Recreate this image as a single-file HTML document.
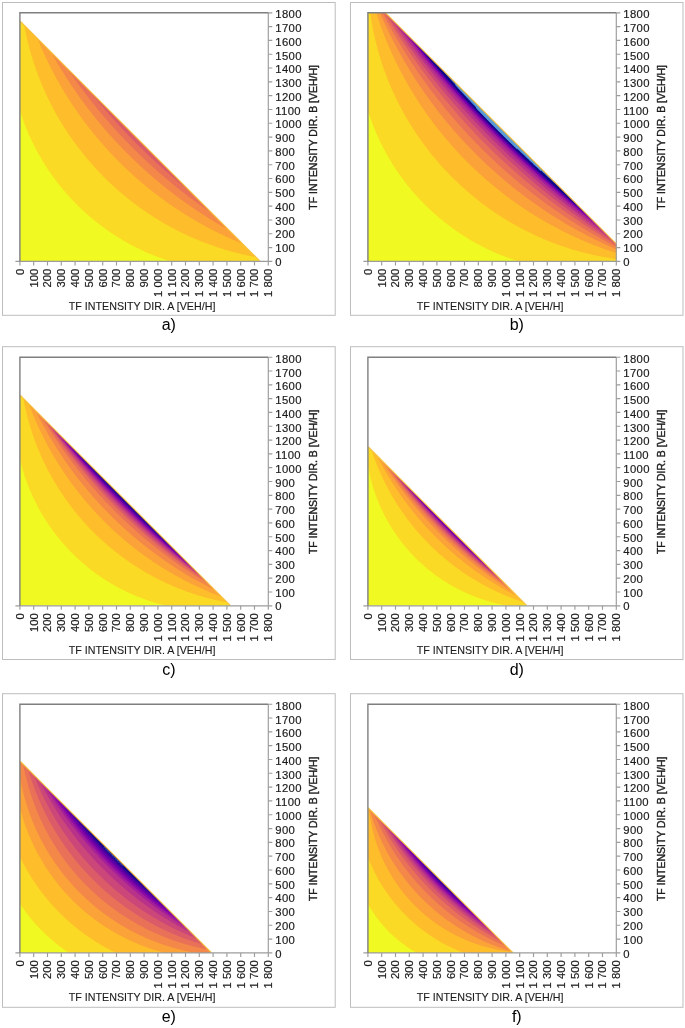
<!DOCTYPE html>
<html><head><meta charset="utf-8"><title>TF intensity contour plots</title>
<style>
html,body{margin:0;padding:0;background:#fff}
svg{display:block}
text{font-family:"Liberation Sans",sans-serif;fill:#222}
.t{font-size:11.3px;fill:#1c1c1c;stroke:#1c1c1c;stroke-width:0.18px}
.r{letter-spacing:0.35px}
.a{font-size:11.2px;fill:#1c1c1c;stroke:#1c1c1c;stroke-width:0.12px}
.yb{stroke:#1c1c1c;stroke-width:0.38px}
.c{font-size:16px;fill:#000}
</style></head><body>
<svg width="685" height="1028" viewBox="0 0 685 1028">
<rect width="685" height="1028" fill="#fff"/>
<rect x="2.5" y="2.5" width="332.7" height="312.8" fill="#fff" stroke="#bdbdbd" stroke-width="1"/>
<clipPath id="cp0"><rect x="19.9" y="12.8" width="248.4" height="248.59999999999997"/></clipPath>
<g clip-path="url(#cp0)">
<polygon points="19.90,261.40 259.74,261.40 19.90,21.36" fill="#f0f921"/>
<polygon points="19.90,110.40 20.18,111.31 20.47,112.21 20.75,113.11 21.05,114.01 21.34,114.91 21.64,115.80 21.95,116.70 22.25,117.59 22.56,118.48 22.88,119.37 23.20,120.26 23.52,121.15 23.84,122.03 24.17,122.91 24.50,123.80 24.84,124.67 25.18,125.55 25.52,126.43 25.87,127.30 26.22,128.18 26.57,129.05 26.93,129.92 27.29,130.78 27.65,131.65 28.02,132.51 28.39,133.38 28.76,134.24 29.14,135.10 29.52,135.95 29.91,136.81 30.30,137.66 30.69,138.51 31.08,139.36 31.48,140.21 31.88,141.06 32.29,141.90 32.70,142.74 33.11,143.58 33.52,144.42 33.94,145.26 34.36,146.09 34.79,146.92 35.22,147.75 35.65,148.58 36.08,149.41 36.52,150.23 36.96,151.06 37.41,151.88 37.85,152.70 38.31,153.51 38.76,154.33 39.22,155.14 39.68,155.95 40.14,156.76 40.61,157.57 41.08,158.37 41.55,159.17 42.03,159.97 42.51,160.77 42.99,161.57 43.48,162.36 43.97,163.15 44.46,163.94 44.96,164.73 45.46,165.51 45.96,166.30 46.46,167.08 46.97,167.86 47.48,168.63 48.00,169.41 48.51,170.18 49.03,170.95 49.56,171.72 50.08,172.49 50.61,173.25 51.15,174.01 51.68,174.77 52.22,175.53 52.76,176.28 53.30,177.03 53.85,177.78 54.40,178.53 54.95,179.28 55.51,180.02 56.07,180.76 56.63,181.50 57.20,182.23 57.76,182.97 58.34,183.70 58.91,184.43 59.48,185.15 60.06,185.88 60.65,186.60 61.23,187.32 61.82,188.04 62.41,188.75 63.00,189.46 63.60,190.17 64.20,190.88 64.80,191.58 65.40,192.29 66.01,192.99 66.62,193.68 67.24,194.38 67.85,195.07 68.47,195.76 69.09,196.45 69.72,197.13 70.34,197.82 70.97,198.50 71.60,199.17 72.24,199.85 72.88,200.52 73.52,201.19 74.16,201.86 74.80,202.52 75.45,203.18 76.10,203.84 76.76,204.50 77.41,205.15 78.07,205.80 78.73,206.45 79.40,207.10 80.06,207.74 80.73,208.38 81.40,209.02 82.08,209.66 82.75,210.29 83.43,210.92 84.11,211.54 84.80,212.17 85.49,212.79 86.18,213.41 86.87,214.03 87.56,214.64 88.26,215.25 88.96,215.86 89.66,216.46 90.36,217.07 91.07,217.67 91.78,218.26 92.49,218.86 93.20,219.45 93.92,220.04 94.64,220.62 95.36,221.20 96.08,221.78 96.81,222.36 97.54,222.93 98.27,223.51 99.00,224.07 99.74,224.64 100.48,225.20 101.22,225.76 101.96,226.32 102.70,226.87 103.45,227.42 104.20,227.97 104.95,228.51 105.70,229.06 106.46,229.59 107.22,230.13 107.98,230.66 108.74,231.19 109.51,231.72 110.28,232.24 111.04,232.76 111.82,233.28 112.59,233.80 113.37,234.31 114.14,234.82 114.93,235.32 115.71,235.82 116.49,236.32 117.28,236.82 118.07,237.31 118.86,237.80 119.65,238.29 120.45,238.77 121.25,239.25 122.05,239.73 122.85,240.20 123.65,240.67 124.46,241.14 125.27,241.61 126.07,242.07 126.89,242.52 127.70,242.98 128.52,243.43 129.33,243.88 130.15,244.32 130.98,244.77 131.80,245.20 132.63,245.64 133.45,246.07 134.28,246.50 135.12,246.93 135.95,247.35 136.79,247.77 137.62,248.18 138.46,248.59 139.30,249.00 140.15,249.41 140.99,249.81 141.84,250.21 142.69,250.60 143.54,251.00 144.39,251.38 145.25,251.77 146.10,252.15 146.96,252.53 147.82,252.90 148.68,253.27 149.54,253.64 150.41,254.01 151.28,254.37 152.15,254.72 153.02,255.08 153.89,255.43 154.76,255.77 155.64,256.12 156.52,256.46 157.39,256.79 158.27,257.13 159.16,257.45 160.04,257.78 160.93,258.10 161.81,258.42 162.70,258.73 163.59,259.04 164.49,259.35 165.38,259.66 166.28,259.96 167.17,260.25 168.07,260.54 168.97,260.83 169.87,261.12 170.78,261.40 259.74,261.40 19.90,21.36" fill="#fada24"/>
<polygon points="24.33,25.79 24.60,27.26 24.88,28.73 25.17,30.19 25.46,31.66 25.76,33.12 26.07,34.57 26.39,36.03 26.71,37.48 27.05,38.93 27.39,40.37 27.73,41.82 28.09,43.26 28.45,44.70 28.82,46.13 29.20,47.57 29.58,49.00 29.97,50.42 30.37,51.85 30.78,53.27 31.19,54.69 31.61,56.11 32.04,57.52 32.47,58.93 32.92,60.34 33.37,61.74 33.82,63.14 34.28,64.54 34.75,65.94 35.23,67.33 35.72,68.72 36.21,70.10 36.71,71.48 37.21,72.86 37.72,74.24 38.24,75.61 38.77,76.98 39.30,78.35 39.84,79.71 40.38,81.07 40.94,82.43 41.50,83.78 42.06,85.13 42.64,86.48 43.22,87.82 43.80,89.16 44.40,90.50 44.99,91.83 45.60,93.16 46.21,94.48 46.83,95.81 47.46,97.12 48.09,98.44 48.73,99.75 49.37,101.06 50.02,102.36 50.68,103.66 51.35,104.96 52.02,106.25 52.69,107.54 53.38,108.82 54.07,110.10 54.76,111.38 55.46,112.65 56.17,113.92 56.89,115.19 57.61,116.45 58.33,117.71 59.07,118.96 59.81,120.21 60.55,121.46 61.30,122.70 62.06,123.94 62.82,125.17 63.59,126.40 64.37,127.63 65.15,128.85 65.94,130.07 66.73,131.28 67.53,132.49 68.33,133.69 69.14,134.89 69.96,136.09 70.78,137.28 71.61,138.47 72.44,139.65 73.28,140.83 74.13,142.00 74.98,143.17 75.84,144.34 76.70,145.50 77.57,146.66 78.44,147.81 79.32,148.96 80.20,150.10 81.09,151.24 81.99,152.37 82.89,153.50 83.80,154.63 84.71,155.75 85.63,156.86 86.55,157.97 87.48,159.08 88.42,160.18 89.36,161.28 90.30,162.37 91.25,163.46 92.21,164.54 93.17,165.62 94.13,166.69 95.10,167.76 96.08,168.82 97.06,169.88 98.05,170.94 99.04,171.98 100.04,173.03 101.04,174.07 102.05,175.10 103.06,176.13 104.08,177.15 105.10,178.17 106.13,179.18 107.16,180.19 108.20,181.20 109.24,182.19 110.29,183.19 111.34,184.17 112.40,185.16 113.46,186.14 114.53,187.11 115.60,188.07 116.68,189.04 117.76,189.99 118.85,190.94 119.94,191.89 121.04,192.83 122.14,193.76 123.24,194.69 124.35,195.62 125.47,196.54 126.59,197.45 127.71,198.36 128.84,199.26 129.97,200.16 131.11,201.05 132.25,201.93 133.40,202.81 134.55,203.69 135.71,204.56 136.87,205.42 138.03,206.28 139.20,207.13 140.37,207.97 141.55,208.81 142.73,209.65 143.92,210.48 145.11,211.30 146.31,212.12 147.51,212.93 148.71,213.73 149.92,214.53 151.13,215.33 152.35,216.12 153.57,216.90 154.79,217.67 156.02,218.44 157.25,219.21 158.49,219.96 159.73,220.72 160.97,221.46 162.22,222.20 163.48,222.93 164.73,223.66 165.99,224.38 167.26,225.10 168.53,225.81 169.80,226.51 171.07,227.21 172.35,227.90 173.64,228.58 174.93,229.26 176.22,229.93 177.51,230.59 178.81,231.25 180.11,231.90 181.42,232.55 182.73,233.19 184.04,233.82 185.36,234.45 186.68,235.07 188.01,235.68 189.33,236.29 190.67,236.89 192.00,237.48 193.34,238.07 194.68,238.65 196.03,239.22 197.37,239.79 198.73,240.35 200.08,240.90 201.44,241.45 202.80,241.98 204.17,242.52 205.54,243.04 206.91,243.56 208.28,244.08 209.66,244.58 211.04,245.08 212.43,245.57 213.82,246.06 215.21,246.53 216.60,247.00 218.00,247.47 219.40,247.92 220.80,248.37 222.21,248.82 223.62,249.25 225.03,249.68 226.44,250.10 227.86,250.51 229.28,250.92 230.71,251.32 232.13,251.71 233.56,252.10 234.99,252.47 236.43,252.84 237.87,253.20 239.31,253.56 240.75,253.91 242.19,254.25 243.64,254.58 245.09,254.91 246.55,255.22 248.00,255.53 249.46,255.84 250.92,256.13 252.38,256.42 253.85,256.70 255.32,256.97 259.74,261.40 19.90,21.36" fill="#febd2a"/>
<polygon points="37.91,39.39 38.38,40.55 38.86,41.71 39.34,42.87 39.83,44.03 40.32,45.18 40.81,46.34 41.31,47.49 41.81,48.64 42.32,49.79 42.83,50.93 43.34,52.08 43.86,53.22 44.38,54.36 44.90,55.50 45.43,56.63 45.96,57.77 46.50,58.90 47.04,60.03 47.58,61.16 48.12,62.28 48.68,63.41 49.23,64.53 49.79,65.65 50.35,66.76 50.91,67.88 51.48,68.99 52.05,70.10 52.63,71.21 53.21,72.32 53.79,73.42 54.38,74.52 54.97,75.62 55.57,76.72 56.16,77.81 56.76,78.91 57.37,80.00 57.98,81.09 58.59,82.17 59.21,83.26 59.83,84.34 60.45,85.42 61.07,86.50 61.70,87.57 62.34,88.64 62.97,89.71 63.61,90.78 64.26,91.85 64.91,92.91 65.56,93.97 66.21,95.03 66.87,96.09 67.53,97.14 68.19,98.19 68.86,99.24 69.53,100.29 70.21,101.33 70.89,102.38 71.57,103.42 72.25,104.45 72.94,105.49 73.63,106.52 74.33,107.55 75.03,108.58 75.73,109.60 76.43,110.62 77.14,111.65 77.85,112.66 78.57,113.68 79.29,114.69 80.01,115.70 80.74,116.71 81.46,117.71 82.20,118.72 82.93,119.72 83.67,120.71 84.41,121.71 85.16,122.70 85.90,123.69 86.65,124.68 87.41,125.66 88.17,126.64 88.93,127.62 89.69,128.60 90.46,129.58 91.23,130.55 92.00,131.52 92.78,132.48 93.56,133.45 94.34,134.41 95.13,135.36 95.92,136.32 96.71,137.27 97.51,138.22 98.30,139.17 99.11,140.12 99.91,141.06 100.72,142.00 101.53,142.93 102.34,143.87 103.16,144.80 103.98,145.73 104.81,146.65 105.63,147.58 106.46,148.50 107.29,149.41 108.13,150.33 108.97,151.24 109.81,152.15 110.65,153.06 111.50,153.96 112.35,154.86 113.20,155.76 114.06,156.65 114.92,157.54 115.78,158.43 116.65,159.32 117.52,160.20 118.39,161.08 119.26,161.96 120.14,162.83 121.02,163.71 121.90,164.58 122.78,165.44 123.67,166.30 124.56,167.16 125.46,168.02 126.35,168.87 127.25,169.73 128.16,170.57 129.06,171.42 129.97,172.26 130.88,173.10 131.80,173.94 132.71,174.77 133.63,175.60 134.55,176.43 135.48,177.25 136.41,178.07 137.34,178.89 138.27,179.70 139.21,180.52 140.14,181.32 141.09,182.13 142.03,182.93 142.98,183.73 143.93,184.53 144.88,185.32 145.83,186.11 146.79,186.90 147.75,187.68 148.71,188.46 149.68,189.24 150.65,190.01 151.62,190.78 152.59,191.55 153.57,192.32 154.55,193.08 155.53,193.84 156.51,194.59 157.50,195.34 158.49,196.09 159.48,196.84 160.47,197.58 161.47,198.32 162.47,199.05 163.47,199.79 164.48,200.52 165.48,201.24 166.49,201.96 167.50,202.68 168.52,203.40 169.53,204.11 170.55,204.82 171.58,205.53 172.60,206.23 173.63,206.93 174.66,207.62 175.69,208.32 176.72,209.00 177.76,209.69 178.80,210.37 179.84,211.05 180.88,211.73 181.93,212.40 182.98,213.07 184.03,213.73 185.08,214.39 186.14,215.05 187.19,215.71 188.25,216.36 189.32,217.01 190.38,217.65 191.45,218.29 192.52,218.93 193.59,219.56 194.66,220.19 195.74,220.82 196.82,221.44 197.90,222.06 198.98,222.68 200.07,223.29 201.16,223.90 202.25,224.51 203.34,225.11 204.43,225.71 205.53,226.30 206.63,226.89 207.73,227.48 208.83,228.06 209.94,228.64 211.05,229.22 212.15,229.79 213.27,230.36 214.38,230.93 215.50,231.49 216.61,232.05 217.74,232.60 218.86,233.15 219.98,233.70 221.11,234.24 222.24,234.78 223.37,235.32 224.50,235.85 225.64,236.38 226.77,236.90 227.91,237.42 229.05,237.94 230.20,238.45 231.34,238.96 232.49,239.47 233.64,239.97 234.79,240.47 235.94,240.96 237.10,241.45 238.25,241.94 239.41,242.42 240.57,242.90 241.74,243.38 259.74,261.40 19.90,21.36" fill="#fba238"/>
<polygon points="51.89,53.38 52.40,54.31 52.92,55.23 53.45,56.16 53.97,57.09 54.50,58.01 55.03,58.93 55.56,59.85 56.09,60.78 56.62,61.69 57.16,62.61 57.70,63.53 58.24,64.44 58.78,65.36 59.33,66.27 59.88,67.18 60.43,68.09 60.98,69.00 61.53,69.90 62.09,70.81 62.64,71.71 63.20,72.61 63.77,73.51 64.33,74.41 64.90,75.31 65.46,76.21 66.03,77.10 66.61,78.00 67.18,78.89 67.76,79.78 68.33,80.67 68.91,81.56 69.50,82.44 70.08,83.33 70.67,84.21 71.26,85.09 71.85,85.97 72.44,86.85 73.03,87.73 73.63,88.61 74.23,89.48 74.83,90.36 75.43,91.23 76.03,92.10 76.64,92.97 77.25,93.84 77.86,94.70 78.47,95.57 79.09,96.43 79.70,97.29 80.32,98.15 80.94,99.01 81.56,99.87 82.19,100.72 82.81,101.58 83.44,102.43 84.07,103.28 84.70,104.13 85.34,104.98 85.97,105.82 86.61,106.67 87.25,107.51 87.89,108.35 88.54,109.19 89.18,110.03 89.83,110.87 90.48,111.70 91.13,112.54 91.78,113.37 92.44,114.20 93.09,115.03 93.75,115.86 94.41,116.68 95.08,117.51 95.74,118.33 96.41,119.15 97.07,119.97 97.74,120.79 98.42,121.61 99.09,122.42 99.77,123.24 100.44,124.05 101.12,124.86 101.80,125.67 102.49,126.47 103.17,127.28 103.86,128.08 104.55,128.89 105.24,129.69 105.93,130.48 106.63,131.28 107.32,132.08 108.02,132.87 108.72,133.66 109.42,134.45 110.12,135.24 110.83,136.03 111.54,136.82 112.24,137.60 112.95,138.38 113.67,139.16 114.38,139.94 115.10,140.72 115.82,141.49 116.53,142.27 117.26,143.04 117.98,143.81 118.70,144.58 119.43,145.35 120.16,146.11 120.89,146.88 121.62,147.64 122.35,148.40 123.09,149.16 123.83,149.91 124.57,150.67 125.31,151.42 126.05,152.18 126.79,152.93 127.54,153.67 128.29,154.42 129.04,155.16 129.79,155.91 130.54,156.65 131.30,157.39 132.05,158.13 132.81,158.86 133.57,159.60 134.33,160.33 135.09,161.06 135.86,161.79 136.63,162.52 137.39,163.24 138.16,163.97 138.94,164.69 139.71,165.41 140.48,166.13 141.26,166.84 142.04,167.56 142.82,168.27 143.60,168.98 144.38,169.69 145.17,170.40 145.96,171.10 146.74,171.81 147.53,172.51 148.33,173.21 149.12,173.91 149.91,174.60 150.71,175.30 151.51,175.99 152.31,176.68 153.11,177.37 153.91,178.06 154.72,178.75 155.52,179.43 156.33,180.11 157.14,180.79 157.95,181.47 158.77,182.15 159.58,182.82 160.40,183.49 161.21,184.16 162.03,184.83 162.85,185.50 163.68,186.16 164.50,186.83 165.32,187.49 166.15,188.15 166.98,188.81 167.81,189.46 168.64,190.11 169.48,190.77 170.31,191.42 171.15,192.06 171.98,192.71 172.82,193.35 173.67,194.00 174.51,194.64 175.35,195.27 176.20,195.91 177.04,196.54 177.89,197.18 178.74,197.81 179.60,198.44 180.45,199.06 181.30,199.69 182.16,200.31 183.02,200.93 183.88,201.55 184.74,202.17 185.60,202.78 186.46,203.39 187.33,204.00 188.20,204.61 189.06,205.22 189.93,205.83 190.81,206.43 191.68,207.03 192.55,207.63 193.43,208.22 194.31,208.82 195.18,209.41 196.06,210.00 196.95,210.59 197.83,211.18 198.71,211.76 199.60,212.35 200.49,212.93 201.37,213.51 202.26,214.08 203.16,214.66 204.05,215.23 204.94,215.80 205.84,216.37 206.74,216.93 207.64,217.50 208.54,218.06 209.44,218.62 210.34,219.18 211.24,219.74 212.15,220.29 213.06,220.84 213.97,221.39 214.88,221.94 215.79,222.49 216.70,223.03 217.61,223.57 218.53,224.11 219.45,224.65 220.36,225.18 221.28,225.72 222.20,226.25 223.13,226.77 224.05,227.30 224.97,227.83 225.90,228.35 226.83,228.87 227.76,229.39 259.74,261.40 19.90,21.36" fill="#f48849"/>
<polygon points="68.34,69.85 68.83,70.56 69.31,71.26 69.79,71.97 70.28,72.68 70.76,73.38 71.25,74.09 71.74,74.79 72.23,75.49 72.72,76.19 73.21,76.90 73.70,77.60 74.20,78.30 74.69,78.99 75.19,79.69 75.68,80.39 76.18,81.09 76.68,81.78 77.18,82.48 77.68,83.17 78.19,83.86 78.69,84.56 79.19,85.25 79.70,85.94 80.21,86.63 80.71,87.32 81.22,88.00 81.73,88.69 82.24,89.38 82.76,90.06 83.27,90.75 83.78,91.43 84.30,92.11 84.81,92.80 85.33,93.48 85.85,94.16 86.37,94.84 86.89,95.52 87.41,96.19 87.93,96.87 88.46,97.55 88.98,98.22 89.51,98.90 90.04,99.57 90.56,100.24 91.09,100.91 91.62,101.59 92.15,102.26 92.69,102.92 93.22,103.59 93.75,104.26 94.29,104.93 94.83,105.59 95.36,106.26 95.90,106.92 96.44,107.58 96.98,108.25 97.52,108.91 98.06,109.57 98.61,110.23 99.15,110.89 99.70,111.55 100.25,112.20 100.79,112.86 101.34,113.51 101.89,114.17 102.44,114.82 102.99,115.47 103.55,116.13 104.10,116.78 104.65,117.43 105.21,118.07 105.77,118.72 106.33,119.37 106.88,120.02 107.44,120.66 108.00,121.31 108.57,121.95 109.13,122.59 109.69,123.23 110.26,123.88 110.82,124.52 111.39,125.15 111.96,125.79 112.53,126.43 113.10,127.07 113.67,127.70 114.24,128.34 114.81,128.97 115.39,129.60 115.96,130.23 116.54,130.86 117.12,131.49 117.69,132.12 118.27,132.75 118.85,133.38 119.43,134.00 120.01,134.63 120.60,135.25 121.18,135.88 121.77,136.50 122.35,137.12 122.94,137.74 123.53,138.36 124.11,138.98 124.70,139.60 125.29,140.22 125.89,140.83 126.48,141.45 127.07,142.06 127.67,142.67 128.26,143.29 128.86,143.90 129.46,144.51 130.05,145.12 130.65,145.72 131.25,146.33 131.85,146.94 132.46,147.54 133.06,148.15 133.66,148.75 134.27,149.36 134.88,149.96 135.48,150.56 136.09,151.16 136.70,151.76 137.31,152.35 137.92,152.95 138.53,153.55 139.14,154.14 139.76,154.74 140.37,155.33 140.99,155.92 141.60,156.51 142.22,157.10 142.84,157.69 143.46,158.28 144.08,158.87 144.70,159.45 145.32,160.04 145.94,160.62 146.57,161.21 147.19,161.79 147.82,162.37 148.45,162.95 149.07,163.53 149.70,164.11 150.33,164.68 150.96,165.26 151.59,165.84 152.22,166.41 152.86,166.98 153.49,167.56 154.13,168.13 154.76,168.70 155.40,169.27 156.04,169.84 156.67,170.40 157.31,170.97 157.95,171.53 158.60,172.10 159.24,172.66 159.88,173.22 160.52,173.79 161.17,174.35 161.82,174.91 162.46,175.46 163.11,176.02 163.76,176.58 164.41,177.13 165.06,177.69 165.71,178.24 166.36,178.79 167.01,179.34 167.67,179.89 168.32,180.44 168.98,180.99 169.63,181.54 170.29,182.08 170.95,182.63 171.61,183.17 172.27,183.72 172.93,184.26 173.59,184.80 174.25,185.34 174.92,185.88 175.58,186.41 176.25,186.95 176.91,187.49 177.58,188.02 178.25,188.56 178.92,189.09 179.59,189.62 180.26,190.15 180.93,190.68 181.60,191.21 182.27,191.73 182.95,192.26 183.62,192.79 184.30,193.31 184.97,193.83 185.65,194.36 186.33,194.88 187.01,195.40 187.69,195.92 188.37,196.43 189.05,196.95 189.73,197.47 190.42,197.98 191.10,198.49 191.78,199.01 192.47,199.52 193.16,200.03 193.84,200.54 194.53,201.05 195.22,201.55 195.91,202.06 196.60,202.56 197.29,203.07 197.99,203.57 198.68,204.07 199.37,204.57 200.07,205.07 200.76,205.57 201.46,206.07 202.16,206.56 202.86,207.06 203.56,207.55 204.26,208.05 204.96,208.54 205.66,209.03 206.36,209.52 207.06,210.01 207.77,210.50 208.47,210.98 209.18,211.47 209.88,211.95 210.59,212.43 211.30,212.92 259.74,261.40 19.90,21.36" fill="#e97158"/>
<polygon points="90.39,91.91 90.76,92.37 91.13,92.83 91.50,93.29 91.86,93.75 92.23,94.21 92.60,94.67 92.97,95.13 93.35,95.59 93.72,96.04 94.09,96.50 94.46,96.96 94.83,97.41 95.21,97.87 95.58,98.33 95.95,98.78 96.33,99.24 96.70,99.69 97.08,100.15 97.45,100.60 97.83,101.05 98.20,101.51 98.58,101.96 98.96,102.41 99.33,102.87 99.71,103.32 100.09,103.77 100.47,104.22 100.85,104.67 101.23,105.12 101.61,105.57 101.99,106.02 102.37,106.47 102.75,106.92 103.13,107.37 103.51,107.82 103.90,108.26 104.28,108.71 104.66,109.16 105.05,109.61 105.43,110.05 105.82,110.50 106.20,110.94 106.59,111.39 106.97,111.84 107.36,112.28 107.75,112.72 108.13,113.17 108.52,113.61 108.91,114.05 109.30,114.50 109.68,114.94 110.07,115.38 110.46,115.82 110.85,116.27 111.24,116.71 111.63,117.15 112.03,117.59 112.42,118.03 112.81,118.47 113.20,118.91 113.59,119.34 113.99,119.78 114.38,120.22 114.77,120.66 115.17,121.10 115.56,121.53 115.96,121.97 116.35,122.41 116.75,122.84 117.15,123.28 117.54,123.71 117.94,124.15 118.34,124.58 118.74,125.01 119.14,125.45 119.53,125.88 119.93,126.31 120.33,126.75 120.73,127.18 121.13,127.61 121.53,128.04 121.94,128.47 122.34,128.90 122.74,129.33 123.14,129.76 123.54,130.19 123.95,130.62 124.35,131.05 124.76,131.48 125.16,131.90 125.57,132.33 125.97,132.76 126.38,133.19 126.78,133.61 127.19,134.04 127.60,134.46 128.00,134.89 128.41,135.31 128.82,135.74 129.23,136.16 129.64,136.59 130.04,137.01 130.45,137.43 130.86,137.85 131.28,138.28 131.69,138.70 132.10,139.12 132.51,139.54 132.92,139.96 133.33,140.38 133.75,140.80 134.16,141.22 134.57,141.64 134.99,142.06 135.40,142.47 135.82,142.89 136.23,143.31 136.65,143.73 137.06,144.14 137.48,144.56 137.89,144.98 138.31,145.39 138.73,145.81 139.15,146.22 139.57,146.64 139.98,147.05 140.40,147.46 140.82,147.88 141.24,148.29 141.66,148.70 142.08,149.11 142.50,149.52 142.93,149.94 143.35,150.35 143.77,150.76 144.19,151.17 144.61,151.58 145.04,151.99 145.46,152.39 145.89,152.80 146.31,153.21 146.73,153.62 147.16,154.02 147.59,154.43 148.01,154.84 148.44,155.24 148.86,155.65 149.29,156.05 149.72,156.46 150.15,156.86 150.57,157.27 151.00,157.67 151.43,158.07 151.86,158.48 152.29,158.88 152.72,159.28 153.15,159.68 153.58,160.08 154.01,160.49 154.45,160.89 154.88,161.29 155.31,161.69 155.74,162.08 156.18,162.48 156.61,162.88 157.04,163.28 157.48,163.68 157.91,164.07 158.35,164.47 158.78,164.87 159.22,165.26 159.66,165.66 160.09,166.05 160.53,166.45 160.97,166.84 161.40,167.24 161.84,167.63 162.28,168.02 162.72,168.42 163.16,168.81 163.60,169.20 164.04,169.59 164.48,169.98 164.92,170.37 165.36,170.76 165.80,171.15 166.24,171.54 166.68,171.93 167.13,172.32 167.57,172.71 168.01,173.10 168.46,173.48 168.90,173.87 169.34,174.26 169.79,174.64 170.23,175.03 170.68,175.41 171.13,175.80 171.57,176.18 172.02,176.57 172.46,176.95 172.91,177.33 173.36,177.72 173.81,178.10 174.26,178.48 174.70,178.86 175.15,179.24 175.60,179.63 176.05,180.01 176.50,180.39 176.95,180.77 177.40,181.14 177.86,181.52 178.31,181.90 178.76,182.28 179.21,182.66 179.66,183.03 180.12,183.41 180.57,183.79 181.02,184.16 181.48,184.54 181.93,184.91 182.39,185.29 182.84,185.66 183.30,186.03 183.75,186.41 184.21,186.78 184.67,187.15 185.12,187.52 185.58,187.90 186.04,188.27 186.50,188.64 186.96,189.01 187.41,189.38 187.87,189.75 188.33,190.12 188.79,190.48 189.25,190.85 259.74,261.40 19.90,21.36" fill="#db5c68"/>
<line x1="19.90" y1="21.36" x2="259.74" y2="261.40" stroke="#f6bf3b" stroke-width="1.15" stroke-opacity="0.95" transform="translate(0.25 -0.25)"/>
</g>
<path d="M268.3 12.8V261.4" stroke="#9c9c9c" stroke-width="1.15" fill="none"/>
<path d="M15.399999999999999 261.4H268.3" stroke="#9c9c9c" stroke-width="1.15" fill="none"/>
<path d="M268.3 261.40h4M19.90 261.4v4M268.3 247.59h4M33.70 261.4v4M268.3 233.78h4M47.50 261.4v4M268.3 219.97h4M61.30 261.4v4M268.3 206.16h4M75.10 261.4v4M268.3 192.34h4M88.90 261.4v4M268.3 178.53h4M102.70 261.4v4M268.3 164.72h4M116.50 261.4v4M268.3 150.91h4M130.30 261.4v4M268.3 137.10h4M144.10 261.4v4M268.3 123.29h4M157.90 261.4v4M268.3 109.48h4M171.70 261.4v4M268.3 95.67h4M185.50 261.4v4M268.3 81.86h4M199.30 261.4v4M268.3 68.04h4M213.10 261.4v4M268.3 54.23h4M226.90 261.4v4M268.3 40.42h4M240.70 261.4v4M268.3 26.61h4M254.50 261.4v4M268.3 12.80h4M268.30 261.4v4" stroke="#9c9c9c" stroke-width="1.15" fill="none"/>
<path d="M19.9 261.4V12.8H268.3" stroke="#7f7f7f" stroke-width="1.4" fill="none"/>
<text x="275.3" y="266.00" class="t r">0</text>
<text x="275.3" y="252.24" class="t r">100</text>
<text x="275.3" y="238.49" class="t r">200</text>
<text x="275.3" y="224.73" class="t r">300</text>
<text x="275.3" y="210.98" class="t r">400</text>
<text x="275.3" y="197.22" class="t r">500</text>
<text x="275.3" y="183.47" class="t r">600</text>
<text x="275.3" y="169.71" class="t r">700</text>
<text x="275.3" y="155.96" class="t r">800</text>
<text x="275.3" y="142.20" class="t r">900</text>
<text x="275.3" y="128.44" class="t r">1000</text>
<text x="275.3" y="114.69" class="t r">1100</text>
<text x="275.3" y="100.93" class="t r">1200</text>
<text x="275.3" y="87.18" class="t r">1300</text>
<text x="275.3" y="73.42" class="t r">1400</text>
<text x="275.3" y="59.67" class="t r">1500</text>
<text x="275.3" y="45.91" class="t r">1600</text>
<text x="275.3" y="32.16" class="t r">1700</text>
<text x="275.3" y="18.40" class="t r">1800</text>
<text transform="translate(23.80 268.7) rotate(-90)" text-anchor="end" class="t">0</text>
<text transform="translate(37.60 268.7) rotate(-90)" text-anchor="end" class="t">100</text>
<text transform="translate(51.40 268.7) rotate(-90)" text-anchor="end" class="t">200</text>
<text transform="translate(65.20 268.7) rotate(-90)" text-anchor="end" class="t">300</text>
<text transform="translate(79.00 268.7) rotate(-90)" text-anchor="end" class="t">400</text>
<text transform="translate(92.80 268.7) rotate(-90)" text-anchor="end" class="t">500</text>
<text transform="translate(106.60 268.7) rotate(-90)" text-anchor="end" class="t">600</text>
<text transform="translate(120.40 268.7) rotate(-90)" text-anchor="end" class="t">700</text>
<text transform="translate(134.20 268.7) rotate(-90)" text-anchor="end" class="t">800</text>
<text transform="translate(148.00 268.7) rotate(-90)" text-anchor="end" class="t">900</text>
<text transform="translate(161.80 268.7) rotate(-90)" text-anchor="end" class="t">1 000</text>
<text transform="translate(175.60 268.7) rotate(-90)" text-anchor="end" class="t">1 100</text>
<text transform="translate(189.40 268.7) rotate(-90)" text-anchor="end" class="t">1 200</text>
<text transform="translate(203.20 268.7) rotate(-90)" text-anchor="end" class="t">1 300</text>
<text transform="translate(217.00 268.7) rotate(-90)" text-anchor="end" class="t">1 400</text>
<text transform="translate(230.80 268.7) rotate(-90)" text-anchor="end" class="t">1 500</text>
<text transform="translate(244.60 268.7) rotate(-90)" text-anchor="end" class="t">1 600</text>
<text transform="translate(258.40 268.7) rotate(-90)" text-anchor="end" class="t">1 700</text>
<text transform="translate(272.20 268.7) rotate(-90)" text-anchor="end" class="t">1 800</text>
<text x="142.1" y="309.9" text-anchor="middle" class="a" textLength="146.6" lengthAdjust="spacingAndGlyphs">TF INTENSITY DIR. A [VEH/H]</text>
<text transform="translate(316.9 137.4) rotate(-90)" text-anchor="middle" class="a yb" textLength="144.5" lengthAdjust="spacingAndGlyphs">TF INTENSITY DIR. B [VEH/H]</text>
<text x="168.8" y="330.3" text-anchor="middle" class="c">a)</text>
<rect x="350.5" y="2.5" width="332.5" height="312.8" fill="#fff" stroke="#bdbdbd" stroke-width="1"/>
<clipPath id="cp1"><rect x="367.9" y="12.8" width="248.39999999999998" height="248.59999999999997"/></clipPath>
<g clip-path="url(#cp1)">
<polygon points="367.90,261.40 633.41,261.40 367.90,-4.33" fill="#f0f921"/>
<polygon points="367.90,110.40 368.18,111.31 368.47,112.21 368.75,113.11 369.05,114.01 369.34,114.91 369.64,115.80 369.95,116.70 370.25,117.59 370.56,118.48 370.88,119.37 371.20,120.26 371.52,121.15 371.84,122.03 372.17,122.91 372.50,123.80 372.84,124.67 373.18,125.55 373.52,126.43 373.87,127.30 374.22,128.18 374.57,129.05 374.93,129.92 375.29,130.78 375.65,131.65 376.02,132.51 376.39,133.38 376.76,134.24 377.14,135.10 377.52,135.95 377.91,136.81 378.30,137.66 378.69,138.51 379.08,139.36 379.48,140.21 379.88,141.06 380.29,141.90 380.70,142.74 381.11,143.58 381.52,144.42 381.94,145.26 382.36,146.09 382.79,146.92 383.22,147.75 383.65,148.58 384.08,149.41 384.52,150.23 384.96,151.06 385.41,151.88 385.85,152.70 386.31,153.51 386.76,154.33 387.22,155.14 387.68,155.95 388.14,156.76 388.61,157.57 389.08,158.37 389.55,159.17 390.03,159.97 390.51,160.77 390.99,161.57 391.48,162.36 391.97,163.15 392.46,163.94 392.96,164.73 393.46,165.51 393.96,166.30 394.46,167.08 394.97,167.86 395.48,168.63 396.00,169.41 396.51,170.18 397.03,170.95 397.56,171.72 398.08,172.49 398.61,173.25 399.15,174.01 399.68,174.77 400.22,175.53 400.76,176.28 401.30,177.03 401.85,177.78 402.40,178.53 402.95,179.28 403.51,180.02 404.07,180.76 404.63,181.50 405.20,182.23 405.76,182.97 406.34,183.70 406.91,184.43 407.48,185.15 408.06,185.88 408.65,186.60 409.23,187.32 409.82,188.04 410.41,188.75 411.00,189.46 411.60,190.17 412.20,190.88 412.80,191.58 413.40,192.29 414.01,192.99 414.62,193.68 415.24,194.38 415.85,195.07 416.47,195.76 417.09,196.45 417.72,197.13 418.34,197.82 418.97,198.50 419.60,199.17 420.24,199.85 420.88,200.52 421.52,201.19 422.16,201.86 422.80,202.52 423.45,203.18 424.10,203.84 424.76,204.50 425.41,205.15 426.07,205.80 426.73,206.45 427.40,207.10 428.06,207.74 428.73,208.38 429.40,209.02 430.08,209.66 430.75,210.29 431.43,210.92 432.11,211.54 432.80,212.17 433.49,212.79 434.18,213.41 434.87,214.03 435.56,214.64 436.26,215.25 436.96,215.86 437.66,216.46 438.36,217.07 439.07,217.67 439.78,218.26 440.49,218.86 441.20,219.45 441.92,220.04 442.64,220.62 443.36,221.20 444.08,221.78 444.81,222.36 445.54,222.93 446.27,223.51 447.00,224.07 447.74,224.64 448.48,225.20 449.22,225.76 449.96,226.32 450.70,226.87 451.45,227.42 452.20,227.97 452.95,228.51 453.70,229.06 454.46,229.59 455.22,230.13 455.98,230.66 456.74,231.19 457.51,231.72 458.28,232.24 459.04,232.76 459.82,233.28 460.59,233.80 461.37,234.31 462.14,234.82 462.93,235.32 463.71,235.82 464.49,236.32 465.28,236.82 466.07,237.31 466.86,237.80 467.65,238.29 468.45,238.77 469.25,239.25 470.05,239.73 470.85,240.20 471.65,240.67 472.46,241.14 473.27,241.61 474.07,242.07 474.89,242.52 475.70,242.98 476.52,243.43 477.33,243.88 478.15,244.32 478.98,244.77 479.80,245.20 480.63,245.64 481.45,246.07 482.28,246.50 483.12,246.93 483.95,247.35 484.79,247.77 485.62,248.18 486.46,248.59 487.30,249.00 488.15,249.41 488.99,249.81 489.84,250.21 490.69,250.60 491.54,251.00 492.39,251.38 493.25,251.77 494.10,252.15 494.96,252.53 495.82,252.90 496.68,253.27 497.54,253.64 498.41,254.01 499.28,254.37 500.15,254.72 501.02,255.08 501.89,255.43 502.76,255.77 503.64,256.12 504.52,256.46 505.39,256.79 506.27,257.13 507.16,257.45 508.04,257.78 508.93,258.10 509.81,258.42 510.70,258.73 511.59,259.04 512.49,259.35 513.38,259.66 514.28,259.96 515.17,260.25 516.07,260.54 516.97,260.83 517.87,261.12 518.78,261.40 633.41,261.40 367.90,-4.33" fill="#fada24"/>
<polygon points="368.58,-3.65 368.71,-1.89 368.86,-0.13 369.01,1.63 369.18,3.38 369.36,5.14 369.55,6.88 369.75,8.63 369.96,10.37 370.19,12.11 370.42,13.85 370.66,15.58 370.92,17.32 371.18,19.04 371.46,20.77 371.75,22.49 372.04,24.21 372.35,25.92 372.67,27.64 373.00,29.35 373.34,31.05 373.69,32.75 374.05,34.45 374.42,36.15 374.80,37.84 375.19,39.53 375.59,41.21 376.00,42.90 376.42,44.57 376.85,46.25 377.29,47.92 377.74,49.58 378.20,51.25 378.67,52.90 379.15,54.56 379.64,56.21 380.14,57.86 380.65,59.50 381.17,61.14 381.70,62.77 382.24,64.40 382.79,66.03 383.34,67.65 383.91,69.27 384.49,70.88 385.07,72.49 385.67,74.10 386.27,75.70 386.89,77.30 387.51,78.89 388.14,80.48 388.79,82.06 389.44,83.64 390.10,85.21 390.77,86.78 391.44,88.34 392.13,89.90 392.83,91.46 393.53,93.01 394.25,94.55 394.97,96.09 395.70,97.63 396.44,99.16 397.19,100.69 397.95,102.21 398.71,103.72 399.49,105.23 400.27,106.74 401.07,108.24 401.87,109.73 402.68,111.22 403.49,112.71 404.32,114.19 405.16,115.66 406.00,117.13 406.85,118.59 407.71,120.05 408.58,121.50 409.46,122.95 410.34,124.39 411.23,125.83 412.13,127.26 413.04,128.68 413.96,130.10 414.89,131.52 415.82,132.92 416.76,134.33 417.71,135.72 418.67,137.11 419.63,138.50 420.60,139.88 421.58,141.25 422.57,142.62 423.57,143.98 424.57,145.33 425.58,146.68 426.60,148.02 427.63,149.36 428.66,150.69 429.71,152.01 430.76,153.33 431.81,154.64 432.88,155.95 433.95,157.25 435.03,158.54 436.12,159.83 437.21,161.11 438.31,162.38 439.42,163.65 440.53,164.91 441.66,166.16 442.79,167.41 443.92,168.65 445.07,169.89 446.22,171.12 447.38,172.34 448.54,173.55 449.71,174.76 450.89,175.96 452.08,177.15 453.27,178.34 454.47,179.52 455.68,180.69 456.89,181.86 458.11,183.02 459.34,184.17 460.57,185.31 461.81,186.45 463.06,187.58 464.31,188.71 465.57,189.82 466.84,190.93 468.11,192.04 469.39,193.13 470.67,194.22 471.97,195.30 473.27,196.37 474.57,197.44 475.88,198.49 477.20,199.54 478.52,200.59 479.85,201.62 481.19,202.65 482.53,203.67 483.87,204.68 485.23,205.69 486.59,206.68 487.95,207.67 489.33,208.65 490.70,209.63 492.09,210.59 493.48,211.55 494.87,212.50 496.27,213.44 497.68,214.38 499.09,215.30 500.51,216.22 501.93,217.13 503.36,218.03 504.80,218.93 506.24,219.81 507.68,220.69 509.13,221.56 510.59,222.42 512.05,223.27 513.52,224.11 514.99,224.95 516.47,225.78 517.96,226.60 519.44,227.41 520.94,228.21 522.44,229.00 523.94,229.79 525.45,230.56 526.97,231.33 528.49,232.09 530.01,232.84 531.54,233.58 533.07,234.31 534.61,235.03 536.16,235.75 537.71,236.45 539.26,237.15 540.82,237.84 542.38,238.52 543.95,239.19 545.52,239.85 547.10,240.50 548.68,241.14 550.27,241.77 551.86,242.40 553.45,243.01 555.05,243.62 556.65,244.21 558.26,244.80 559.87,245.38 561.49,245.94 563.11,246.50 564.74,247.05 566.37,247.59 568.00,248.12 569.64,248.64 571.28,249.15 572.93,249.65 574.57,250.14 576.23,250.62 577.89,251.09 579.55,251.55 581.21,252.00 582.88,252.44 584.55,252.87 586.23,253.30 587.91,253.71 589.59,254.11 591.28,254.50 592.97,254.88 594.66,255.25 596.36,255.61 598.06,255.96 599.77,256.30 601.47,256.63 603.19,256.95 604.90,257.25 606.62,257.55 608.34,257.84 610.06,258.11 611.79,258.38 613.52,258.63 615.25,258.88 616.99,259.11 618.73,259.33 620.47,259.55 622.21,259.75 623.96,259.94 625.71,260.12 627.46,260.28 629.22,260.44 630.97,260.59 632.73,260.72 633.41,261.40 367.90,-4.33" fill="#febd2a"/>
<polygon points="372.60,0.38 373.04,1.93 373.48,3.49 373.93,5.04 374.39,6.59 374.86,8.13 375.33,9.68 375.81,11.22 376.29,12.76 376.78,14.29 377.28,15.82 377.78,17.35 378.30,18.88 378.81,20.40 379.34,21.92 379.87,23.44 380.41,24.96 380.95,26.47 381.50,27.98 382.06,29.49 382.62,30.99 383.19,32.49 383.77,33.99 384.35,35.48 384.94,36.97 385.53,38.46 386.13,39.94 386.74,41.42 387.36,42.90 387.98,44.38 388.60,45.85 389.24,47.32 389.88,48.78 390.52,50.25 391.17,51.71 391.83,53.16 392.49,54.61 393.16,56.06 393.84,57.51 394.52,58.95 395.21,60.39 395.90,61.83 396.60,63.26 397.31,64.69 398.02,66.11 398.74,67.54 399.46,68.95 400.19,70.37 400.93,71.78 401.67,73.19 402.42,74.59 403.17,75.99 403.93,77.39 404.70,78.78 405.47,80.17 406.24,81.56 407.03,82.94 407.82,84.32 408.61,85.70 409.41,87.07 410.22,88.44 411.03,89.80 411.84,91.16 412.67,92.52 413.50,93.87 414.33,95.22 415.17,96.57 416.01,97.91 416.86,99.25 417.72,100.58 418.58,101.91 419.45,103.24 420.32,104.56 421.20,105.88 422.09,107.19 422.97,108.50 423.87,109.81 424.77,111.11 425.68,112.41 426.59,113.70 427.50,114.99 428.42,116.28 429.35,117.56 430.28,118.84 431.22,120.11 432.17,121.38 433.11,122.65 434.07,123.91 435.03,125.16 435.99,126.42 436.96,127.66 437.93,128.91 438.91,130.15 439.90,131.38 440.89,132.62 441.88,133.84 442.88,135.07 443.89,136.28 444.90,137.50 445.91,138.71 446.93,139.91 447.96,141.12 448.99,142.31 450.03,143.50 451.07,144.69 452.11,145.87 453.16,147.05 454.22,148.23 455.28,149.40 456.34,150.56 457.41,151.72 458.49,152.88 459.57,154.03 460.65,155.18 461.74,156.32 462.84,157.46 463.93,158.59 465.04,159.72 466.15,160.84 467.26,161.96 468.38,163.07 469.50,164.18 470.63,165.29 471.76,166.39 472.90,167.48 474.04,168.57 475.18,169.66 476.33,170.74 477.49,171.81 478.65,172.89 479.81,173.95 480.98,175.01 482.15,176.07 483.33,177.12 484.51,178.17 485.70,179.21 486.89,180.24 488.09,181.28 489.29,182.30 490.49,183.32 491.70,184.34 492.91,185.35 494.13,186.36 495.35,187.36 496.58,188.35 497.81,189.34 499.05,190.33 500.28,191.31 501.53,192.29 502.78,193.26 504.03,194.22 505.28,195.18 506.54,196.13 507.81,197.08 509.08,198.03 510.35,198.97 511.63,199.90 512.91,200.83 514.19,201.75 515.48,202.67 516.77,203.58 518.07,204.48 519.37,205.39 520.68,206.28 521.99,207.17 523.30,208.06 524.62,208.93 525.94,209.81 527.26,210.68 528.59,211.54 529.92,212.40 531.26,213.25 532.60,214.09 533.94,214.93 535.29,215.77 536.64,216.60 538.00,217.42 539.36,218.24 540.72,219.05 542.09,219.86 543.46,220.66 544.83,221.45 546.21,222.24 547.59,223.02 548.98,223.80 550.37,224.57 551.76,225.34 553.16,226.10 554.56,226.85 555.96,227.60 557.37,228.34 558.78,229.08 560.19,229.81 561.61,230.54 563.03,231.25 564.45,231.97 565.88,232.67 567.31,233.37 568.75,234.07 570.19,234.76 571.63,235.44 573.07,236.12 574.52,236.79 575.97,237.45 577.43,238.11 578.88,238.76 580.34,239.41 581.81,240.05 583.28,240.68 584.75,241.31 586.22,241.93 587.70,242.54 589.18,243.15 590.66,243.75 592.15,244.35 593.64,244.94 595.13,245.52 596.63,246.10 598.13,246.67 599.63,247.23 601.13,247.79 602.64,248.34 604.15,248.88 605.67,249.42 607.18,249.95 608.70,250.48 610.22,251.00 611.75,251.51 613.28,252.01 614.81,252.51 616.34,253.00 617.88,253.49 619.42,253.97 620.96,254.44 622.51,254.90 624.05,255.36 625.60,255.81 627.16,256.26 628.71,256.70 633.41,261.40 367.90,-4.33" fill="#fba238"/>
<polygon points="376.32,4.10 376.90,5.52 377.48,6.94 378.07,8.36 378.66,9.77 379.26,11.18 379.86,12.59 380.47,13.99 381.08,15.40 381.70,16.80 382.32,18.20 382.94,19.59 383.57,20.99 384.21,22.38 384.85,23.77 385.49,25.15 386.14,26.54 386.79,27.92 387.45,29.30 388.11,30.67 388.78,32.04 389.45,33.42 390.12,34.78 390.80,36.15 391.49,37.51 392.17,38.87 392.87,40.23 393.57,41.59 394.27,42.94 394.98,44.29 395.69,45.64 396.40,46.98 397.12,48.32 397.85,49.66 398.58,51.00 399.31,52.33 400.05,53.66 400.79,54.99 401.54,56.32 402.29,57.64 403.04,58.96 403.80,60.28 404.56,61.59 405.33,62.90 406.10,64.21 406.88,65.52 407.66,66.82 408.45,68.12 409.24,69.42 410.03,70.72 410.83,72.01 411.63,73.30 412.44,74.58 413.25,75.87 414.06,77.15 414.88,78.42 415.70,79.70 416.53,80.97 417.36,82.24 418.20,83.50 419.04,84.77 419.88,86.03 420.73,87.28 421.58,88.54 422.44,89.79 423.30,91.04 424.16,92.28 425.03,93.52 425.90,94.76 426.78,96.00 427.66,97.23 428.54,98.46 429.43,99.69 430.32,100.91 431.22,102.13 432.12,103.35 433.03,104.56 433.93,105.77 434.85,106.98 435.76,108.18 436.68,109.39 437.61,110.58 438.54,111.78 439.47,112.97 440.40,114.16 441.34,115.35 442.29,116.53 443.23,117.71 444.19,118.88 445.14,120.05 446.10,121.22 447.06,122.39 448.03,123.55 449.00,124.71 449.97,125.87 450.95,127.02 451.93,128.17 452.92,129.32 453.91,130.46 454.90,131.60 455.90,132.74 456.90,133.87 457.91,135.00 458.91,136.12 459.93,137.25 460.94,138.37 461.96,139.48 462.98,140.59 464.01,141.70 465.04,142.81 466.07,143.91 467.11,145.01 468.15,146.11 469.20,147.20 470.24,148.29 471.30,149.37 472.35,150.45 473.41,151.53 474.47,152.60 475.54,153.67 476.61,154.74 477.68,155.80 478.76,156.86 479.84,157.92 480.92,158.97 482.01,160.02 483.10,161.07 484.20,162.11 485.29,163.15 486.40,164.18 487.50,165.21 488.61,166.24 489.72,167.26 490.83,168.28 491.95,169.30 493.07,170.31 494.20,171.32 495.33,172.33 496.46,173.33 497.60,174.33 498.73,175.32 499.88,176.31 501.02,177.30 502.17,178.28 503.32,179.26 504.48,180.23 505.64,181.21 506.80,182.17 507.96,183.14 509.13,184.10 510.30,185.05 511.48,186.00 512.66,186.95 513.84,187.90 515.02,188.84 516.21,189.77 517.40,190.71 518.59,191.64 519.79,192.56 520.99,193.48 522.20,194.40 523.40,195.31 524.61,196.22 525.83,197.13 527.04,198.03 528.26,198.93 529.48,199.82 530.71,200.71 531.94,201.59 533.17,202.47 534.40,203.35 535.64,204.22 536.88,205.09 538.13,205.96 539.37,206.82 540.62,207.68 541.88,208.53 543.13,209.38 544.39,210.22 545.65,211.06 546.92,211.90 548.18,212.73 549.46,213.56 550.73,214.38 552.01,215.20 553.28,216.02 554.57,216.83 555.85,217.63 557.14,218.44 558.43,219.24 559.73,220.03 561.02,220.82 562.32,221.61 563.62,222.39 564.93,223.16 566.24,223.94 567.55,224.71 568.86,225.47 570.18,226.23 571.50,226.99 572.82,227.74 574.14,228.48 575.47,229.23 576.80,229.97 578.13,230.70 579.47,231.43 580.81,232.15 582.15,232.87 583.49,233.59 584.84,234.30 586.19,235.01 587.54,235.71 588.89,236.41 590.25,237.11 591.61,237.80 592.97,238.48 594.33,239.16 595.70,239.84 597.07,240.51 598.44,241.17 599.82,241.84 601.20,242.50 602.58,243.15 603.96,243.80 605.34,244.44 606.73,245.08 608.12,245.72 609.51,246.35 610.91,246.97 612.30,247.59 613.70,248.21 615.11,248.82 616.51,249.43 617.92,250.03 619.33,250.63 620.74,251.22 622.15,251.81 623.57,252.39 624.99,252.97 633.41,261.40 367.90,-4.33" fill="#f48849"/>
<polygon points="380.12,7.90 380.77,9.21 381.43,10.52 382.10,11.83 382.76,13.14 383.43,14.45 384.11,15.75 384.78,17.05 385.46,18.35 386.15,19.64 386.83,20.94 387.52,22.23 388.22,23.52 388.92,24.81 389.62,26.10 390.32,27.38 391.03,28.66 391.74,29.94 392.46,31.22 393.17,32.49 393.90,33.77 394.62,35.04 395.35,36.31 396.08,37.57 396.82,38.84 397.55,40.10 398.30,41.36 399.04,42.62 399.79,43.88 400.54,45.13 401.30,46.38 402.05,47.63 402.82,48.88 403.58,50.12 404.35,51.36 405.12,52.60 405.90,53.84 406.67,55.08 407.46,56.31 408.24,57.54 409.03,58.77 409.82,60.00 410.61,61.22 411.41,62.45 412.21,63.67 413.02,64.88 413.82,66.10 414.63,67.31 415.45,68.52 416.27,69.73 417.09,70.94 417.91,72.14 418.74,73.34 419.57,74.54 420.40,75.74 421.24,76.93 422.07,78.12 422.92,79.31 423.76,80.50 424.61,81.68 425.46,82.87 426.32,84.05 427.18,85.22 428.04,86.40 428.90,87.57 429.77,88.74 430.64,89.91 431.51,91.07 432.39,92.24 433.27,93.40 434.15,94.56 435.04,95.71 435.93,96.86 436.82,98.01 437.72,99.16 438.62,100.31 439.52,101.45 440.42,102.59 441.33,103.73 442.24,104.86 443.15,106.00 444.07,107.13 444.99,108.26 445.91,109.38 446.84,110.50 447.76,111.62 448.70,112.74 449.63,113.86 450.57,114.97 451.51,116.08 452.45,117.19 453.40,118.29 454.35,119.39 455.30,120.49 456.25,121.59 457.21,122.68 458.17,123.78 459.14,124.87 460.10,125.95 461.07,127.04 462.04,128.12 463.02,129.20 464.00,130.27 464.98,131.34 465.96,132.42 466.95,133.48 467.94,134.55 468.93,135.61 469.93,136.67 470.92,137.73 471.93,138.78 472.93,139.83 473.94,140.88 474.94,141.93 475.96,142.97 476.97,144.01 477.99,145.05 479.01,146.09 480.03,147.12 481.06,148.15 482.09,149.18 483.12,150.20 484.15,151.22 485.19,152.24 486.23,153.26 487.27,154.27 488.32,155.28 489.37,156.29 490.42,157.29 491.47,158.29 492.53,159.29 493.59,160.29 494.65,161.28 495.71,162.27 496.78,163.26 497.85,164.24 498.92,165.23 500.00,166.20 501.08,167.18 502.16,168.15 503.24,169.12 504.32,170.09 505.41,171.06 506.50,172.02 507.60,172.98 508.69,173.93 509.79,174.88 510.89,175.83 512.00,176.78 513.10,177.73 514.21,178.67 515.32,179.60 516.44,180.54 517.56,181.47 518.67,182.40 519.80,183.33 520.92,184.25 522.05,185.17 523.18,186.09 524.31,187.00 525.44,187.91 526.58,188.82 527.72,189.73 528.86,190.63 530.01,191.53 531.15,192.42 532.30,193.32 533.46,194.21 534.61,195.09 535.77,195.98 536.93,196.86 538.09,197.73 539.25,198.61 540.42,199.48 541.59,200.35 542.76,201.21 543.93,202.08 545.11,202.93 546.29,203.79 547.47,204.64 548.66,205.49 549.84,206.34 551.03,207.18 552.22,208.02 553.41,208.86 554.61,209.69 555.81,210.52 557.01,211.35 558.21,212.17 559.42,213.00 560.62,213.81 561.83,214.63 563.04,215.44 564.26,216.25 565.48,217.05 566.69,217.85 567.92,218.65 569.14,219.45 570.36,220.24 571.59,221.03 572.82,221.81 574.06,222.59 575.29,223.37 576.53,224.15 577.77,224.92 579.01,225.69 580.25,226.46 581.50,227.22 582.75,227.98 584.00,228.73 585.25,229.49 586.50,230.23 587.76,230.98 589.02,231.72 590.28,232.46 591.55,233.20 592.81,233.93 594.08,234.66 595.35,235.38 596.62,236.11 597.90,236.82 599.17,237.54 600.45,238.25 601.73,238.96 603.02,239.67 604.30,240.37 605.59,241.07 606.88,241.76 608.17,242.45 609.46,243.14 610.76,243.82 612.05,244.50 613.35,245.18 614.66,245.86 615.96,246.53 617.27,247.19 618.57,247.86 619.88,248.52 621.20,249.17 633.41,261.40 367.90,-4.33" fill="#e97158"/>
<polygon points="384.43,12.22 385.13,13.43 385.84,14.65 386.54,15.86 387.25,17.07 387.97,18.28 388.68,19.49 389.40,20.69 390.12,21.90 390.84,23.10 391.57,24.30 392.30,25.50 393.03,26.69 393.76,27.89 394.50,29.08 395.23,30.27 395.97,31.46 396.72,32.65 397.46,33.84 398.21,35.02 398.96,36.20 399.72,37.38 400.47,38.56 401.23,39.74 401.99,40.92 402.76,42.09 403.53,43.26 404.29,44.43 405.07,45.60 405.84,46.77 406.62,47.93 407.40,49.10 408.18,50.26 408.96,51.42 409.75,52.57 410.54,53.73 411.33,54.88 412.12,56.04 412.92,57.19 413.72,58.33 414.52,59.48 415.32,60.62 416.13,61.77 416.94,62.91 417.75,64.05 418.57,65.18 419.38,66.32 420.20,67.45 421.02,68.58 421.85,69.71 422.67,70.84 423.50,71.97 424.33,73.09 425.16,74.21 426.00,75.33 426.84,76.45 427.68,77.57 428.52,78.68 429.37,79.80 430.22,80.91 431.07,82.01 431.92,83.12 432.77,84.23 433.63,85.33 434.49,86.43 435.35,87.53 436.22,88.63 437.08,89.72 437.95,90.81 438.83,91.91 439.70,92.99 440.58,94.08 441.46,95.17 442.34,96.25 443.22,97.33 444.11,98.41 444.99,99.49 445.88,100.56 446.78,101.64 447.67,102.71 448.57,103.78 449.47,104.84 450.37,105.91 451.28,106.97 452.18,108.03 453.09,109.09 454.00,110.15 454.92,111.20 455.83,112.26 456.75,113.31 457.67,114.36 458.59,115.40 459.52,116.45 460.45,117.49 461.38,118.53 462.31,119.57 463.24,120.61 464.18,121.64 465.12,122.67 466.06,123.70 467.00,124.73 467.95,125.76 468.89,126.78 469.84,127.81 470.79,128.82 471.75,129.84 472.70,130.86 473.66,131.87 474.62,132.88 475.59,133.89 476.55,134.90 477.52,135.90 478.49,136.91 479.46,137.91 480.44,138.91 481.41,139.90 482.39,140.90 483.37,141.89 484.35,142.88 485.34,143.87 486.33,144.85 487.31,145.84 488.31,146.82 489.30,147.80 490.29,148.77 491.29,149.75 492.29,150.72 493.29,151.69 494.30,152.66 495.31,153.63 496.31,154.59 497.32,155.55 498.34,156.51 499.35,157.47 500.37,158.42 501.39,159.38 502.41,160.33 503.43,161.27 504.46,162.22 505.48,163.16 506.51,164.11 507.55,165.04 508.58,165.98 509.61,166.92 510.65,167.85 511.69,168.78 512.73,169.71 513.78,170.63 514.82,171.56 515.87,172.48 516.92,173.40 517.97,174.31 519.03,175.23 520.09,176.14 521.14,177.05 522.20,177.96 523.27,178.86 524.33,179.76 525.40,180.67 526.47,181.56 527.54,182.46 528.61,183.35 529.68,184.24 530.76,185.13 531.84,186.02 532.92,186.90 534.00,187.79 535.08,188.66 536.17,189.54 537.26,190.42 538.35,191.29 539.44,192.16 540.54,193.03 541.63,193.89 542.73,194.76 543.83,195.62 544.93,196.47 546.03,197.33 547.14,198.18 548.25,199.03 549.36,199.88 550.47,200.73 551.58,201.57 552.70,202.41 553.82,203.25 554.94,204.09 556.06,204.92 557.18,205.76 558.30,206.58 559.43,207.41 560.56,208.24 561.69,209.06 562.82,209.88 563.96,210.69 565.09,211.51 566.23,212.32 567.37,213.13 568.51,213.94 569.66,214.74 570.80,215.54 571.95,216.34 573.10,217.14 574.25,217.94 575.40,218.73 576.56,219.52 577.72,220.31 578.87,221.09 580.03,221.87 581.20,222.65 582.36,223.43 583.53,224.20 584.69,224.98 585.86,225.75 587.03,226.51 588.21,227.28 589.38,228.04 590.56,228.80 591.74,229.56 592.92,230.31 594.10,231.06 595.28,231.81 596.47,232.56 597.65,233.30 598.84,234.04 600.03,234.78 601.22,235.52 602.42,236.25 603.61,236.98 604.81,237.71 606.01,238.44 607.21,239.16 608.41,239.88 609.62,240.60 610.83,241.32 612.03,242.03 613.24,242.74 614.45,243.45 615.67,244.15 616.88,244.86 633.41,261.40 367.90,-4.33" fill="#db5c68"/>
<polygon points="389.00,16.80 389.73,17.93 390.45,19.06 391.18,20.18 391.91,21.31 392.64,22.43 393.37,23.56 394.11,24.68 394.85,25.80 395.58,26.92 396.33,28.04 397.07,29.15 397.81,30.27 398.56,31.38 399.31,32.49 400.06,33.60 400.81,34.71 401.57,35.82 402.33,36.92 403.08,38.03 403.85,39.13 404.61,40.23 405.37,41.33 406.14,42.43 406.91,43.53 407.68,44.63 408.45,45.72 409.23,46.81 410.00,47.90 410.78,48.99 411.56,50.08 412.34,51.17 413.13,52.26 413.92,53.34 414.70,54.42 415.49,55.50 416.29,56.58 417.08,57.66 417.88,58.74 418.67,59.81 419.47,60.88 420.28,61.96 421.08,63.03 421.89,64.10 422.69,65.16 423.50,66.23 424.31,67.29 425.13,68.36 425.94,69.42 426.76,70.48 427.58,71.54 428.40,72.59 429.22,73.65 430.05,74.70 430.87,75.75 431.70,76.80 432.53,77.85 433.36,78.90 434.20,79.94 435.03,80.99 435.87,82.03 436.71,83.07 437.55,84.11 438.39,85.15 439.24,86.19 440.09,87.22 440.94,88.25 441.79,89.29 442.64,90.32 443.49,91.34 444.35,92.37 445.21,93.40 446.07,94.42 446.93,95.44 447.79,96.46 448.66,97.48 449.53,98.50 450.40,99.52 451.27,100.53 452.14,101.54 453.01,102.55 453.89,103.56 454.77,104.57 455.65,105.58 456.53,106.58 457.41,107.58 458.30,108.58 459.19,109.58 460.08,110.58 460.97,111.58 461.86,112.57 462.75,113.57 463.65,114.56 464.55,115.55 465.45,116.53 466.35,117.52 467.25,118.51 468.16,119.49 469.06,120.47 469.97,121.45 470.88,122.43 471.79,123.40 472.71,124.38 473.62,125.35 474.54,126.32 475.46,127.29 476.38,128.26 477.30,129.23 478.23,130.19 479.16,131.15 480.08,132.12 481.01,133.08 481.94,134.03 482.88,134.99 483.81,135.94 484.75,136.90 485.69,137.85 486.63,138.80 487.57,139.74 488.51,140.69 489.46,141.64 490.40,142.58 491.35,143.52 492.30,144.46 493.25,145.39 494.21,146.33 495.16,147.26 496.12,148.20 497.08,149.13 498.04,150.06 499.00,150.98 499.97,151.91 500.93,152.83 501.90,153.75 502.87,154.67 503.84,155.59 504.81,156.51 505.79,157.42 506.76,158.33 507.74,159.25 508.72,160.16 509.70,161.06 510.68,161.97 511.66,162.87 512.65,163.77 513.64,164.68 514.63,165.57 515.62,166.47 516.61,167.37 517.60,168.26 518.60,169.15 519.59,170.04 520.59,170.93 521.59,171.81 522.60,172.70 523.60,173.58 524.60,174.46 525.61,175.34 526.62,176.22 527.63,177.09 528.64,177.97 529.65,178.84 530.67,179.71 531.69,180.58 532.70,181.44 533.72,182.31 534.74,183.17 535.77,184.03 536.79,184.89 537.82,185.75 538.85,186.60 539.88,187.45 540.91,188.31 541.94,189.15 542.97,190.00 544.01,190.85 545.05,191.69 546.08,192.53 547.12,193.37 548.17,194.21 549.21,195.05 550.25,195.88 551.30,196.72 552.35,197.55 553.40,198.38 554.45,199.20 555.50,200.03 556.56,200.85 557.61,201.67 558.67,202.49 559.73,203.31 560.79,204.13 561.85,204.94 562.91,205.75 563.98,206.56 565.05,207.37 566.11,208.18 567.18,208.98 568.25,209.78 569.33,210.58 570.40,211.38 571.48,212.18 572.55,212.97 573.63,213.77 574.71,214.56 575.79,215.35 576.88,216.13 577.96,216.92 579.05,217.70 580.13,218.48 581.22,219.26 582.31,220.04 583.41,220.82 584.50,221.59 585.59,222.36 586.69,223.13 587.79,223.90 588.89,224.66 589.99,225.43 591.09,226.19 592.19,226.95 593.30,227.70 594.41,228.46 595.51,229.21 596.62,229.97 597.73,230.71 598.85,231.46 599.96,232.21 601.08,232.95 602.19,233.69 603.31,234.43 604.43,235.17 605.55,235.91 606.67,236.64 607.80,237.37 608.92,238.10 610.05,238.83 611.18,239.55 612.31,240.28 633.41,261.40 367.90,-4.33" fill="#cb4679"/>
<polygon points="394.31,22.10 395.03,23.15 395.76,24.19 396.49,25.24 397.22,26.28 397.95,27.32 398.69,28.36 399.42,29.40 400.16,30.44 400.90,31.47 401.64,32.51 402.38,33.55 403.13,34.58 403.87,35.61 404.62,36.64 405.37,37.67 406.11,38.70 406.87,39.73 407.62,40.75 408.37,41.78 409.13,42.80 409.89,43.83 410.64,44.85 411.40,45.87 412.17,46.89 412.93,47.91 413.69,48.92 414.46,49.94 415.23,50.95 416.00,51.97 416.77,52.98 417.54,53.99 418.31,55.00 419.09,56.01 419.86,57.02 420.64,58.02 421.42,59.03 422.20,60.03 422.99,61.03 423.77,62.03 424.55,63.03 425.34,64.03 426.13,65.03 426.92,66.03 427.71,67.02 428.50,68.02 429.30,69.01 430.09,70.00 430.89,70.99 431.69,71.98 432.49,72.97 433.29,73.95 434.09,74.94 434.90,75.92 435.71,76.91 436.51,77.89 437.32,78.87 438.13,79.85 438.94,80.83 439.76,81.80 440.57,82.78 441.39,83.75 442.21,84.73 443.02,85.70 443.84,86.67 444.67,87.64 445.49,88.61 446.31,89.57 447.14,90.54 447.97,91.50 448.80,92.46 449.63,93.43 450.46,94.39 451.29,95.35 452.13,96.30 452.96,97.26 453.80,98.22 454.64,99.17 455.48,100.12 456.32,101.07 457.17,102.02 458.01,102.97 458.86,103.92 459.70,104.87 460.55,105.81 461.40,106.76 462.25,107.70 463.11,108.64 463.96,109.58 464.82,110.52 465.68,111.46 466.53,112.39 467.39,113.33 468.26,114.26 469.12,115.19 469.98,116.12 470.85,117.05 471.71,117.98 472.58,118.91 473.45,119.83 474.32,120.76 475.20,121.68 476.07,122.60 476.95,123.52 477.82,124.44 478.70,125.36 479.58,126.28 480.46,127.19 481.34,128.10 482.23,129.02 483.11,129.93 484.00,130.84 484.88,131.75 485.77,132.65 486.66,133.56 487.55,134.46 488.45,135.37 489.34,136.27 490.24,137.17 491.13,138.07 492.03,138.96 492.93,139.86 493.83,140.76 494.74,141.65 495.64,142.54 496.54,143.43 497.45,144.32 498.36,145.21 499.27,146.10 500.18,146.98 501.09,147.87 502.00,148.75 502.92,149.63 503.83,150.51 504.75,151.39 505.67,152.27 506.59,153.14 507.51,154.02 508.43,154.89 509.35,155.76 510.28,156.63 511.20,157.50 512.13,158.37 513.06,159.24 513.99,160.10 514.92,160.96 515.85,161.83 516.79,162.69 517.72,163.55 518.66,164.40 519.60,165.26 520.54,166.12 521.48,166.97 522.42,167.82 523.36,168.67 524.31,169.52 525.25,170.37 526.20,171.22 527.15,172.06 528.10,172.91 529.05,173.75 530.00,174.59 530.95,175.43 531.91,176.27 532.86,177.10 533.82,177.94 534.78,178.77 535.74,179.61 536.70,180.44 537.66,181.27 538.63,182.10 539.59,182.92 540.56,183.75 541.52,184.57 542.49,185.39 543.46,186.22 544.43,187.03 545.40,187.85 546.38,188.67 547.35,189.49 548.33,190.30 549.31,191.11 550.28,191.92 551.26,192.73 552.24,193.54 553.23,194.35 554.21,195.15 555.19,195.96 556.18,196.76 557.17,197.56 558.16,198.36 559.15,199.16 560.14,199.95 561.13,200.75 562.12,201.54 563.12,202.33 564.11,203.12 565.11,203.91 566.11,204.70 567.11,205.49 568.11,206.27 569.11,207.05 570.11,207.84 571.11,208.62 572.12,209.39 573.13,210.17 574.13,210.95 575.14,211.72 576.15,212.49 577.16,213.27 578.18,214.03 579.19,214.80 580.21,215.57 581.22,216.34 582.24,217.10 583.26,217.86 584.28,218.62 585.30,219.38 586.32,220.14 587.34,220.89 588.37,221.65 589.39,222.40 590.42,223.15 591.45,223.90 592.48,224.65 593.51,225.40 594.54,226.15 595.57,226.89 596.61,227.63 597.64,228.37 598.68,229.11 599.71,229.85 600.75,230.59 601.79,231.32 602.83,232.06 603.87,232.79 604.92,233.52 605.96,234.25 607.01,234.97 633.41,261.40 367.90,-4.33" fill="#b83289"/>
<polygon points="400.12,27.92 400.83,28.88 401.55,29.85 402.27,30.81 402.99,31.77 403.71,32.74 404.43,33.70 405.15,34.66 405.87,35.61 406.60,36.57 407.32,37.53 408.05,38.49 408.78,39.44 409.51,40.39 410.24,41.35 410.97,42.30 411.70,43.25 412.43,44.20 413.17,45.15 413.91,46.10 414.64,47.05 415.38,47.99 416.12,48.94 416.86,49.88 417.60,50.83 418.35,51.77 419.09,52.71 419.84,53.65 420.58,54.59 421.33,55.53 422.08,56.47 422.83,57.41 423.58,58.34 424.33,59.28 425.09,60.21 425.84,61.15 426.60,62.08 427.35,63.01 428.11,63.94 428.87,64.87 429.63,65.80 430.39,66.73 431.16,67.65 431.92,68.58 432.68,69.50 433.45,70.43 434.22,71.35 434.99,72.27 435.76,73.19 436.53,74.11 437.30,75.03 438.07,75.95 438.84,76.86 439.62,77.78 440.40,78.69 441.17,79.61 441.95,80.52 442.73,81.43 443.51,82.34 444.29,83.25 445.08,84.16 445.86,85.07 446.65,85.98 447.43,86.88 448.22,87.79 449.01,88.69 449.80,89.59 450.59,90.50 451.38,91.40 452.17,92.30 452.97,93.20 453.76,94.09 454.56,94.99 455.35,95.89 456.15,96.78 456.95,97.68 457.75,98.57 458.55,99.46 459.36,100.35 460.16,101.24 460.97,102.13 461.77,103.02 462.58,103.90 463.39,104.79 464.20,105.67 465.01,106.56 465.82,107.44 466.63,108.32 467.45,109.20 468.26,110.08 469.08,110.96 469.89,111.84 470.71,112.72 471.53,113.59 472.35,114.47 473.17,115.34 473.99,116.21 474.82,117.08 475.64,117.95 476.47,118.82 477.29,119.69 478.12,120.56 478.95,121.43 479.78,122.29 480.61,123.16 481.44,124.02 482.28,124.88 483.11,125.74 483.95,126.60 484.78,127.46 485.62,128.32 486.46,129.18 487.30,130.03 488.14,130.89 488.98,131.74 489.82,132.59 490.67,133.45 491.51,134.30 492.36,135.15 493.20,136.00 494.05,136.84 494.90,137.69 495.75,138.53 496.60,139.38 497.45,140.22 498.31,141.06 499.16,141.91 500.02,142.75 500.87,143.59 501.73,144.42 502.59,145.26 503.45,146.10 504.31,146.93 505.17,147.76 506.03,148.60 506.90,149.43 507.76,150.26 508.63,151.09 509.49,151.92 510.36,152.74 511.23,153.57 512.10,154.40 512.97,155.22 513.84,156.04 514.72,156.87 515.59,157.69 516.46,158.51 517.34,159.32 518.22,160.14 519.09,160.96 519.97,161.77 520.85,162.59 521.73,163.40 522.62,164.21 523.50,165.03 524.38,165.84 525.27,166.64 526.16,167.45 527.04,168.26 527.93,169.06 528.82,169.87 529.71,170.67 530.60,171.47 531.49,172.28 532.39,173.08 533.28,173.88 534.18,174.67 535.07,175.47 535.97,176.27 536.87,177.06 537.77,177.85 538.67,178.65 539.57,179.44 540.47,180.23 541.37,181.02 542.28,181.80 543.18,182.59 544.09,183.38 545.00,184.16 545.90,184.95 546.81,185.73 547.72,186.51 548.63,187.29 549.55,188.07 550.46,188.85 551.37,189.62 552.29,190.40 553.20,191.17 554.12,191.95 555.04,192.72 555.96,193.49 556.88,194.26 557.80,195.03 558.72,195.80 559.64,196.56 560.57,197.33 561.49,198.09 562.42,198.86 563.34,199.62 564.27,200.38 565.20,201.14 566.13,201.90 567.06,202.66 567.99,203.41 568.92,204.17 569.86,204.92 570.79,205.67 571.73,206.43 572.66,207.18 573.60,207.93 574.54,208.67 575.48,209.42 576.42,210.17 577.36,210.91 578.30,211.66 579.25,212.40 580.19,213.14 581.13,213.88 582.08,214.62 583.03,215.36 583.97,216.09 584.92,216.83 585.87,217.56 586.82,218.30 587.78,219.03 588.73,219.76 589.68,220.49 590.64,221.22 591.59,221.95 592.55,222.67 593.50,223.40 594.46,224.12 595.42,224.84 596.38,225.57 597.34,226.29 598.30,227.01 599.27,227.72 600.23,228.44 601.19,229.16 633.41,261.40 367.90,-4.33" fill="#a31e9a"/>
<polygon points="405.86,33.67 406.56,34.56 407.25,35.45 407.95,36.35 408.65,37.24 409.34,38.13 410.04,39.02 410.74,39.91 411.44,40.79 412.14,41.68 412.84,42.57 413.55,43.45 414.25,44.34 414.96,45.22 415.66,46.11 416.37,46.99 417.08,47.87 417.79,48.75 418.49,49.63 419.21,50.51 419.92,51.39 420.63,52.27 421.34,53.14 422.06,54.02 422.77,54.90 423.49,55.77 424.20,56.65 424.92,57.52 425.64,58.39 426.36,59.26 427.08,60.14 427.80,61.01 428.52,61.88 429.25,62.74 429.97,63.61 430.69,64.48 431.42,65.35 432.15,66.21 432.87,67.08 433.60,67.94 434.33,68.80 435.06,69.67 435.79,70.53 436.53,71.39 437.26,72.25 437.99,73.11 438.73,73.97 439.46,74.82 440.20,75.68 440.94,76.54 441.68,77.39 442.41,78.25 443.15,79.10 443.90,79.96 444.64,80.81 445.38,81.66 446.12,82.51 446.87,83.36 447.61,84.21 448.36,85.06 449.11,85.90 449.86,86.75 450.60,87.60 451.35,88.44 452.10,89.29 452.86,90.13 453.61,90.97 454.36,91.81 455.12,92.66 455.87,93.50 456.63,94.34 457.38,95.17 458.14,96.01 458.90,96.85 459.66,97.69 460.42,98.52 461.18,99.36 461.94,100.19 462.71,101.02 463.47,101.86 464.23,102.69 465.00,103.52 465.77,104.35 466.53,105.18 467.30,106.01 468.07,106.83 468.84,107.66 469.61,108.48 470.38,109.31 471.15,110.13 471.93,110.96 472.70,111.78 473.48,112.60 474.25,113.42 475.03,114.24 475.81,115.06 476.58,115.88 477.36,116.70 478.14,117.51 478.93,118.33 479.71,119.15 480.49,119.96 481.27,120.77 482.06,121.59 482.84,122.40 483.63,123.21 484.42,124.02 485.20,124.83 485.99,125.64 486.78,126.44 487.57,127.25 488.36,128.06 489.15,128.86 489.95,129.67 490.74,130.47 491.54,131.27 492.33,132.08 493.13,132.88 493.92,133.68 494.72,134.48 495.52,135.27 496.32,136.07 497.12,136.87 497.92,137.66 498.72,138.46 499.53,139.25 500.33,140.05 501.13,140.84 501.94,141.63 502.75,142.42 503.55,143.21 504.36,144.00 505.17,144.79 505.98,145.58 506.79,146.36 507.60,147.15 508.41,147.94 509.23,148.72 510.04,149.50 510.85,150.29 511.67,151.07 512.49,151.85 513.30,152.63 514.12,153.41 514.94,154.18 515.76,154.96 516.58,155.74 517.40,156.51 518.22,157.29 519.04,158.06 519.87,158.84 520.69,159.61 521.52,160.38 522.34,161.15 523.17,161.92 524.00,162.69 524.83,163.46 525.66,164.22 526.49,164.99 527.32,165.75 528.15,166.52 528.98,167.28 529.81,168.04 530.65,168.81 531.48,169.57 532.32,170.33 533.15,171.09 533.99,171.84 534.83,172.60 535.67,173.36 536.51,174.11 537.35,174.87 538.19,175.62 539.03,176.38 539.87,177.13 540.72,177.88 541.56,178.63 542.41,179.38 543.25,180.13 544.10,180.88 544.95,181.62 545.80,182.37 546.65,183.11 547.50,183.86 548.35,184.60 549.20,185.34 550.05,186.08 550.90,186.83 551.76,187.57 552.61,188.30 553.47,189.04 554.33,189.78 555.18,190.52 556.04,191.25 556.90,191.99 557.76,192.72 558.62,193.45 559.48,194.18 560.34,194.91 561.20,195.64 562.07,196.37 562.93,197.10 563.80,197.83 564.66,198.55 565.53,199.28 566.40,200.00 567.26,200.73 568.13,201.45 569.00,202.17 569.87,202.89 570.74,203.61 571.62,204.33 572.49,205.05 573.36,205.77 574.24,206.48 575.11,207.20 575.99,207.92 576.86,208.63 577.74,209.34 578.62,210.05 579.50,210.76 580.38,211.47 581.26,212.18 582.14,212.89 583.02,213.60 583.90,214.31 584.79,215.01 585.67,215.72 586.56,216.42 587.44,217.12 588.33,217.82 589.22,218.52 590.10,219.22 590.99,219.92 591.88,220.62 592.77,221.32 593.66,222.02 594.56,222.71 595.45,223.40 633.41,261.40 367.90,-4.33" fill="#8b0aa5"/>
<polygon points="409.79,37.60 410.47,38.45 411.14,39.29 411.82,40.14 412.50,40.99 413.18,41.83 413.86,42.67 414.54,43.52 415.22,44.36 415.90,45.20 416.58,46.04 417.27,46.88 417.95,47.72 418.64,48.56 419.32,49.40 420.01,50.24 420.69,51.08 421.38,51.91 422.07,52.75 422.76,53.58 423.45,54.42 424.14,55.25 424.83,56.08 425.53,56.92 426.22,57.75 426.91,58.58 427.61,59.41 428.31,60.24 429.00,61.07 429.70,61.90 430.40,62.73 431.10,63.55 431.80,64.38 432.50,65.21 433.20,66.03 433.90,66.85 434.60,67.68 435.31,68.50 436.01,69.32 436.72,70.15 437.42,70.97 438.13,71.79 438.83,72.61 439.54,73.43 440.25,74.24 440.96,75.06 441.67,75.88 442.38,76.70 443.09,77.51 443.81,78.33 444.52,79.14 445.23,79.95 445.95,80.77 446.67,81.58 447.38,82.39 448.10,83.20 448.82,84.01 449.54,84.82 450.26,85.63 450.98,86.44 451.70,87.25 452.42,88.05 453.14,88.86 453.86,89.66 454.59,90.47 455.31,91.27 456.04,92.08 456.76,92.88 457.49,93.68 458.22,94.48 458.95,95.28 459.68,96.08 460.41,96.88 461.14,97.68 461.87,98.48 462.60,99.27 463.33,100.07 464.07,100.87 464.80,101.66 465.54,102.46 466.27,103.25 467.01,104.04 467.75,104.83 468.49,105.63 469.22,106.42 469.96,107.21 470.71,108.00 471.45,108.78 472.19,109.57 472.93,110.36 473.67,111.15 474.42,111.93 475.16,112.72 475.91,113.50 476.65,114.29 477.40,115.07 478.15,115.85 478.90,116.63 479.65,117.41 480.40,118.19 481.15,118.97 481.90,119.75 482.65,120.53 483.40,121.31 484.16,122.08 484.91,122.86 485.67,123.64 486.42,124.41 487.18,125.18 487.94,125.96 488.70,126.73 489.45,127.50 490.21,128.27 490.97,129.04 491.73,129.81 492.50,130.58 493.26,131.35 494.02,132.11 494.79,132.88 495.55,133.65 496.32,134.41 497.08,135.18 497.85,135.94 498.62,136.70 499.38,137.47 500.15,138.23 500.92,138.99 501.69,139.75 502.46,140.51 503.23,141.27 504.01,142.02 504.78,142.78 505.55,143.54 506.33,144.29 507.10,145.05 507.88,145.80 508.66,146.56 509.43,147.31 510.21,148.06 510.99,148.81 511.77,149.56 512.55,150.31 513.33,151.06 514.11,151.81 514.90,152.56 515.68,153.30 516.46,154.05 517.25,154.80 518.03,155.54 518.82,156.28 519.60,157.03 520.39,157.77 521.18,158.51 521.97,159.25 522.76,159.99 523.55,160.73 524.34,161.47 525.13,162.21 525.92,162.95 526.72,163.68 527.51,164.42 528.30,165.15 529.10,165.89 529.89,166.62 530.69,167.36 531.49,168.09 532.29,168.82 533.08,169.55 533.88,170.28 534.68,171.01 535.48,171.74 536.29,172.46 537.09,173.19 537.89,173.92 538.69,174.64 539.50,175.37 540.30,176.09 541.11,176.81 541.91,177.54 542.72,178.26 543.53,178.98 544.34,179.70 545.15,180.42 545.95,181.14 546.76,181.85 547.58,182.57 548.39,183.29 549.20,184.00 550.01,184.72 550.83,185.43 551.64,186.14 552.46,186.86 553.27,187.57 554.09,188.28 554.90,188.99 555.72,189.70 556.54,190.41 557.36,191.12 558.18,191.82 559.00,192.53 559.82,193.24 560.64,193.94 561.47,194.64 562.29,195.35 563.11,196.05 563.94,196.75 564.76,197.45 565.59,198.15 566.41,198.85 567.24,199.55 568.07,200.25 568.90,200.95 569.73,201.64 570.56,202.34 571.39,203.03 572.22,203.73 573.05,204.42 573.88,205.11 574.72,205.80 575.55,206.49 576.38,207.18 577.22,207.87 578.06,208.56 578.89,209.25 579.73,209.94 580.57,210.62 581.41,211.31 582.24,211.99 583.08,212.68 583.93,213.36 584.77,214.04 585.61,214.72 586.45,215.41 587.29,216.09 588.14,216.76 588.98,217.44 589.83,218.12 590.67,218.80 591.52,219.47 633.41,261.40 367.90,-4.33" fill="#6f00a8"/>
<polygon points="413.66,41.47 414.31,42.27 414.97,43.08 415.63,43.88 416.28,44.68 416.94,45.48 417.60,46.28 418.26,47.08 418.92,47.88 419.58,48.68 420.24,49.48 420.90,50.28 421.56,51.07 422.23,51.87 422.89,52.67 423.56,53.46 424.22,54.26 424.89,55.05 425.55,55.85 426.22,56.64 426.89,57.43 427.56,58.22 428.23,59.02 428.90,59.81 429.57,60.60 430.24,61.39 430.91,62.18 431.58,62.96 432.26,63.75 432.93,64.54 433.60,65.33 434.28,66.11 434.96,66.90 435.63,67.68 436.31,68.47 436.99,69.25 437.67,70.03 438.34,70.82 439.02,71.60 439.70,72.38 440.39,73.16 441.07,73.94 441.75,74.72 442.43,75.50 443.12,76.28 443.80,77.06 444.49,77.84 445.17,78.61 445.86,79.39 446.55,80.16 447.23,80.94 447.92,81.71 448.61,82.49 449.30,83.26 449.99,84.03 450.68,84.81 451.37,85.58 452.07,86.35 452.76,87.12 453.45,87.89 454.15,88.66 454.84,89.42 455.54,90.19 456.23,90.96 456.93,91.73 457.63,92.49 458.33,93.26 459.02,94.02 459.72,94.79 460.42,95.55 461.12,96.31 461.83,97.08 462.53,97.84 463.23,98.60 463.93,99.36 464.64,100.12 465.34,100.88 466.05,101.64 466.75,102.40 467.46,103.15 468.17,103.91 468.87,104.67 469.58,105.42 470.29,106.18 471.00,106.93 471.71,107.69 472.42,108.44 473.13,109.19 473.85,109.95 474.56,110.70 475.27,111.45 475.99,112.20 476.70,112.95 477.42,113.70 478.13,114.45 478.85,115.19 479.57,115.94 480.29,116.69 481.00,117.43 481.72,118.18 482.44,118.92 483.16,119.67 483.88,120.41 484.61,121.15 485.33,121.90 486.05,122.64 486.78,123.38 487.50,124.12 488.22,124.86 488.95,125.60 489.68,126.34 490.40,127.08 491.13,127.81 491.86,128.55 492.59,129.29 493.32,130.02 494.05,130.76 494.78,131.49 495.51,132.22 496.24,132.96 496.97,133.69 497.71,134.42 498.44,135.15 499.17,135.88 499.91,136.61 500.64,137.34 501.38,138.07 502.12,138.80 502.85,139.53 503.59,140.25 504.33,140.98 505.07,141.70 505.81,142.43 506.55,143.15 507.29,143.88 508.03,144.60 508.78,145.32 509.52,146.04 510.26,146.76 511.01,147.49 511.75,148.20 512.50,148.92 513.24,149.64 513.99,150.36 514.74,151.08 515.48,151.79 516.23,152.51 516.98,153.23 517.73,153.94 518.48,154.65 519.23,155.37 519.98,156.08 520.74,156.79 521.49,157.50 522.24,158.22 523.00,158.93 523.75,159.64 524.51,160.34 525.26,161.05 526.02,161.76 526.78,162.47 527.53,163.17 528.29,163.88 529.05,164.58 529.81,165.29 530.57,165.99 531.33,166.70 532.09,167.40 532.85,168.10 533.62,168.80 534.38,169.50 535.14,170.20 535.91,170.90 536.67,171.60 537.44,172.30 538.20,173.00 538.97,173.69 539.74,174.39 540.50,175.08 541.27,175.78 542.04,176.47 542.81,177.17 543.58,177.86 544.35,178.55 545.12,179.24 545.90,179.93 546.67,180.62 547.44,181.31 548.22,182.00 548.99,182.69 549.77,183.38 550.54,184.07 551.32,184.75 552.09,185.44 552.87,186.12 553.65,186.81 554.43,187.49 555.21,188.17 555.99,188.86 556.77,189.54 557.55,190.22 558.33,190.90 559.11,191.58 559.89,192.26 560.68,192.94 561.46,193.61 562.25,194.29 563.03,194.97 563.82,195.64 564.60,196.32 565.39,196.99 566.18,197.67 566.96,198.34 567.75,199.01 568.54,199.68 569.33,200.35 570.12,201.02 570.91,201.69 571.70,202.36 572.50,203.03 573.29,203.70 574.08,204.37 574.88,205.03 575.67,205.70 576.46,206.36 577.26,207.03 578.06,207.69 578.85,208.36 579.65,209.02 580.45,209.68 581.25,210.34 582.04,211.00 582.84,211.66 583.64,212.32 584.44,212.98 585.25,213.64 586.05,214.29 586.85,214.95 587.65,215.60 633.41,261.40 367.90,-4.33" fill="#5302a3"/>
<polygon points="417.74,45.55 418.37,46.31 419.00,47.07 419.63,47.83 420.27,48.59 420.90,49.34 421.54,50.10 422.17,50.86 422.81,51.61 423.44,52.37 424.08,53.12 424.72,53.88 425.36,54.63 426.00,55.39 426.63,56.14 427.27,56.89 427.91,57.64 428.56,58.39 429.20,59.14 429.84,59.89 430.48,60.64 431.12,61.39 431.77,62.14 432.41,62.89 433.06,63.64 433.70,64.39 434.35,65.13 435.00,65.88 435.64,66.63 436.29,67.37 436.94,68.12 437.59,68.86 438.24,69.60 438.89,70.35 439.54,71.09 440.19,71.83 440.84,72.57 441.49,73.31 442.14,74.06 442.80,74.80 443.45,75.54 444.11,76.27 444.76,77.01 445.42,77.75 446.07,78.49 446.73,79.23 447.39,79.96 448.04,80.70 448.70,81.43 449.36,82.17 450.02,82.90 450.68,83.64 451.34,84.37 452.00,85.11 452.67,85.84 453.33,86.57 453.99,87.30 454.65,88.03 455.32,88.76 455.98,89.49 456.65,90.22 457.31,90.95 457.98,91.68 458.65,92.41 459.31,93.13 459.98,93.86 460.65,94.59 461.32,95.31 461.99,96.04 462.66,96.76 463.33,97.49 464.00,98.21 464.67,98.94 465.34,99.66 466.02,100.38 466.69,101.10 467.36,101.82 468.04,102.54 468.71,103.26 469.39,103.98 470.07,104.70 470.74,105.42 471.42,106.14 472.10,106.86 472.78,107.57 473.45,108.29 474.13,109.01 474.81,109.72 475.49,110.44 476.18,111.15 476.86,111.86 477.54,112.58 478.22,113.29 478.91,114.00 479.59,114.71 480.27,115.43 480.96,116.14 481.64,116.85 482.33,117.56 483.02,118.27 483.70,118.97 484.39,119.68 485.08,120.39 485.77,121.10 486.46,121.80 487.15,122.51 487.84,123.21 488.53,123.92 489.22,124.62 489.91,125.33 490.60,126.03 491.30,126.73 491.99,127.43 492.69,128.14 493.38,128.84 494.07,129.54 494.77,130.24 495.47,130.94 496.16,131.64 496.86,132.34 497.56,133.03 498.26,133.73 498.96,134.43 499.66,135.12 500.36,135.82 501.06,136.51 501.76,137.21 502.46,137.90 503.16,138.60 503.86,139.29 504.57,139.98 505.27,140.67 505.97,141.37 506.68,142.06 507.38,142.75 508.09,143.44 508.80,144.13 509.50,144.81 510.21,145.50 510.92,146.19 511.63,146.88 512.34,147.56 513.05,148.25 513.76,148.94 514.47,149.62 515.18,150.30 515.89,150.99 516.60,151.67 517.32,152.35 518.03,153.04 518.74,153.72 519.46,154.40 520.17,155.08 520.89,155.76 521.60,156.44 522.32,157.12 523.04,157.80 523.75,158.47 524.47,159.15 525.19,159.83 525.91,160.50 526.63,161.18 527.35,161.86 528.07,162.53 528.79,163.20 529.51,163.88 530.23,164.55 530.96,165.22 531.68,165.89 532.40,166.57 533.13,167.24 533.85,167.91 534.58,168.58 535.30,169.24 536.03,169.91 536.76,170.58 537.48,171.25 538.21,171.91 538.94,172.58 539.67,173.25 540.40,173.91 541.13,174.58 541.86,175.24 542.59,175.90 543.32,176.57 544.05,177.23 544.79,177.89 545.52,178.55 546.25,179.21 546.99,179.87 547.72,180.53 548.46,181.19 549.19,181.85 549.93,182.51 550.66,183.16 551.40,183.82 552.14,184.48 552.88,185.13 553.62,185.79 554.35,186.44 555.09,187.10 555.83,187.75 556.57,188.40 557.32,189.05 558.06,189.71 558.80,190.36 559.54,191.01 560.29,191.66 561.03,192.31 561.77,192.96 562.52,193.60 563.26,194.25 564.01,194.90 564.76,195.54 565.50,196.19 566.25,196.84 567.00,197.48 567.75,198.12 568.49,198.77 569.24,199.41 569.99,200.05 570.74,200.70 571.49,201.34 572.25,201.98 573.00,202.62 573.75,203.26 574.50,203.90 575.26,204.54 576.01,205.17 576.76,205.81 577.52,206.45 578.27,207.08 579.03,207.72 579.79,208.35 580.54,208.99 581.30,209.62 582.06,210.26 582.82,210.89 583.57,211.52 633.41,261.40 367.90,-4.33" fill="#350498"/>
<polygon points="421.98,49.80 422.59,50.52 423.19,51.23 423.80,51.94 424.41,52.66 425.02,53.37 425.62,54.08 426.23,54.80 426.84,55.51 427.45,56.22 428.06,56.93 428.67,57.64 429.28,58.35 429.89,59.06 430.51,59.77 431.12,60.48 431.73,61.19 432.35,61.89 432.96,62.60 433.57,63.31 434.19,64.01 434.80,64.72 435.42,65.43 436.04,66.13 436.65,66.84 437.27,67.54 437.89,68.24 438.51,68.95 439.12,69.65 439.74,70.35 440.36,71.06 440.98,71.76 441.60,72.46 442.23,73.16 442.85,73.86 443.47,74.56 444.09,75.26 444.71,75.96 445.34,76.66 445.96,77.36 446.59,78.05 447.21,78.75 447.84,79.45 448.46,80.15 449.09,80.84 449.72,81.54 450.34,82.23 450.97,82.93 451.60,83.62 452.23,84.32 452.86,85.01 453.49,85.70 454.12,86.40 454.75,87.09 455.38,87.78 456.01,88.47 456.64,89.16 457.28,89.85 457.91,90.54 458.54,91.23 459.18,91.92 459.81,92.61 460.45,93.30 461.08,93.98 461.72,94.67 462.35,95.36 462.99,96.05 463.63,96.73 464.27,97.42 464.90,98.10 465.54,98.79 466.18,99.47 466.82,100.15 467.46,100.84 468.10,101.52 468.74,102.20 469.39,102.88 470.03,103.57 470.67,104.25 471.31,104.93 471.96,105.61 472.60,106.29 473.24,106.97 473.89,107.65 474.53,108.32 475.18,109.00 475.83,109.68 476.47,110.36 477.12,111.03 477.77,111.71 478.42,112.39 479.06,113.06 479.71,113.74 480.36,114.41 481.01,115.08 481.66,115.76 482.31,116.43 482.97,117.10 483.62,117.77 484.27,118.45 484.92,119.12 485.58,119.79 486.23,120.46 486.88,121.13 487.54,121.80 488.19,122.47 488.85,123.13 489.51,123.80 490.16,124.47 490.82,125.14 491.48,125.80 492.13,126.47 492.79,127.14 493.45,127.80 494.11,128.47 494.77,129.13 495.43,129.79 496.09,130.46 496.75,131.12 497.41,131.78 498.07,132.44 498.74,133.11 499.40,133.77 500.06,134.43 500.73,135.09 501.39,135.75 502.06,136.41 502.72,137.07 503.39,137.72 504.05,138.38 504.72,139.04 505.39,139.70 506.05,140.35 506.72,141.01 507.39,141.66 508.06,142.32 508.73,142.97 509.40,143.63 510.07,144.28 510.74,144.94 511.41,145.59 512.08,146.24 512.75,146.89 513.43,147.54 514.10,148.20 514.77,148.85 515.45,149.50 516.12,150.15 516.79,150.79 517.47,151.44 518.15,152.09 518.82,152.74 519.50,153.39 520.17,154.03 520.85,154.68 521.53,155.33 522.21,155.97 522.89,156.62 523.57,157.26 524.25,157.90 524.93,158.55 525.61,159.19 526.29,159.83 526.97,160.47 527.65,161.12 528.33,161.76 529.02,162.40 529.70,163.04 530.38,163.68 531.07,164.32 531.75,164.96 532.44,165.59 533.12,166.23 533.81,166.87 534.49,167.51 535.18,168.14 535.87,168.78 536.56,169.41 537.24,170.05 537.93,170.68 538.62,171.32 539.31,171.95 540.00,172.58 540.69,173.22 541.38,173.85 542.07,174.48 542.76,175.11 543.46,175.74 544.15,176.37 544.84,177.00 545.53,177.63 546.23,178.26 546.92,178.89 547.62,179.52 548.31,180.15 549.01,180.77 549.70,181.40 550.40,182.02 551.10,182.65 551.80,183.27 552.49,183.90 553.19,184.52 553.89,185.15 554.59,185.77 555.29,186.39 555.99,187.01 556.69,187.64 557.39,188.26 558.09,188.88 558.79,189.50 559.49,190.12 560.20,190.74 560.90,191.36 561.60,191.97 562.31,192.59 563.01,193.21 563.72,193.83 564.42,194.44 565.13,195.06 565.83,195.67 566.54,196.29 567.25,196.90 567.95,197.52 568.66,198.13 569.37,198.74 570.08,199.36 570.79,199.97 571.50,200.58 572.21,201.19 572.92,201.80 573.63,202.41 574.34,203.02 575.05,203.63 575.76,204.24 576.47,204.85 577.19,205.45 577.90,206.06 578.61,206.67 579.33,207.27 633.41,261.40 367.90,-4.33" fill="#0d0887"/>
<polygon points="441.67,69.51 442.14,70.03 442.61,70.55 443.08,71.07 443.55,71.59 444.03,72.11 444.50,72.63 444.97,73.15 445.44,73.67 445.91,74.19 446.38,74.71 446.85,75.23 447.33,75.75 447.80,76.27 448.27,76.78 448.75,77.30 449.22,77.82 449.69,78.34 450.17,78.86 450.64,79.37 451.11,79.89 451.59,80.41 452.06,80.92 452.54,81.44 453.01,81.96 453.49,82.47 453.96,82.99 454.44,83.51 454.91,84.02 455.39,84.54 455.87,85.05 456.34,85.57 456.82,86.08 457.30,86.60 457.77,87.11 458.25,87.62 458.73,88.14 459.21,88.65 459.69,89.16 460.16,89.68 460.64,90.19 461.12,90.70 461.60,91.22 462.08,91.73 462.56,92.24 463.04,92.75 463.52,93.26 464.00,93.78 464.48,94.29 464.96,94.80 465.44,95.31 465.92,95.82 466.40,96.33 466.88,96.84 467.37,97.35 467.85,97.86 468.33,98.37 468.81,98.88 469.29,99.39 469.78,99.90 470.26,100.41 470.74,100.92 471.23,101.43 471.71,101.93 472.19,102.44 472.68,102.95 473.16,103.46 473.65,103.96 474.13,104.47 474.62,104.98 475.10,105.49 475.59,105.99 476.07,106.50 476.56,107.00 477.04,107.51 477.53,108.02 478.02,108.52 478.50,109.03 478.99,109.53 479.48,110.04 479.96,110.54 480.45,111.05 480.94,111.55 481.43,112.05 481.92,112.56 482.40,113.06 482.89,113.56 483.38,114.07 483.87,114.57 484.36,115.07 484.85,115.58 485.34,116.08 485.83,116.58 486.32,117.08 486.81,117.58 487.30,118.09 487.79,118.59 488.28,119.09 488.77,119.59 489.26,120.09 489.76,120.59 490.25,121.09 490.74,121.59 491.23,122.09 491.72,122.59 492.22,123.09 492.71,123.59 493.20,124.09 493.70,124.58 494.19,125.08 494.68,125.58 495.18,126.08 495.67,126.58 496.17,127.08 496.66,127.57 497.16,128.07 497.65,128.57 498.15,129.06 498.64,129.56 499.14,130.06 499.63,130.55 500.13,131.05 500.63,131.54 501.12,132.04 501.62,132.53 502.12,133.03 502.61,133.52 503.11,134.02 503.61,134.51 504.11,135.01 504.61,135.50 505.10,136.00 505.60,136.49 506.10,136.98 506.60,137.48 507.10,137.97 507.60,138.46 508.10,138.95 508.60,139.45 509.10,139.94 509.60,140.43 510.10,140.92 510.60,141.41 511.10,141.90 511.60,142.39 512.10,142.89 512.60,143.38 513.11,143.87 513.61,144.36 514.11,144.85 514.61,145.34 515.11,145.83 515.62,146.31 516.12,146.80 516.62,147.29 517.13,147.78 517.63,148.27 518.13,148.76 518.64,149.25 519.14,149.73 519.65,150.22 520.15,150.71 520.66,151.19 521.16,151.68 521.67,152.17 522.17,152.65 522.68,153.14 523.18,153.63 523.69,154.11 524.20,154.60 524.70,155.08 525.21,155.57 525.72,156.05 526.22,156.54 526.73,157.02 527.24,157.51 527.75,157.99 528.25,158.47 528.76,158.96 529.27,159.44 529.78,159.92 530.29,160.41 530.80,160.89 531.31,161.37 531.82,161.85 532.33,162.34 532.84,162.82 533.35,163.30 533.86,163.78 534.37,164.26 534.88,164.74 535.39,165.22 535.90,165.70 536.41,166.18 536.92,166.66 537.43,167.14 537.95,167.62 538.46,168.10 538.97,168.58 539.48,169.06 540.00,169.54 540.51,170.02 541.02,170.50 541.54,170.98 542.05,171.45 542.56,171.93 543.08,172.41 543.59,172.89 544.11,173.36 544.62,173.84 545.14,174.32 545.65,174.79 546.17,175.27 546.68,175.74 547.20,176.22 547.71,176.69 548.23,177.17 548.75,177.64 549.26,178.12 549.78,178.59 550.30,179.07 550.81,179.54 551.33,180.02 551.85,180.49 552.37,180.96 552.89,181.44 553.40,181.91 553.92,182.38 554.44,182.85 554.96,183.33 555.48,183.80 556.00,184.27 556.52,184.74 557.04,185.21 557.56,185.68 557.56,185.48 441.67,69.51" fill="#5b9bd5"/>
<polygon points="455.37,85.29 455.89,85.86 456.42,86.43 456.94,86.99 457.47,87.56 457.99,88.13 458.52,88.70 459.04,89.26 459.57,89.83 460.10,90.40 460.62,90.96 461.15,91.53 461.68,92.09 462.20,92.66 462.73,93.22 463.26,93.79 463.79,94.35 464.32,94.92 464.85,95.48 465.37,96.04 465.90,96.61 466.43,97.17 466.96,97.73 467.49,98.30 468.02,98.86 468.56,99.42 469.09,99.98 469.62,100.54 470.15,101.11 470.68,101.67 471.21,102.23 471.75,102.79 472.28,103.35 472.81,103.91 473.35,104.47 473.88,105.03 474.41,105.59 474.95,106.15 475.48,106.70 476.02,107.26 476.55,107.82 477.09,108.38 477.62,108.94 478.16,109.49 478.69,110.05 479.23,110.61 479.77,111.16 480.30,111.72 480.84,112.28 481.38,112.83 481.92,113.39 482.45,113.94 482.99,114.50 483.53,115.05 484.07,115.61 484.61,116.16 485.15,116.71 485.69,117.27 486.23,117.82 486.77,118.37 487.31,118.93 487.85,119.48 488.39,120.03 488.93,120.58 489.47,121.13 490.02,121.69 490.56,122.24 491.10,122.79 491.64,123.34 492.19,123.89 492.73,124.44 493.27,124.99 493.82,125.54 494.36,126.09 494.91,126.64 495.45,127.18 496.00,127.73 496.54,128.28 497.09,128.83 497.63,129.38 498.18,129.92 498.72,130.47 499.27,131.02 499.82,131.56 500.36,132.11 500.91,132.66 501.46,133.20 502.01,133.75 502.56,134.29 503.10,134.84 503.65,135.38 504.20,135.93 504.75,136.47 505.30,137.01 505.85,137.56 506.40,138.10 506.95,138.64 507.50,139.19 508.05,139.73 508.60,140.27 509.16,140.81 509.71,141.35 510.26,141.89 510.81,142.44 511.36,142.98 511.92,143.52 512.47,144.06 513.02,144.60 513.58,145.14 514.13,145.68 514.68,146.21 515.24,146.75 515.79,147.29 516.35,147.83 516.90,148.37 517.46,148.91 518.02,149.44 518.57,149.98 519.13,150.52 519.68,151.05 520.24,151.59 520.80,152.13 521.36,152.66 521.91,153.20 522.47,153.73 523.03,154.27 523.59,154.80 524.15,155.34 524.71,155.87 525.26,156.40 525.82,156.94 526.38,157.47 526.94,158.00 527.50,158.54 528.06,159.07 528.63,159.60 529.19,160.13 529.75,160.66 530.31,161.19 530.87,161.73 531.43,162.26 532.00,162.79 532.56,163.32 533.12,163.85 533.69,164.38 534.25,164.91 534.81,165.43 535.38,165.96 535.94,166.49 536.51,167.02 537.07,167.55 537.64,168.08 538.20,168.60 538.77,169.13 539.33,169.66 539.90,170.18 540.47,170.71 541.03,171.24 541.03,168.95 455.37,83.21" fill="#5b9bd5"/>
<polygon points="476.18,108.25 476.75,108.86 477.33,109.46 477.91,110.06 478.48,110.66 479.06,111.26 479.64,111.86 480.22,112.46 480.80,113.06 481.37,113.66 481.95,114.26 482.53,114.85 483.11,115.45 483.69,116.05 484.27,116.65 484.86,117.24 485.44,117.84 486.02,118.44 486.60,119.03 487.18,119.63 487.77,120.22 488.35,120.82 488.93,121.41 489.52,122.01 490.10,122.60 490.68,123.20 491.27,123.79 491.85,124.38 492.44,124.98 493.02,125.57 493.61,126.16 494.20,126.75 494.78,127.34 495.37,127.93 495.96,128.53 496.55,129.12 497.13,129.71 497.72,130.30 498.31,130.88 498.90,131.47 499.49,132.06 500.08,132.65 500.67,133.24 501.26,133.83 501.85,134.41 502.44,135.00 503.03,135.59 503.62,136.18 504.21,136.76 504.81,137.35 505.40,137.93 505.99,138.52 506.59,139.10 507.18,139.69 507.77,140.27 508.37,140.85 508.96,141.44 509.56,142.02 510.15,142.60 510.75,143.19 511.34,143.77 511.94,144.35 512.54,144.93 513.13,145.51 513.73,146.09 514.33,146.67 514.93,147.25 515.52,147.83 516.12,148.41 516.72,148.99 517.32,149.57 517.32,145.22 476.18,104.04" fill="#5b9bd5"/>
<line x1="367.90" y1="-4.33" x2="633.41" y2="261.40" stroke="#f6bf3b" stroke-width="1.15" stroke-opacity="0.95" transform="translate(0.25 -0.25)"/>
</g>
<path d="M616.3 12.8V261.4" stroke="#9c9c9c" stroke-width="1.15" fill="none"/>
<path d="M363.4 261.4H616.3" stroke="#9c9c9c" stroke-width="1.15" fill="none"/>
<path d="M616.3 261.40h4M367.90 261.4v4M616.3 247.59h4M381.70 261.4v4M616.3 233.78h4M395.50 261.4v4M616.3 219.97h4M409.30 261.4v4M616.3 206.16h4M423.10 261.4v4M616.3 192.34h4M436.90 261.4v4M616.3 178.53h4M450.70 261.4v4M616.3 164.72h4M464.50 261.4v4M616.3 150.91h4M478.30 261.4v4M616.3 137.10h4M492.10 261.4v4M616.3 123.29h4M505.90 261.4v4M616.3 109.48h4M519.70 261.4v4M616.3 95.67h4M533.50 261.4v4M616.3 81.86h4M547.30 261.4v4M616.3 68.04h4M561.10 261.4v4M616.3 54.23h4M574.90 261.4v4M616.3 40.42h4M588.70 261.4v4M616.3 26.61h4M602.50 261.4v4M616.3 12.80h4M616.30 261.4v4" stroke="#9c9c9c" stroke-width="1.15" fill="none"/>
<path d="M367.9 261.4V12.8H616.3" stroke="#7f7f7f" stroke-width="1.4" fill="none"/>
<text x="623.3" y="266.00" class="t r">0</text>
<text x="623.3" y="252.24" class="t r">100</text>
<text x="623.3" y="238.49" class="t r">200</text>
<text x="623.3" y="224.73" class="t r">300</text>
<text x="623.3" y="210.98" class="t r">400</text>
<text x="623.3" y="197.22" class="t r">500</text>
<text x="623.3" y="183.47" class="t r">600</text>
<text x="623.3" y="169.71" class="t r">700</text>
<text x="623.3" y="155.96" class="t r">800</text>
<text x="623.3" y="142.20" class="t r">900</text>
<text x="623.3" y="128.44" class="t r">1000</text>
<text x="623.3" y="114.69" class="t r">1100</text>
<text x="623.3" y="100.93" class="t r">1200</text>
<text x="623.3" y="87.18" class="t r">1300</text>
<text x="623.3" y="73.42" class="t r">1400</text>
<text x="623.3" y="59.67" class="t r">1500</text>
<text x="623.3" y="45.91" class="t r">1600</text>
<text x="623.3" y="32.16" class="t r">1700</text>
<text x="623.3" y="18.40" class="t r">1800</text>
<text transform="translate(371.80 268.7) rotate(-90)" text-anchor="end" class="t">0</text>
<text transform="translate(385.60 268.7) rotate(-90)" text-anchor="end" class="t">100</text>
<text transform="translate(399.40 268.7) rotate(-90)" text-anchor="end" class="t">200</text>
<text transform="translate(413.20 268.7) rotate(-90)" text-anchor="end" class="t">300</text>
<text transform="translate(427.00 268.7) rotate(-90)" text-anchor="end" class="t">400</text>
<text transform="translate(440.80 268.7) rotate(-90)" text-anchor="end" class="t">500</text>
<text transform="translate(454.60 268.7) rotate(-90)" text-anchor="end" class="t">600</text>
<text transform="translate(468.40 268.7) rotate(-90)" text-anchor="end" class="t">700</text>
<text transform="translate(482.20 268.7) rotate(-90)" text-anchor="end" class="t">800</text>
<text transform="translate(496.00 268.7) rotate(-90)" text-anchor="end" class="t">900</text>
<text transform="translate(509.80 268.7) rotate(-90)" text-anchor="end" class="t">1 000</text>
<text transform="translate(523.60 268.7) rotate(-90)" text-anchor="end" class="t">1 100</text>
<text transform="translate(537.40 268.7) rotate(-90)" text-anchor="end" class="t">1 200</text>
<text transform="translate(551.20 268.7) rotate(-90)" text-anchor="end" class="t">1 300</text>
<text transform="translate(565.00 268.7) rotate(-90)" text-anchor="end" class="t">1 400</text>
<text transform="translate(578.80 268.7) rotate(-90)" text-anchor="end" class="t">1 500</text>
<text transform="translate(592.60 268.7) rotate(-90)" text-anchor="end" class="t">1 600</text>
<text transform="translate(606.40 268.7) rotate(-90)" text-anchor="end" class="t">1 700</text>
<text transform="translate(620.20 268.7) rotate(-90)" text-anchor="end" class="t">1 800</text>
<text x="490.1" y="309.9" text-anchor="middle" class="a" textLength="146.6" lengthAdjust="spacingAndGlyphs">TF INTENSITY DIR. A [VEH/H]</text>
<text transform="translate(664.9 137.4) rotate(-90)" text-anchor="middle" class="a yb" textLength="144.5" lengthAdjust="spacingAndGlyphs">TF INTENSITY DIR. B [VEH/H]</text>
<text x="516.8" y="330.3" text-anchor="middle" class="c">b)</text>
<rect x="2.5" y="346.7" width="332.7" height="312.8" fill="#fff" stroke="#bdbdbd" stroke-width="1"/>
<clipPath id="cp2"><rect x="19.9" y="357.2" width="248.4" height="248.59999999999997"/></clipPath>
<g clip-path="url(#cp2)">
<polygon points="19.90,605.80 230.21,605.80 19.90,395.32" fill="#f0f921"/>
<polygon points="19.90,458.86 20.14,459.85 20.37,460.84 20.62,461.83 20.86,462.81 21.12,463.79 21.37,464.76 21.63,465.73 21.90,466.70 22.17,467.66 22.44,468.61 22.71,469.57 22.99,470.52 23.28,471.46 23.57,472.40 23.86,473.34 24.16,474.27 24.46,475.20 24.76,476.13 25.07,477.05 25.38,477.97 25.70,478.88 26.01,479.79 26.34,480.70 26.66,481.60 26.99,482.50 27.33,483.40 27.66,484.29 28.01,485.18 28.35,486.06 28.70,486.94 29.05,487.82 29.40,488.69 29.76,489.57 30.12,490.43 30.49,491.30 30.86,492.16 31.23,493.02 31.61,493.87 31.98,494.72 32.37,495.57 32.75,496.41 33.14,497.25 33.53,498.09 33.93,498.92 34.33,499.75 34.73,500.58 35.13,501.41 35.54,502.23 35.95,503.05 36.37,503.86 36.78,504.67 37.20,505.48 37.63,506.29 38.05,507.09 38.48,507.89 38.92,508.68 39.35,509.48 39.79,510.27 40.24,511.05 40.68,511.84 41.13,512.62 41.58,513.40 42.04,514.17 42.49,514.94 42.95,515.71 43.42,516.48 43.88,517.24 44.35,518.00 44.82,518.76 45.30,519.51 45.78,520.26 46.26,521.01 46.74,521.76 47.23,522.50 47.72,523.24 48.21,523.98 48.71,524.71 49.20,525.44 49.71,526.17 50.21,526.90 50.72,527.62 51.23,528.34 51.74,529.05 52.25,529.77 52.77,530.48 53.29,531.19 53.82,531.89 54.34,532.60 54.87,533.30 55.40,533.99 55.94,534.69 56.48,535.38 57.02,536.07 57.56,536.75 58.11,537.44 58.66,538.12 59.21,538.79 59.76,539.47 60.32,540.14 60.88,540.81 61.44,541.48 62.01,542.14 62.57,542.80 63.14,543.46 63.72,544.12 64.29,544.77 64.87,545.42 65.45,546.07 66.04,546.71 66.63,547.35 67.22,547.99 67.81,548.63 68.40,549.26 69.00,549.90 69.60,550.52 70.21,551.15 70.81,551.77 71.42,552.39 72.03,553.01 72.65,553.62 73.26,554.24 73.88,554.85 74.51,555.45 75.13,556.06 75.76,556.66 76.39,557.26 77.02,557.85 77.66,558.45 78.30,559.04 78.94,559.62 79.58,560.21 80.23,560.79 80.88,561.37 81.53,561.95 82.19,562.52 82.85,563.09 83.51,563.66 84.17,564.23 84.84,564.79 85.51,565.35 86.18,565.91 86.85,566.46 87.53,567.01 88.21,567.56 88.89,568.11 89.58,568.65 90.26,569.19 90.96,569.73 91.65,570.27 92.35,570.80 93.05,571.33 93.75,571.86 94.45,572.38 95.16,572.90 95.87,573.42 96.58,573.94 97.30,574.45 98.02,574.96 98.74,575.47 99.47,575.97 100.19,576.47 100.92,576.97 101.66,577.47 102.39,577.96 103.13,578.45 103.87,578.94 104.62,579.42 105.37,579.90 106.12,580.38 106.87,580.86 107.63,581.33 108.39,581.80 109.15,582.27 109.91,582.73 110.68,583.19 111.45,583.65 112.23,584.10 113.01,584.55 113.79,585.00 114.57,585.45 115.36,585.89 116.14,586.33 116.94,586.77 117.73,587.20 118.53,587.63 119.33,588.06 120.14,588.48 120.95,588.90 121.76,589.32 122.57,589.74 123.39,590.15 124.21,590.56 125.03,590.96 125.86,591.36 126.69,591.76 127.52,592.16 128.36,592.55 129.20,592.94 130.04,593.32 130.89,593.71 131.74,594.09 132.59,594.46 133.45,594.83 134.31,595.20 135.17,595.57 136.04,595.93 136.91,596.29 137.78,596.64 138.66,597.00 139.54,597.34 140.43,597.69 141.31,598.03 142.21,598.37 143.10,598.70 144.00,599.03 144.90,599.36 145.81,599.68 146.72,600.00 147.63,600.32 148.55,600.63 149.47,600.94 150.39,601.24 151.32,601.54 152.25,601.84 153.19,602.13 154.13,602.42 155.07,602.70 156.02,602.98 156.98,603.26 157.93,603.53 158.89,603.80 159.86,604.07 160.82,604.33 161.80,604.58 162.77,604.83 163.76,605.08 164.74,605.33 165.73,605.56 166.73,605.80 230.21,605.80 19.90,395.32" fill="#fada24"/>
<polygon points="23.35,398.78 23.62,400.22 23.90,401.64 24.18,403.06 24.47,404.48 24.77,405.88 25.07,407.28 25.38,408.67 25.70,410.06 26.03,411.44 26.36,412.81 26.69,414.18 27.04,415.54 27.39,416.89 27.74,418.24 28.11,419.58 28.47,420.91 28.85,422.24 29.23,423.56 29.62,424.88 30.01,426.19 30.41,427.49 30.81,428.79 31.22,430.09 31.64,431.37 32.06,432.65 32.49,433.93 32.92,435.20 33.36,436.47 33.80,437.72 34.25,438.98 34.71,440.23 35.17,441.47 35.63,442.71 36.10,443.94 36.58,445.17 37.06,446.39 37.55,447.60 38.04,448.82 38.54,450.02 39.04,451.22 39.55,452.42 40.06,453.61 40.58,454.79 41.10,455.98 41.62,457.15 42.16,458.32 42.69,459.49 43.24,460.65 43.78,461.81 44.33,462.96 44.89,464.10 45.45,465.25 46.02,466.38 46.59,467.52 47.16,468.64 47.74,469.77 48.33,470.88 48.92,472.00 49.51,473.11 50.11,474.21 50.71,475.31 51.32,476.41 51.93,477.50 52.55,478.58 53.17,479.67 53.80,480.74 54.43,481.82 55.06,482.88 55.70,483.95 56.34,485.01 56.99,486.06 57.64,487.11 58.30,488.16 58.96,489.20 59.62,490.24 60.29,491.27 60.97,492.30 61.65,493.33 62.33,494.35 63.01,495.36 63.71,496.38 64.40,497.38 65.10,498.39 65.80,499.39 66.51,500.38 67.22,501.37 67.94,502.36 68.66,503.34 69.38,504.32 70.11,505.29 70.85,506.26 71.58,507.23 72.32,508.19 73.07,509.15 73.82,510.10 74.57,511.05 75.33,512.00 76.09,512.94 76.86,513.88 77.63,514.81 78.40,515.74 79.18,516.66 79.96,517.58 80.75,518.50 81.54,519.41 82.33,520.32 83.13,521.22 83.93,522.12 84.74,523.02 85.55,523.91 86.37,524.80 87.18,525.69 88.01,526.57 88.83,527.44 89.67,528.31 90.50,529.18 91.34,530.04 92.18,530.90 93.03,531.76 93.88,532.61 94.74,533.46 95.59,534.30 96.46,535.14 97.32,535.98 98.20,536.81 99.07,537.64 99.95,538.46 100.83,539.28 101.72,540.10 102.61,540.91 103.51,541.71 104.41,542.52 105.31,543.32 106.22,544.11 107.13,544.90 108.05,545.69 108.97,546.47 109.89,547.25 110.82,548.03 111.75,548.80 112.69,549.56 113.63,550.33 114.57,551.08 115.52,551.84 116.47,552.59 117.43,553.33 118.39,554.08 119.36,554.81 120.32,555.55 121.30,556.28 122.28,557.00 123.26,557.72 124.24,558.44 125.23,559.15 126.23,559.86 127.23,560.56 128.23,561.26 129.24,561.96 130.25,562.65 131.26,563.34 132.28,564.02 133.31,564.70 134.33,565.37 135.37,566.04 136.40,566.71 137.44,567.37 138.49,568.03 139.54,568.68 140.59,569.33 141.65,569.97 142.72,570.61 143.78,571.25 144.86,571.88 145.93,572.50 147.01,573.13 148.10,573.74 149.19,574.35 150.28,574.96 151.38,575.57 152.49,576.17 153.59,576.76 154.71,577.35 155.82,577.93 156.95,578.52 158.07,579.09 159.21,579.66 160.34,580.23 161.48,580.79 162.63,581.35 163.78,581.90 164.93,582.45 166.09,582.99 167.26,583.53 168.43,584.06 169.60,584.59 170.78,585.11 171.97,585.63 173.16,586.14 174.35,586.65 175.55,587.15 176.76,587.65 177.97,588.14 179.18,588.63 180.40,589.11 181.63,589.58 182.86,590.06 184.10,590.52 185.34,590.98 186.59,591.44 187.84,591.89 189.10,592.33 190.36,592.77 191.63,593.20 192.91,593.63 194.19,594.05 195.47,594.47 196.76,594.88 198.06,595.28 199.37,595.68 200.68,596.08 201.99,596.46 203.31,596.84 204.64,597.22 205.97,597.59 207.31,597.95 208.66,598.31 210.01,598.66 211.37,599.00 212.73,599.34 214.11,599.67 215.48,599.99 216.87,600.31 218.26,600.62 219.66,600.93 221.06,601.22 222.47,601.52 223.89,601.80 225.32,602.08 226.75,602.35 230.21,605.80 19.90,395.32" fill="#febd2a"/>
<polygon points="29.15,404.58 29.59,405.75 30.03,406.91 30.48,408.08 30.93,409.23 31.38,410.38 31.84,411.53 32.30,412.68 32.76,413.82 33.23,414.96 33.70,416.10 34.17,417.23 34.65,418.36 35.13,419.48 35.62,420.60 36.10,421.72 36.60,422.83 37.09,423.94 37.59,425.05 38.09,426.15 38.60,427.26 39.11,428.35 39.62,429.45 40.13,430.54 40.65,431.62 41.17,432.71 41.70,433.79 42.23,434.87 42.76,435.94 43.30,437.01 43.83,438.08 44.38,439.14 44.92,440.20 45.47,441.26 46.02,442.31 46.58,443.37 47.13,444.41 47.69,445.46 48.26,446.50 48.83,447.54 49.40,448.57 49.97,449.61 50.55,450.64 51.13,451.66 51.71,452.68 52.30,453.70 52.89,454.72 53.48,455.73 54.07,456.75 54.67,457.75 55.27,458.76 55.88,459.76 56.48,460.76 57.10,461.75 57.71,462.74 58.33,463.73 58.95,464.72 59.57,465.70 60.19,466.68 60.82,467.66 61.45,468.64 62.09,469.61 62.73,470.57 63.37,471.54 64.01,472.50 64.66,473.46 65.31,474.42 65.96,475.37 66.61,476.32 67.27,477.27 67.93,478.21 68.60,479.16 69.26,480.10 69.93,481.03 70.61,481.96 71.28,482.89 71.96,483.82 72.64,484.75 73.33,485.67 74.01,486.59 74.70,487.50 75.40,488.42 76.09,489.33 76.79,490.23 77.49,491.14 78.20,492.04 78.90,492.94 79.61,493.83 80.32,494.73 81.04,495.62 81.76,496.50 82.48,497.39 83.20,498.27 83.93,499.15 84.66,500.02 85.39,500.90 86.13,501.77 86.87,502.64 87.61,503.50 88.35,504.36 89.10,505.22 89.85,506.08 90.60,506.93 91.36,507.78 92.11,508.63 92.87,509.47 93.64,510.32 94.40,511.16 95.17,511.99 95.95,512.83 96.72,513.66 97.50,514.49 98.28,515.31 99.06,516.13 99.85,516.95 100.63,517.77 101.43,518.59 102.22,519.40 103.02,520.21 103.82,521.01 104.62,521.82 105.42,522.62 106.23,523.41 107.04,524.21 107.86,525.00 108.67,525.79 109.49,526.58 110.32,527.36 111.14,528.14 111.97,528.92 112.80,529.69 113.63,530.47 114.47,531.24 115.31,532.00 116.15,532.77 116.99,533.53 117.84,534.29 118.69,535.04 119.54,535.80 120.40,536.55 121.26,537.29 122.12,538.04 122.98,538.78 123.85,539.52 124.72,540.25 125.59,540.99 126.47,541.72 127.34,542.44 128.22,543.17 129.11,543.89 129.99,544.61 130.88,545.33 131.78,546.04 132.67,546.75 133.57,547.46 134.47,548.16 135.37,548.86 136.28,549.56 137.19,550.26 138.10,550.95 139.02,551.64 139.94,552.33 140.86,553.02 141.78,553.70 142.71,554.38 143.64,555.05 144.57,555.73 145.50,556.40 146.44,557.06 147.38,557.73 148.33,558.39 149.27,559.05 150.22,559.71 151.18,560.36 152.13,561.01 153.09,561.65 154.05,562.30 155.02,562.94 155.98,563.58 156.95,564.21 157.93,564.85 158.90,565.47 159.88,566.10 160.87,566.72 161.85,567.34 162.84,567.96 163.83,568.57 164.83,569.19 165.82,569.79 166.82,570.40 167.83,571.00 168.83,571.60 169.84,572.20 170.86,572.79 171.87,573.38 172.89,573.96 173.91,574.55 174.94,575.13 175.97,575.71 177.00,576.28 178.03,576.85 179.07,577.42 180.11,577.98 181.16,578.54 182.20,579.10 183.25,579.66 184.31,580.21 185.36,580.76 186.42,581.30 187.49,581.85 188.55,582.38 189.62,582.92 190.70,583.45 191.77,583.98 192.85,584.51 193.94,585.03 195.02,585.55 196.11,586.07 197.20,586.58 198.30,587.09 199.40,587.59 200.50,588.10 201.61,588.59 202.72,589.09 203.83,589.58 204.95,590.07 206.07,590.56 207.19,591.04 208.32,591.52 209.45,591.99 210.59,592.46 211.72,592.93 212.86,593.39 214.01,593.85 215.16,594.31 216.31,594.77 217.47,595.22 218.63,595.66 219.79,596.10 220.95,596.54 230.21,605.80 19.90,395.32" fill="#fba238"/>
<polygon points="36.05,411.49 36.55,412.49 37.04,413.48 37.54,414.47 38.04,415.46 38.55,416.45 39.05,417.43 39.56,418.41 40.07,419.39 40.58,420.37 41.10,421.34 41.62,422.32 42.14,423.29 42.66,424.26 43.18,425.22 43.71,426.19 44.24,427.15 44.77,428.11 45.30,429.06 45.84,430.02 46.38,430.97 46.92,431.92 47.46,432.87 48.00,433.82 48.55,434.76 49.10,435.70 49.65,436.64 50.20,437.58 50.76,438.51 51.32,439.44 51.88,440.37 52.44,441.30 53.00,442.23 53.57,443.15 54.14,444.07 54.71,444.99 55.28,445.91 55.86,446.83 56.43,447.74 57.01,448.65 57.59,449.56 58.18,450.47 58.76,451.37 59.35,452.27 59.94,453.17 60.53,454.07 61.13,454.97 61.72,455.86 62.32,456.75 62.92,457.64 63.52,458.53 64.13,459.42 64.74,460.30 65.35,461.18 65.96,462.06 66.57,462.94 67.18,463.81 67.80,464.69 68.42,465.56 69.04,466.43 69.67,467.29 70.29,468.16 70.92,469.02 71.55,469.88 72.18,470.74 72.82,471.60 73.45,472.45 74.09,473.30 74.73,474.15 75.37,475.00 76.02,475.85 76.66,476.69 77.31,477.53 77.96,478.37 78.61,479.21 79.27,480.05 79.92,480.88 80.58,481.71 81.24,482.54 81.90,483.37 82.57,484.20 83.24,485.02 83.90,485.84 84.58,486.66 85.25,487.48 85.92,488.29 86.60,489.11 87.28,489.92 87.96,490.73 88.64,491.54 89.33,492.34 90.01,493.14 90.70,493.95 91.39,494.74 92.09,495.54 92.78,496.34 93.48,497.13 94.18,497.92 94.88,498.71 95.58,499.50 96.28,500.28 96.99,501.07 97.70,501.85 98.41,502.63 99.12,503.41 99.84,504.18 100.56,504.95 101.27,505.73 101.99,506.50 102.72,507.26 103.44,508.03 104.17,508.79 104.90,509.55 105.63,510.31 106.36,511.07 107.10,511.82 107.83,512.58 108.57,513.33 109.31,514.08 110.06,514.83 110.80,515.57 111.55,516.31 112.30,517.06 113.05,517.80 113.80,518.53 114.55,519.27 115.31,520.00 116.07,520.73 116.83,521.46 117.59,522.19 118.36,522.92 119.12,523.64 119.89,524.36 120.66,525.08 121.44,525.80 122.21,526.51 122.99,527.23 123.77,527.94 124.55,528.65 125.33,529.35 126.12,530.06 126.90,530.76 127.69,531.46 128.48,532.16 129.27,532.86 130.07,533.56 130.87,534.25 131.66,534.94 132.47,535.63 133.27,536.32 134.07,537.00 134.88,537.69 135.69,538.37 136.50,539.05 137.31,539.72 138.13,540.40 138.94,541.07 139.76,541.74 140.58,542.41 141.41,543.08 142.23,543.75 143.06,544.41 143.89,545.07 144.72,545.73 145.55,546.39 146.39,547.04 147.23,547.69 148.06,548.34 148.91,548.99 149.75,549.64 150.59,550.28 151.44,550.93 152.29,551.57 153.14,552.21 154.00,552.84 154.85,553.48 155.71,554.11 156.57,554.74 157.43,555.37 158.30,555.99 159.16,556.62 160.03,557.24 160.90,557.86 161.77,558.48 162.65,559.09 163.52,559.71 164.40,560.32 165.28,560.93 166.16,561.53 167.05,562.14 167.94,562.74 168.83,563.34 169.72,563.94 170.61,564.54 171.51,565.13 172.40,565.73 173.30,566.32 174.20,566.91 175.11,567.49 176.01,568.08 176.92,568.66 177.83,569.24 178.74,569.82 179.66,570.39 180.58,570.96 181.49,571.54 182.42,572.10 183.34,572.67 184.26,573.24 185.19,573.80 186.12,574.36 187.05,574.92 187.99,575.47 188.92,576.03 189.86,576.58 190.80,577.13 191.75,577.67 192.69,578.22 193.64,578.76 194.59,579.30 195.54,579.84 196.49,580.38 197.45,580.91 198.41,581.44 199.37,581.97 200.33,582.50 201.30,583.02 202.27,583.54 203.24,584.06 204.21,584.58 205.18,585.10 206.16,585.61 207.14,586.12 208.12,586.63 209.10,587.14 210.09,587.64 211.08,588.14 212.07,588.64 213.06,589.14 214.05,589.64 230.21,605.80 19.90,395.32" fill="#f48849"/>
<polygon points="42.26,417.70 42.78,418.56 43.30,419.43 43.82,420.30 44.34,421.16 44.86,422.02 45.39,422.89 45.91,423.74 46.44,424.60 46.97,425.46 47.51,426.31 48.04,427.17 48.57,428.02 49.11,428.87 49.65,429.72 50.19,430.56 50.73,431.41 51.27,432.25 51.81,433.10 52.36,433.94 52.91,434.78 53.46,435.61 54.01,436.45 54.56,437.29 55.11,438.12 55.66,438.95 56.22,439.78 56.78,440.61 57.34,441.44 57.90,442.26 58.46,443.09 59.02,443.91 59.59,444.73 60.16,445.55 60.72,446.37 61.29,447.19 61.86,448.00 62.44,448.81 63.01,449.63 63.59,450.44 64.16,451.25 64.74,452.05 65.32,452.86 65.90,453.67 66.49,454.47 67.07,455.27 67.66,456.07 68.25,456.87 68.83,457.67 69.42,458.46 70.02,459.26 70.61,460.05 71.20,460.84 71.80,461.63 72.40,462.42 73.00,463.21 73.60,463.99 74.20,464.78 74.80,465.56 75.41,466.34 76.02,467.12 76.62,467.90 77.23,468.68 77.84,469.45 78.46,470.23 79.07,471.00 79.69,471.77 80.30,472.54 80.92,473.31 81.54,474.07 82.16,474.84 82.78,475.60 83.41,476.36 84.03,477.13 84.66,477.89 85.29,478.64 85.92,479.40 86.55,480.15 87.18,480.91 87.82,481.66 88.45,482.41 89.09,483.16 89.73,483.91 90.37,484.66 91.01,485.40 91.65,486.14 92.30,486.89 92.94,487.63 93.59,488.37 94.24,489.10 94.89,489.84 95.54,490.57 96.19,491.31 96.85,492.04 97.50,492.77 98.16,493.50 98.82,494.23 99.48,494.95 100.14,495.68 100.80,496.40 101.47,497.12 102.13,497.84 102.80,498.56 103.47,499.28 104.14,500.00 104.81,500.71 105.48,501.43 106.16,502.14 106.83,502.85 107.51,503.56 108.19,504.27 108.87,504.97 109.55,505.68 110.23,506.38 110.92,507.08 111.60,507.78 112.29,508.48 112.98,509.18 113.67,509.88 114.36,510.57 115.05,511.26 115.75,511.96 116.44,512.65 117.14,513.34 117.84,514.02 118.54,514.71 119.24,515.39 119.94,516.08 120.65,516.76 121.35,517.44 122.06,518.12 122.77,518.80 123.48,519.47 124.19,520.15 124.90,520.82 125.62,521.49 126.33,522.16 127.05,522.83 127.77,523.50 128.49,524.17 129.21,524.83 129.93,525.50 130.66,526.16 131.38,526.82 132.11,527.48 132.84,528.14 133.57,528.79 134.30,529.45 135.03,530.10 135.77,530.75 136.50,531.40 137.24,532.05 137.98,532.70 138.72,533.34 139.46,533.99 140.20,534.63 140.95,535.27 141.69,535.92 142.44,536.55 143.19,537.19 143.94,537.83 144.69,538.46 145.44,539.10 146.20,539.73 146.95,540.36 147.71,540.99 148.47,541.61 149.23,542.24 149.99,542.86 150.76,543.49 151.52,544.11 152.29,544.73 153.05,545.35 153.82,545.97 154.59,546.58 155.37,547.20 156.14,547.81 156.91,548.42 157.69,549.03 158.47,549.64 159.25,550.25 160.03,550.85 160.81,551.46 161.59,552.06 162.38,552.66 163.16,553.26 163.95,553.86 164.74,554.45 165.53,555.05 166.32,555.64 167.12,556.24 167.91,556.83 168.71,557.42 169.51,558.00 170.31,558.59 171.11,559.18 171.91,559.76 172.72,560.34 173.52,560.92 174.33,561.50 175.14,562.08 175.95,562.65 176.76,563.23 177.57,563.80 178.39,564.37 179.20,564.94 180.02,565.51 180.84,566.08 181.66,566.64 182.48,567.21 183.31,567.77 184.13,568.33 184.96,568.89 185.79,569.45 186.62,570.01 187.45,570.56 188.28,571.12 189.11,571.67 189.95,572.22 190.79,572.77 191.63,573.31 192.47,573.86 193.31,574.40 194.15,574.95 195.00,575.49 195.84,576.03 196.69,576.57 197.54,577.10 198.39,577.64 199.24,578.17 200.10,578.70 200.95,579.24 201.81,579.76 202.67,580.29 203.53,580.82 204.39,581.34 205.25,581.86 206.12,582.39 206.98,582.91 207.85,583.42 230.21,605.80 19.90,395.32" fill="#e97158"/>
<polygon points="46.12,421.56 46.65,422.36 47.18,423.15 47.71,423.94 48.24,424.73 48.77,425.52 49.31,426.31 49.84,427.09 50.38,427.88 50.92,428.66 51.46,429.45 52.00,430.23 52.54,431.01 53.08,431.79 53.62,432.57 54.17,433.35 54.71,434.12 55.26,434.90 55.81,435.67 56.35,436.44 56.90,437.22 57.46,437.99 58.01,438.76 58.56,439.52 59.12,440.29 59.67,441.06 60.23,441.82 60.79,442.59 61.34,443.35 61.90,444.11 62.47,444.87 63.03,445.63 63.59,446.39 64.16,447.15 64.72,447.90 65.29,448.66 65.86,449.41 66.43,450.16 67.00,450.91 67.57,451.66 68.14,452.41 68.71,453.16 69.29,453.91 69.86,454.65 70.44,455.40 71.02,456.14 71.60,456.88 72.18,457.63 72.76,458.37 73.34,459.11 73.93,459.84 74.51,460.58 75.10,461.32 75.68,462.05 76.27,462.78 76.86,463.52 77.45,464.25 78.04,464.98 78.64,465.71 79.23,466.43 79.82,467.16 80.42,467.89 81.02,468.61 81.62,469.34 82.21,470.06 82.81,470.78 83.42,471.50 84.02,472.22 84.62,472.94 85.23,473.65 85.83,474.37 86.44,475.08 87.05,475.80 87.66,476.51 88.27,477.22 88.88,477.93 89.49,478.64 90.10,479.35 90.72,480.06 91.33,480.76 91.95,481.47 92.57,482.17 93.19,482.87 93.81,483.58 94.43,484.28 95.05,484.98 95.67,485.67 96.30,486.37 96.92,487.07 97.55,487.76 98.18,488.46 98.81,489.15 99.44,489.84 100.07,490.53 100.70,491.22 101.33,491.91 101.97,492.60 102.60,493.28 103.24,493.97 103.88,494.65 104.52,495.33 105.16,496.02 105.80,496.70 106.44,497.38 107.08,498.05 107.73,498.73 108.37,499.41 109.02,500.08 109.67,500.76 110.31,501.43 110.96,502.10 111.61,502.77 112.27,503.44 112.92,504.11 113.57,504.78 114.23,505.45 114.88,506.11 115.54,506.78 116.20,507.44 116.86,508.10 117.52,508.76 118.18,509.42 118.84,510.08 119.51,510.74 120.17,511.40 120.84,512.05 121.51,512.71 122.17,513.36 122.84,514.01 123.51,514.66 124.19,515.31 124.86,515.96 125.53,516.61 126.21,517.26 126.88,517.90 127.56,518.55 128.24,519.19 128.92,519.83 129.60,520.47 130.28,521.11 130.96,521.75 131.64,522.39 132.33,523.03 133.01,523.66 133.70,524.30 134.39,524.93 135.08,525.57 135.77,526.20 136.46,526.83 137.15,527.46 137.84,528.09 138.54,528.71 139.23,529.34 139.93,529.96 140.63,530.59 141.33,531.21 142.03,531.83 142.73,532.45 143.43,533.07 144.13,533.69 144.84,534.31 145.54,534.92 146.25,535.54 146.96,536.15 147.66,536.77 148.37,537.38 149.09,537.99 149.80,538.60 150.51,539.21 151.22,539.81 151.94,540.42 152.66,541.03 153.37,541.63 154.09,542.23 154.81,542.83 155.53,543.44 156.25,544.04 156.98,544.63 157.70,545.23 158.43,545.83 159.15,546.42 159.88,547.02 160.61,547.61 161.34,548.20 162.07,548.79 162.80,549.38 163.53,549.97 164.27,550.56 165.00,551.14 165.74,551.73 166.48,552.31 167.22,552.90 167.95,553.48 168.70,554.06 169.44,554.64 170.18,555.22 170.92,555.80 171.67,556.37 172.42,556.95 173.16,557.52 173.91,558.09 174.66,558.67 175.41,559.24 176.16,559.81 176.92,560.37 177.67,560.94 178.43,561.51 179.18,562.07 179.94,562.64 180.70,563.20 181.46,563.76 182.22,564.32 182.98,564.88 183.75,565.44 184.51,566.00 185.28,566.55 186.04,567.11 186.81,567.66 187.58,568.21 188.35,568.77 189.12,569.32 189.89,569.87 190.67,570.41 191.44,570.96 192.22,571.51 192.99,572.05 193.77,572.59 194.55,573.14 195.33,573.68 196.11,574.22 196.89,574.76 197.68,575.30 198.46,575.83 199.25,576.37 200.04,576.90 200.82,577.44 201.61,577.97 202.40,578.50 203.20,579.03 203.99,579.56 230.21,605.80 19.90,395.32" fill="#db5c68"/>
<polygon points="49.16,424.60 49.69,425.34 50.22,426.09 50.75,426.83 51.28,427.57 51.81,428.30 52.34,429.04 52.88,429.78 53.41,430.51 53.95,431.25 54.49,431.98 55.02,432.72 55.56,433.45 56.10,434.18 56.64,434.91 57.18,435.64 57.73,436.37 58.27,437.10 58.81,437.82 59.36,438.55 59.91,439.27 60.45,440.00 61.00,440.72 61.55,441.44 62.10,442.16 62.65,442.88 63.20,443.60 63.75,444.32 64.31,445.04 64.86,445.76 65.41,446.47 65.97,447.19 66.53,447.90 67.09,448.61 67.64,449.33 68.20,450.04 68.76,450.75 69.33,451.46 69.89,452.17 70.45,452.87 71.01,453.58 71.58,454.29 72.15,454.99 72.71,455.69 73.28,456.40 73.85,457.10 74.42,457.80 74.99,458.50 75.56,459.20 76.13,459.90 76.70,460.60 77.28,461.29 77.85,461.99 78.43,462.69 79.01,463.38 79.58,464.07 80.16,464.77 80.74,465.46 81.32,466.15 81.90,466.84 82.48,467.53 83.07,468.21 83.65,468.90 84.24,469.59 84.82,470.27 85.41,470.96 85.99,471.64 86.58,472.32 87.17,473.00 87.76,473.69 88.35,474.37 88.94,475.04 89.54,475.72 90.13,476.40 90.72,477.08 91.32,477.75 91.92,478.43 92.51,479.10 93.11,479.77 93.71,480.44 94.31,481.12 94.91,481.79 95.51,482.45 96.11,483.12 96.72,483.79 97.32,484.46 97.93,485.12 98.53,485.79 99.14,486.45 99.75,487.11 100.36,487.78 100.97,488.44 101.58,489.10 102.19,489.76 102.80,490.42 103.41,491.07 104.03,491.73 104.64,492.39 105.26,493.04 105.87,493.70 106.49,494.35 107.11,495.00 107.73,495.65 108.35,496.30 108.97,496.95 109.59,497.60 110.21,498.25 110.84,498.90 111.46,499.54 112.09,500.19 112.71,500.83 113.34,501.48 113.97,502.12 114.60,502.76 115.23,503.40 115.86,504.04 116.49,504.68 117.12,505.32 117.76,505.96 118.39,506.59 119.03,507.23 119.66,507.86 120.30,508.50 120.94,509.13 121.57,509.76 122.21,510.40 122.85,511.03 123.50,511.65 124.14,512.28 124.78,512.91 125.43,513.54 126.07,514.16 126.72,514.79 127.36,515.41 128.01,516.04 128.66,516.66 129.31,517.28 129.96,517.90 130.61,518.52 131.26,519.14 131.91,519.76 132.57,520.37 133.22,520.99 133.88,521.61 134.53,522.22 135.19,522.83 135.85,523.45 136.51,524.06 137.17,524.67 137.83,525.28 138.49,525.89 139.15,526.50 139.82,527.10 140.48,527.71 141.15,528.32 141.81,528.92 142.48,529.52 143.15,530.13 143.81,530.73 144.48,531.33 145.15,531.93 145.83,532.53 146.50,533.13 147.17,533.73 147.85,534.32 148.52,534.92 149.20,535.51 149.87,536.11 150.55,536.70 151.23,537.29 151.91,537.88 152.59,538.47 153.27,539.06 153.95,539.65 154.63,540.24 155.32,540.83 156.00,541.41 156.69,542.00 157.38,542.58 158.06,543.17 158.75,543.75 159.44,544.33 160.13,544.91 160.82,545.49 161.51,546.07 162.21,546.65 162.90,547.22 163.59,547.80 164.29,548.38 164.99,548.95 165.68,549.52 166.38,550.10 167.08,550.67 167.78,551.24 168.48,551.81 169.18,552.38 169.88,552.95 170.59,553.51 171.29,554.08 172.00,554.64 172.70,555.21 173.41,555.77 174.12,556.34 174.83,556.90 175.54,557.46 176.25,558.02 176.96,558.58 177.67,559.14 178.39,559.69 179.10,560.25 179.82,560.80 180.53,561.36 181.25,561.91 181.97,562.47 182.69,563.02 183.41,563.57 184.13,564.12 184.85,564.67 185.57,565.22 186.29,565.76 187.02,566.31 187.74,566.85 188.47,567.40 189.20,567.94 189.92,568.49 190.65,569.03 191.38,569.57 192.11,570.11 192.84,570.65 193.58,571.19 194.31,571.72 195.04,572.26 195.78,572.79 196.52,573.33 197.25,573.86 197.99,574.40 198.73,574.93 199.47,575.46 200.21,575.99 200.95,576.52 230.21,605.80 19.90,395.32" fill="#cb4679"/>
<polygon points="52.34,427.79 52.86,428.48 53.39,429.18 53.91,429.87 54.44,430.56 54.96,431.25 55.49,431.94 56.02,432.63 56.54,433.32 57.07,434.01 57.60,434.70 58.13,435.39 58.66,436.07 59.20,436.76 59.73,437.44 60.26,438.13 60.79,438.81 61.33,439.49 61.87,440.18 62.40,440.86 62.94,441.54 63.48,442.22 64.01,442.90 64.55,443.58 65.09,444.25 65.63,444.93 66.17,445.61 66.72,446.28 67.26,446.96 67.80,447.63 68.35,448.31 68.89,448.98 69.44,449.65 69.98,450.32 70.53,450.99 71.08,451.66 71.63,452.33 72.18,453.00 72.73,453.67 73.28,454.33 73.83,455.00 74.38,455.67 74.93,456.33 75.49,456.99 76.04,457.66 76.59,458.32 77.15,458.98 77.71,459.64 78.26,460.30 78.82,460.96 79.38,461.62 79.94,462.28 80.50,462.94 81.06,463.60 81.62,464.25 82.18,464.91 82.75,465.56 83.31,466.22 83.87,466.87 84.44,467.52 85.01,468.17 85.57,468.82 86.14,469.47 86.71,470.12 87.28,470.77 87.84,471.42 88.41,472.07 88.99,472.72 89.56,473.36 90.13,474.01 90.70,474.65 91.28,475.30 91.85,475.94 92.42,476.58 93.00,477.22 93.58,477.86 94.15,478.50 94.73,479.14 95.31,479.78 95.89,480.42 96.47,481.06 97.05,481.70 97.63,482.33 98.21,482.97 98.80,483.60 99.38,484.24 99.96,484.87 100.55,485.50 101.14,486.13 101.72,486.76 102.31,487.39 102.90,488.02 103.49,488.65 104.07,489.28 104.66,489.91 105.26,490.54 105.85,491.16 106.44,491.79 107.03,492.41 107.63,493.04 108.22,493.66 108.81,494.28 109.41,494.90 110.01,495.52 110.60,496.14 111.20,496.76 111.80,497.38 112.40,498.00 113.00,498.62 113.60,499.24 114.20,499.85 114.80,500.47 115.41,501.08 116.01,501.70 116.61,502.31 117.22,502.92 117.82,503.53 118.43,504.14 119.04,504.76 119.65,505.36 120.25,505.97 120.86,506.58 121.47,507.19 122.08,507.80 122.70,508.40 123.31,509.01 123.92,509.61 124.53,510.22 125.15,510.82 125.76,511.42 126.38,512.02 126.99,512.63 127.61,513.23 128.23,513.83 128.85,514.42 129.47,515.02 130.09,515.62 130.71,516.22 131.33,516.81 131.95,517.41 132.57,518.00 133.20,518.60 133.82,519.19 134.45,519.78 135.07,520.38 135.70,520.97 136.33,521.56 136.95,522.15 137.58,522.74 138.21,523.32 138.84,523.91 139.47,524.50 140.10,525.09 140.73,525.67 141.37,526.26 142.00,526.84 142.63,527.42 143.27,528.01 143.90,528.59 144.54,529.17 145.18,529.75 145.82,530.33 146.45,530.91 147.09,531.49 147.73,532.06 148.37,532.64 149.01,533.22 149.66,533.79 150.30,534.37 150.94,534.94 151.59,535.51 152.23,536.09 152.88,536.66 153.52,537.23 154.17,537.80 154.82,538.37 155.47,538.94 156.12,539.51 156.77,540.08 157.42,540.64 158.07,541.21 158.72,541.77 159.37,542.34 160.03,542.90 160.68,543.47 161.33,544.03 161.99,544.59 162.65,545.15 163.30,545.71 163.96,546.27 164.62,546.83 165.28,547.39 165.94,547.95 166.60,548.50 167.26,549.06 167.92,549.61 168.59,550.17 169.25,550.72 169.91,551.28 170.58,551.83 171.24,552.38 171.91,552.93 172.58,553.48 173.25,554.03 173.91,554.58 174.58,555.13 175.25,555.68 175.92,556.22 176.60,556.77 177.27,557.31 177.94,557.86 178.61,558.40 179.29,558.95 179.96,559.49 180.64,560.03 181.32,560.57 181.99,561.11 182.67,561.65 183.35,562.19 184.03,562.73 184.71,563.26 185.39,563.80 186.07,564.34 186.75,564.87 187.44,565.41 188.12,565.94 188.81,566.47 189.49,567.01 190.18,567.54 190.86,568.07 191.55,568.60 192.24,569.13 192.93,569.66 193.62,570.18 194.31,570.71 195.00,571.24 195.69,571.76 196.38,572.29 197.08,572.81 197.77,573.33 230.21,605.80 19.90,395.32" fill="#b83289"/>
<polygon points="55.78,431.23 56.29,431.88 56.81,432.53 57.32,433.18 57.83,433.83 58.34,434.47 58.86,435.12 59.37,435.77 59.88,436.41 60.40,437.06 60.91,437.70 61.43,438.34 61.95,438.99 62.47,439.63 62.98,440.27 63.50,440.91 64.02,441.55 64.54,442.19 65.06,442.83 65.58,443.47 66.10,444.11 66.63,444.75 67.15,445.38 67.67,446.02 68.20,446.66 68.72,447.29 69.25,447.93 69.77,448.56 70.30,449.19 70.83,449.83 71.35,450.46 71.88,451.09 72.41,451.72 72.94,452.35 73.47,452.98 74.00,453.61 74.53,454.24 75.06,454.87 75.59,455.50 76.13,456.12 76.66,456.75 77.19,457.38 77.73,458.00 78.26,458.63 78.80,459.25 79.34,459.88 79.87,460.50 80.41,461.12 80.95,461.74 81.49,462.36 82.03,462.98 82.56,463.60 83.11,464.22 83.65,464.84 84.19,465.46 84.73,466.08 85.27,466.70 85.82,467.31 86.36,467.93 86.90,468.54 87.45,469.16 87.99,469.77 88.54,470.39 89.09,471.00 89.63,471.61 90.18,472.23 90.73,472.84 91.28,473.45 91.83,474.06 92.38,474.67 92.93,475.28 93.48,475.89 94.03,476.49 94.59,477.10 95.14,477.71 95.69,478.31 96.25,478.92 96.80,479.52 97.36,480.13 97.91,480.73 98.47,481.34 99.03,481.94 99.58,482.54 100.14,483.14 100.70,483.74 101.26,484.34 101.82,484.94 102.38,485.54 102.94,486.14 103.50,486.74 104.07,487.34 104.63,487.93 105.19,488.53 105.76,489.13 106.32,489.72 106.89,490.32 107.45,490.91 108.02,491.50 108.59,492.10 109.15,492.69 109.72,493.28 110.29,493.87 110.86,494.46 111.43,495.05 112.00,495.64 112.57,496.23 113.14,496.82 113.72,497.41 114.29,497.99 114.86,498.58 115.44,499.17 116.01,499.75 116.58,500.34 117.16,500.92 117.74,501.50 118.31,502.09 118.89,502.67 119.47,503.25 120.05,503.83 120.63,504.41 121.21,504.99 121.79,505.57 122.37,506.15 122.95,506.73 123.53,507.31 124.11,507.88 124.70,508.46 125.28,509.04 125.86,509.61 126.45,510.19 127.03,510.76 127.62,511.34 128.21,511.91 128.79,512.48 129.38,513.05 129.97,513.63 130.56,514.20 131.15,514.77 131.74,515.34 132.33,515.91 132.92,516.47 133.51,517.04 134.10,517.61 134.70,518.18 135.29,518.74 135.89,519.31 136.48,519.87 137.08,520.44 137.67,521.00 138.27,521.57 138.86,522.13 139.46,522.69 140.06,523.25 140.66,523.81 141.26,524.37 141.86,524.93 142.46,525.49 143.06,526.05 143.66,526.61 144.26,527.17 144.87,527.72 145.47,528.28 146.07,528.84 146.68,529.39 147.28,529.95 147.89,530.50 148.50,531.05 149.10,531.61 149.71,532.16 150.32,532.71 150.93,533.26 151.54,533.81 152.15,534.36 152.76,534.91 153.37,535.46 153.98,536.01 154.59,536.56 155.20,537.10 155.82,537.65 156.43,538.20 157.04,538.74 157.66,539.29 158.28,539.83 158.89,540.38 159.51,540.92 160.13,541.46 160.74,542.00 161.36,542.54 161.98,543.08 162.60,543.62 163.22,544.16 163.84,544.70 164.46,545.24 165.08,545.78 165.71,546.32 166.33,546.85 166.95,547.39 167.58,547.93 168.20,548.46 168.83,548.99 169.45,549.53 170.08,550.06 170.71,550.59 171.34,551.13 171.96,551.66 172.59,552.19 173.22,552.72 173.85,553.25 174.48,553.78 175.12,554.31 175.75,554.83 176.38,555.36 177.01,555.89 177.65,556.41 178.28,556.94 178.92,557.46 179.55,557.99 180.19,558.51 180.82,559.04 181.46,559.56 182.10,560.08 182.74,560.60 183.38,561.12 184.02,561.64 184.66,562.16 185.30,562.68 185.94,563.20 186.58,563.72 187.22,564.24 187.86,564.75 188.51,565.27 189.15,565.78 189.80,566.30 190.44,566.81 191.09,567.33 191.73,567.84 192.38,568.35 193.03,568.86 193.68,569.38 194.33,569.89 230.21,605.80 19.90,395.32" fill="#a31e9a"/>
<polygon points="59.24,434.69 59.74,435.30 60.23,435.91 60.73,436.51 61.22,437.12 61.72,437.72 62.22,438.33 62.72,438.93 63.22,439.53 63.72,440.14 64.22,440.74 64.72,441.34 65.22,441.94 65.72,442.54 66.22,443.14 66.72,443.74 67.22,444.34 67.73,444.94 68.23,445.54 68.73,446.14 69.24,446.73 69.74,447.33 70.25,447.93 70.75,448.53 71.26,449.12 71.77,449.72 72.27,450.31 72.78,450.91 73.29,451.50 73.80,452.09 74.31,452.69 74.82,453.28 75.33,453.87 75.84,454.46 76.35,455.05 76.86,455.64 77.37,456.23 77.88,456.82 78.40,457.41 78.91,458.00 79.42,458.59 79.94,459.18 80.45,459.76 80.97,460.35 81.48,460.94 82.00,461.52 82.51,462.11 83.03,462.69 83.55,463.28 84.07,463.86 84.58,464.45 85.10,465.03 85.62,465.61 86.14,466.20 86.66,466.78 87.18,467.36 87.70,467.94 88.23,468.52 88.75,469.10 89.27,469.68 89.79,470.26 90.32,470.84 90.84,471.41 91.37,471.99 91.89,472.57 92.42,473.15 92.94,473.72 93.47,474.30 93.99,474.87 94.52,475.45 95.05,476.02 95.58,476.60 96.11,477.17 96.63,477.74 97.16,478.32 97.69,478.89 98.22,479.46 98.76,480.03 99.29,480.60 99.82,481.17 100.35,481.74 100.88,482.31 101.42,482.88 101.95,483.45 102.48,484.01 103.02,484.58 103.55,485.15 104.09,485.72 104.62,486.28 105.16,486.85 105.70,487.41 106.24,487.98 106.77,488.54 107.31,489.10 107.85,489.67 108.39,490.23 108.93,490.79 109.47,491.35 110.01,491.92 110.55,492.48 111.09,493.04 111.63,493.60 112.18,494.16 112.72,494.72 113.26,495.27 113.81,495.83 114.35,496.39 114.90,496.95 115.44,497.50 115.99,498.06 116.53,498.62 117.08,499.17 117.63,499.73 118.17,500.28 118.72,500.84 119.27,501.39 119.82,501.94 120.37,502.49 120.92,503.05 121.47,503.60 122.02,504.15 122.57,504.70 123.12,505.25 123.67,505.80 124.23,506.35 124.78,506.90 125.33,507.45 125.89,507.99 126.44,508.54 127.00,509.09 127.55,509.64 128.11,510.18 128.66,510.73 129.22,511.27 129.78,511.82 130.34,512.36 130.89,512.91 131.45,513.45 132.01,513.99 132.57,514.53 133.13,515.08 133.69,515.62 134.25,516.16 134.81,516.70 135.38,517.24 135.94,517.78 136.50,518.32 137.06,518.86 137.63,519.39 138.19,519.93 138.76,520.47 139.32,521.01 139.89,521.54 140.45,522.08 141.02,522.61 141.59,523.15 142.15,523.68 142.72,524.22 143.29,524.75 143.86,525.28 144.43,525.82 145.00,526.35 145.57,526.88 146.14,527.41 146.71,527.94 147.28,528.47 147.85,529.00 148.43,529.53 149.00,530.06 149.57,530.59 150.15,531.12 150.72,531.65 151.30,532.17 151.87,532.70 152.45,533.23 153.02,533.75 153.60,534.28 154.18,534.80 154.75,535.33 155.33,535.85 155.91,536.37 156.49,536.90 157.07,537.42 157.65,537.94 158.23,538.46 158.81,538.98 159.39,539.50 159.97,540.02 160.56,540.54 161.14,541.06 161.72,541.58 162.31,542.10 162.89,542.62 163.47,543.14 164.06,543.65 164.65,544.17 165.23,544.68 165.82,545.20 166.40,545.71 166.99,546.23 167.58,546.74 168.17,547.26 168.76,547.77 169.35,548.28 169.94,548.80 170.53,549.31 171.12,549.82 171.71,550.33 172.30,550.84 172.89,551.35 173.48,551.86 174.08,552.37 174.67,552.88 175.26,553.38 175.86,553.89 176.45,554.40 177.05,554.91 177.64,555.41 178.24,555.92 178.84,556.42 179.43,556.93 180.03,557.43 180.63,557.94 181.23,558.44 181.83,558.94 182.43,559.44 183.03,559.95 183.63,560.45 184.23,560.95 184.83,561.45 185.43,561.95 186.03,562.45 186.64,562.95 187.24,563.45 187.84,563.94 188.45,564.44 189.05,564.94 189.66,565.44 190.26,565.93 190.87,566.43 230.21,605.80 19.90,395.32" fill="#8b0aa5"/>
<polygon points="63.38,438.84 63.85,439.40 64.33,439.95 64.80,440.51 65.28,441.07 65.75,441.63 66.23,442.19 66.70,442.74 67.18,443.30 67.66,443.86 68.13,444.41 68.61,444.97 69.09,445.52 69.56,446.08 70.04,446.63 70.52,447.19 71.00,447.74 71.48,448.29 71.96,448.85 72.44,449.40 72.92,449.95 73.40,450.50 73.88,451.05 74.36,451.61 74.84,452.16 75.33,452.71 75.81,453.26 76.29,453.81 76.77,454.36 77.26,454.91 77.74,455.45 78.23,456.00 78.71,456.55 79.20,457.10 79.68,457.65 80.17,458.19 80.65,458.74 81.14,459.29 81.63,459.83 82.11,460.38 82.60,460.92 83.09,461.47 83.58,462.01 84.07,462.56 84.56,463.10 85.04,463.64 85.53,464.19 86.02,464.73 86.51,465.27 87.01,465.81 87.50,466.35 87.99,466.89 88.48,467.44 88.97,467.98 89.46,468.52 89.96,469.06 90.45,469.60 90.94,470.13 91.44,470.67 91.93,471.21 92.43,471.75 92.92,472.29 93.42,472.82 93.91,473.36 94.41,473.90 94.91,474.43 95.40,474.97 95.90,475.51 96.40,476.04 96.90,476.57 97.39,477.11 97.89,477.64 98.39,478.18 98.89,478.71 99.39,479.24 99.89,479.78 100.39,480.31 100.89,480.84 101.39,481.37 101.89,481.90 102.40,482.43 102.90,482.96 103.40,483.49 103.90,484.02 104.41,484.55 104.91,485.08 105.41,485.61 105.92,486.14 106.42,486.67 106.93,487.19 107.43,487.72 107.94,488.25 108.45,488.78 108.95,489.30 109.46,489.83 109.97,490.35 110.47,490.88 110.98,491.40 111.49,491.93 112.00,492.45 112.51,492.97 113.02,493.50 113.53,494.02 114.04,494.54 114.55,495.07 115.06,495.59 115.57,496.11 116.08,496.63 116.59,497.15 117.10,497.67 117.62,498.19 118.13,498.71 118.64,499.23 119.16,499.75 119.67,500.27 120.18,500.79 120.70,501.30 121.21,501.82 121.73,502.34 122.24,502.86 122.76,503.37 123.28,503.89 123.79,504.40 124.31,504.92 124.83,505.44 125.35,505.95 125.87,506.46 126.38,506.98 126.90,507.49 127.42,508.01 127.94,508.52 128.46,509.03 128.98,509.54 129.50,510.05 130.02,510.57 130.55,511.08 131.07,511.59 131.59,512.10 132.11,512.61 132.63,513.12 133.16,513.63 133.68,514.14 134.21,514.65 134.73,515.15 135.25,515.66 135.78,516.17 136.30,516.68 136.83,517.18 137.36,517.69 137.88,518.20 138.41,518.70 138.94,519.21 139.46,519.71 139.99,520.22 140.52,520.72 141.05,521.23 141.58,521.73 142.11,522.23 142.64,522.74 143.17,523.24 143.70,523.74 144.23,524.24 144.76,524.74 145.29,525.24 145.82,525.75 146.35,526.25 146.89,526.75 147.42,527.25 147.95,527.75 148.49,528.24 149.02,528.74 149.56,529.24 150.09,529.74 150.63,530.24 151.16,530.73 151.70,531.23 152.23,531.73 152.77,532.22 153.31,532.72 153.84,533.21 154.38,533.71 154.92,534.20 155.46,534.70 156.00,535.19 156.53,535.69 157.07,536.18 157.61,536.67 158.15,537.17 158.69,537.66 159.23,538.15 159.78,538.64 160.32,539.13 160.86,539.62 161.40,540.11 161.94,540.60 162.49,541.09 163.03,541.58 163.57,542.07 164.12,542.56 164.66,543.05 165.21,543.54 165.75,544.02 166.30,544.51 166.84,545.00 167.39,545.48 167.93,545.97 168.48,546.46 169.03,546.94 169.58,547.43 170.12,547.91 170.67,548.40 171.22,548.88 171.77,549.36 172.32,549.85 172.87,550.33 173.42,550.81 173.97,551.29 174.52,551.78 175.07,552.26 175.62,552.74 176.18,553.22 176.73,553.70 177.28,554.18 177.83,554.66 178.39,555.14 178.94,555.62 179.49,556.10 180.05,556.57 180.60,557.05 181.16,557.53 181.71,558.01 182.27,558.48 182.83,558.96 183.38,559.44 183.94,559.91 184.50,560.39 185.05,560.86 185.61,561.34 186.17,561.81 186.73,562.28 230.21,605.80 19.90,395.32" fill="#6f00a8"/>
<polygon points="67.52,442.98 67.97,443.49 68.42,444.01 68.87,444.52 69.32,445.03 69.78,445.54 70.23,446.05 70.68,446.57 71.13,447.08 71.58,447.59 72.04,448.10 72.49,448.61 72.94,449.12 73.40,449.63 73.85,450.14 74.30,450.65 74.76,451.16 75.21,451.66 75.67,452.17 76.12,452.68 76.58,453.19 77.03,453.70 77.49,454.20 77.95,454.71 78.40,455.22 78.86,455.73 79.32,456.23 79.77,456.74 80.23,457.24 80.69,457.75 81.15,458.25 81.61,458.76 82.06,459.26 82.52,459.77 82.98,460.27 83.44,460.78 83.90,461.28 84.36,461.78 84.82,462.29 85.28,462.79 85.74,463.29 86.20,463.80 86.66,464.30 87.12,464.80 87.59,465.30 88.05,465.80 88.51,466.30 88.97,466.80 89.44,467.31 89.90,467.81 90.36,468.31 90.83,468.81 91.29,469.31 91.75,469.80 92.22,470.30 92.68,470.80 93.15,471.30 93.61,471.80 94.08,472.30 94.54,472.80 95.01,473.29 95.47,473.79 95.94,474.29 96.41,474.78 96.87,475.28 97.34,475.78 97.81,476.27 98.28,476.77 98.74,477.26 99.21,477.76 99.68,478.25 100.15,478.75 100.62,479.24 101.09,479.74 101.56,480.23 102.03,480.72 102.50,481.22 102.97,481.71 103.44,482.20 103.91,482.70 104.38,483.19 104.85,483.68 105.32,484.17 105.79,484.66 106.27,485.15 106.74,485.65 107.21,486.14 107.68,486.63 108.16,487.12 108.63,487.61 109.10,488.10 109.58,488.59 110.05,489.07 110.53,489.56 111.00,490.05 111.48,490.54 111.95,491.03 112.43,491.52 112.90,492.00 113.38,492.49 113.85,492.98 114.33,493.47 114.81,493.95 115.28,494.44 115.76,494.92 116.24,495.41 116.72,495.90 117.20,496.38 117.67,496.87 118.15,497.35 118.63,497.83 119.11,498.32 119.59,498.80 120.07,499.29 120.55,499.77 121.03,500.25 121.51,500.74 121.99,501.22 122.47,501.70 122.95,502.18 123.43,502.66 123.92,503.15 124.40,503.63 124.88,504.11 125.36,504.59 125.84,505.07 126.33,505.55 126.81,506.03 127.29,506.51 127.78,506.99 128.26,507.47 128.75,507.95 129.23,508.43 129.72,508.90 130.20,509.38 130.69,509.86 131.17,510.34 131.66,510.82 132.14,511.29 132.63,511.77 133.12,512.25 133.60,512.72 134.09,513.20 134.58,513.68 135.07,514.15 135.55,514.63 136.04,515.10 136.53,515.58 137.02,516.05 137.51,516.52 138.00,517.00 138.49,517.47 138.98,517.95 139.47,518.42 139.96,518.89 140.45,519.36 140.94,519.84 141.43,520.31 141.92,520.78 142.41,521.25 142.91,521.72 143.40,522.20 143.89,522.67 144.38,523.14 144.88,523.61 145.37,524.08 145.86,524.55 146.36,525.02 146.85,525.49 147.34,525.96 147.84,526.42 148.33,526.89 148.83,527.36 149.32,527.83 149.82,528.30 150.31,528.76 150.81,529.23 151.31,529.70 151.80,530.17 152.30,530.63 152.80,531.10 153.30,531.56 153.79,532.03 154.29,532.49 154.79,532.96 155.29,533.42 155.79,533.89 156.28,534.35 156.78,534.82 157.28,535.28 157.78,535.75 158.28,536.21 158.78,536.67 159.28,537.13 159.78,537.60 160.29,538.06 160.79,538.52 161.29,538.98 161.79,539.44 162.29,539.91 162.79,540.37 163.30,540.83 163.80,541.29 164.30,541.75 164.81,542.21 165.31,542.67 165.81,543.13 166.32,543.59 166.82,544.04 167.33,544.50 167.83,544.96 168.34,545.42 168.84,545.88 169.35,546.34 169.85,546.79 170.36,547.25 170.87,547.71 171.37,548.16 171.88,548.62 172.39,549.08 172.90,549.53 173.40,549.99 173.91,550.44 174.42,550.90 174.93,551.35 175.44,551.81 175.95,552.26 176.46,552.71 176.97,553.17 177.48,553.62 177.99,554.07 178.50,554.53 179.01,554.98 179.52,555.43 180.03,555.88 180.54,556.34 181.05,556.79 181.56,557.24 182.08,557.69 182.59,558.14 230.21,605.80 19.90,395.32" fill="#5302a3"/>
<polygon points="72.35,447.81 72.77,448.27 73.19,448.73 73.61,449.19 74.03,449.66 74.45,450.12 74.87,450.58 75.29,451.04 75.71,451.50 76.14,451.96 76.56,452.42 76.98,452.88 77.40,453.34 77.82,453.80 78.25,454.26 78.67,454.72 79.09,455.18 79.52,455.64 79.94,456.10 80.36,456.56 80.79,457.02 81.21,457.48 81.63,457.93 82.06,458.39 82.48,458.85 82.91,459.31 83.33,459.77 83.76,460.22 84.18,460.68 84.61,461.14 85.03,461.60 85.46,462.05 85.88,462.51 86.31,462.97 86.74,463.42 87.16,463.88 87.59,464.34 88.02,464.79 88.44,465.25 88.87,465.70 89.30,466.16 89.72,466.61 90.15,467.07 90.58,467.52 91.01,467.98 91.44,468.43 91.86,468.89 92.29,469.34 92.72,469.79 93.15,470.25 93.58,470.70 94.01,471.16 94.44,471.61 94.87,472.06 95.30,472.51 95.73,472.97 96.16,473.42 96.59,473.87 97.02,474.32 97.45,474.78 97.88,475.23 98.31,475.68 98.74,476.13 99.17,476.58 99.60,477.03 100.03,477.49 100.46,477.94 100.90,478.39 101.33,478.84 101.76,479.29 102.19,479.74 102.63,480.19 103.06,480.64 103.49,481.09 103.92,481.54 104.36,481.99 104.79,482.44 105.22,482.88 105.66,483.33 106.09,483.78 106.53,484.23 106.96,484.68 107.40,485.13 107.83,485.57 108.27,486.02 108.70,486.47 109.14,486.92 109.57,487.36 110.01,487.81 110.44,488.26 110.88,488.70 111.31,489.15 111.75,489.60 112.19,490.04 112.62,490.49 113.06,490.93 113.50,491.38 113.93,491.83 114.37,492.27 114.81,492.72 115.25,493.16 115.68,493.61 116.12,494.05 116.56,494.49 117.00,494.94 117.44,495.38 117.88,495.83 118.31,496.27 118.75,496.71 119.19,497.16 119.63,497.60 120.07,498.04 120.51,498.49 120.95,498.93 121.39,499.37 121.83,499.81 122.27,500.26 122.71,500.70 123.15,501.14 123.59,501.58 124.03,502.02 124.48,502.46 124.92,502.91 125.36,503.35 125.80,503.79 126.24,504.23 126.68,504.67 127.13,505.11 127.57,505.55 128.01,505.99 128.45,506.43 128.90,506.87 129.34,507.31 129.78,507.75 130.23,508.18 130.67,508.62 131.12,509.06 131.56,509.50 132.00,509.94 132.45,510.38 132.89,510.82 133.34,511.25 133.78,511.69 134.23,512.13 134.67,512.57 135.12,513.00 135.56,513.44 136.01,513.88 136.46,514.31 136.90,514.75 137.35,515.19 137.79,515.62 138.24,516.06 138.69,516.49 139.13,516.93 139.58,517.36 140.03,517.80 140.48,518.23 140.92,518.67 141.37,519.10 141.82,519.54 142.27,519.97 142.72,520.41 143.17,520.84 143.61,521.27 144.06,521.71 144.51,522.14 144.96,522.57 145.41,523.01 145.86,523.44 146.31,523.87 146.76,524.31 147.21,524.74 147.66,525.17 148.11,525.60 148.56,526.03 149.01,526.47 149.46,526.90 149.91,527.33 150.37,527.76 150.82,528.19 151.27,528.62 151.72,529.05 152.17,529.48 152.63,529.91 153.08,530.34 153.53,530.77 153.98,531.20 154.44,531.63 154.89,532.06 155.34,532.49 155.80,532.92 156.25,533.35 156.70,533.78 157.16,534.21 157.61,534.64 158.07,535.06 158.52,535.49 158.97,535.92 159.43,536.35 159.88,536.77 160.34,537.20 160.80,537.63 161.25,538.06 161.71,538.48 162.16,538.91 162.62,539.34 163.07,539.76 163.53,540.19 163.99,540.61 164.44,541.04 164.90,541.47 165.36,541.89 165.82,542.32 166.27,542.74 166.73,543.17 167.19,543.59 167.65,544.02 168.10,544.44 168.56,544.86 169.02,545.29 169.48,545.71 169.94,546.14 170.40,546.56 170.86,546.98 171.32,547.41 171.78,547.83 172.24,548.25 172.70,548.67 173.16,549.10 173.62,549.52 174.08,549.94 174.54,550.36 175.00,550.78 175.46,551.21 175.92,551.63 176.38,552.05 176.84,552.47 177.30,552.89 177.77,553.31 230.21,605.80 19.90,395.32" fill="#350498"/>
<polygon points="78.55,454.02 78.93,454.42 79.31,454.82 79.68,455.22 80.06,455.62 80.44,456.02 80.82,456.42 81.20,456.82 81.57,457.22 81.95,457.62 82.33,458.02 82.71,458.42 83.09,458.82 83.47,459.22 83.85,459.62 84.23,460.02 84.60,460.42 84.98,460.82 85.36,461.22 85.74,461.62 86.12,462.02 86.50,462.42 86.88,462.82 87.26,463.21 87.64,463.61 88.02,464.01 88.40,464.41 88.78,464.81 89.16,465.21 89.54,465.61 89.92,466.00 90.30,466.40 90.68,466.80 91.06,467.20 91.45,467.60 91.83,467.99 92.21,468.39 92.59,468.79 92.97,469.19 93.35,469.58 93.73,469.98 94.11,470.38 94.50,470.77 94.88,471.17 95.26,471.57 95.64,471.97 96.02,472.36 96.41,472.76 96.79,473.16 97.17,473.55 97.55,473.95 97.93,474.34 98.32,474.74 98.70,475.14 99.08,475.53 99.47,475.93 99.85,476.32 100.23,476.72 100.62,477.11 101.00,477.51 101.38,477.90 101.77,478.30 102.15,478.70 102.53,479.09 102.92,479.48 103.30,479.88 103.68,480.27 104.07,480.67 104.45,481.06 104.84,481.46 105.22,481.85 105.61,482.25 105.99,482.64 106.37,483.03 106.76,483.43 107.14,483.82 107.53,484.22 107.91,484.61 108.30,485.00 108.68,485.40 109.07,485.79 109.45,486.18 109.84,486.58 110.23,486.97 110.61,487.36 111.00,487.76 111.38,488.15 111.77,488.54 112.16,488.93 112.54,489.33 112.93,489.72 113.31,490.11 113.70,490.50 114.09,490.89 114.47,491.29 114.86,491.68 115.25,492.07 115.63,492.46 116.02,492.85 116.41,493.25 116.80,493.64 117.18,494.03 117.57,494.42 117.96,494.81 118.35,495.20 118.73,495.59 119.12,495.98 119.51,496.37 119.90,496.76 120.29,497.16 120.67,497.55 121.06,497.94 121.45,498.33 121.84,498.72 122.23,499.11 122.62,499.50 123.00,499.89 123.39,500.28 123.78,500.67 124.17,501.06 124.56,501.44 124.95,501.83 125.34,502.22 125.73,502.61 126.12,503.00 126.51,503.39 126.90,503.78 127.29,504.17 127.68,504.56 128.07,504.95 128.46,505.33 128.85,505.72 129.24,506.11 129.63,506.50 130.02,506.89 130.41,507.28 130.80,507.66 131.19,508.05 131.58,508.44 131.97,508.83 132.36,509.21 132.76,509.60 133.15,509.99 133.54,510.38 133.93,510.76 134.32,511.15 134.71,511.54 135.10,511.92 135.50,512.31 135.89,512.70 136.28,513.08 136.67,513.47 137.06,513.86 137.46,514.24 137.85,514.63 138.24,515.02 138.63,515.40 139.03,515.79 139.42,516.17 139.81,516.56 140.21,516.94 140.60,517.33 140.99,517.72 141.39,518.10 141.78,518.49 142.17,518.87 142.57,519.26 142.96,519.64 143.35,520.03 143.75,520.41 144.14,520.80 144.54,521.18 144.93,521.56 145.32,521.95 145.72,522.33 146.11,522.72 146.51,523.10 146.90,523.49 147.30,523.87 147.69,524.25 148.09,524.64 148.48,525.02 148.88,525.40 149.27,525.79 149.67,526.17 150.06,526.55 150.46,526.94 150.85,527.32 151.25,527.70 151.65,528.09 152.04,528.47 152.44,528.85 152.83,529.23 153.23,529.62 153.63,530.00 154.02,530.38 154.42,530.76 154.82,531.14 155.21,531.53 155.61,531.91 156.01,532.29 156.40,532.67 156.80,533.05 157.20,533.43 157.60,533.82 157.99,534.20 158.39,534.58 158.79,534.96 159.19,535.34 159.58,535.72 159.98,536.10 160.38,536.48 160.78,536.86 161.18,537.24 161.57,537.62 161.97,538.00 162.37,538.38 162.77,538.76 163.17,539.14 163.57,539.52 163.97,539.90 164.36,540.28 164.76,540.66 165.16,541.04 165.56,541.42 165.96,541.80 166.36,542.18 166.76,542.56 167.16,542.94 167.56,543.32 167.96,543.70 168.36,544.08 168.76,544.45 169.16,544.83 169.56,545.21 169.96,545.59 170.36,545.97 170.76,546.35 171.16,546.72 171.56,547.10 230.21,605.80 19.90,395.32" fill="#0d0887"/>
<line x1="19.90" y1="395.32" x2="230.21" y2="605.80" stroke="#f6bf3b" stroke-width="1.15" stroke-opacity="0.95" transform="translate(0.25 -0.25)"/>
</g>
<path d="M268.3 357.2V605.8" stroke="#9c9c9c" stroke-width="1.15" fill="none"/>
<path d="M15.399999999999999 605.8H268.3" stroke="#9c9c9c" stroke-width="1.15" fill="none"/>
<path d="M268.3 605.80h4M19.90 605.8v4M268.3 591.99h4M33.70 605.8v4M268.3 578.18h4M47.50 605.8v4M268.3 564.37h4M61.30 605.8v4M268.3 550.56h4M75.10 605.8v4M268.3 536.74h4M88.90 605.8v4M268.3 522.93h4M102.70 605.8v4M268.3 509.12h4M116.50 605.8v4M268.3 495.31h4M130.30 605.8v4M268.3 481.50h4M144.10 605.8v4M268.3 467.69h4M157.90 605.8v4M268.3 453.88h4M171.70 605.8v4M268.3 440.07h4M185.50 605.8v4M268.3 426.26h4M199.30 605.8v4M268.3 412.44h4M213.10 605.8v4M268.3 398.63h4M226.90 605.8v4M268.3 384.82h4M240.70 605.8v4M268.3 371.01h4M254.50 605.8v4M268.3 357.20h4M268.30 605.8v4" stroke="#9c9c9c" stroke-width="1.15" fill="none"/>
<path d="M19.9 605.8V357.2H268.3" stroke="#7f7f7f" stroke-width="1.4" fill="none"/>
<text x="275.3" y="610.40" class="t r">0</text>
<text x="275.3" y="596.64" class="t r">100</text>
<text x="275.3" y="582.89" class="t r">200</text>
<text x="275.3" y="569.13" class="t r">300</text>
<text x="275.3" y="555.38" class="t r">400</text>
<text x="275.3" y="541.62" class="t r">500</text>
<text x="275.3" y="527.87" class="t r">600</text>
<text x="275.3" y="514.11" class="t r">700</text>
<text x="275.3" y="500.36" class="t r">800</text>
<text x="275.3" y="486.60" class="t r">900</text>
<text x="275.3" y="472.84" class="t r">1000</text>
<text x="275.3" y="459.09" class="t r">1100</text>
<text x="275.3" y="445.33" class="t r">1200</text>
<text x="275.3" y="431.58" class="t r">1300</text>
<text x="275.3" y="417.82" class="t r">1400</text>
<text x="275.3" y="404.07" class="t r">1500</text>
<text x="275.3" y="390.31" class="t r">1600</text>
<text x="275.3" y="376.56" class="t r">1700</text>
<text x="275.3" y="362.80" class="t r">1800</text>
<text transform="translate(23.80 613.1) rotate(-90)" text-anchor="end" class="t">0</text>
<text transform="translate(37.60 613.1) rotate(-90)" text-anchor="end" class="t">100</text>
<text transform="translate(51.40 613.1) rotate(-90)" text-anchor="end" class="t">200</text>
<text transform="translate(65.20 613.1) rotate(-90)" text-anchor="end" class="t">300</text>
<text transform="translate(79.00 613.1) rotate(-90)" text-anchor="end" class="t">400</text>
<text transform="translate(92.80 613.1) rotate(-90)" text-anchor="end" class="t">500</text>
<text transform="translate(106.60 613.1) rotate(-90)" text-anchor="end" class="t">600</text>
<text transform="translate(120.40 613.1) rotate(-90)" text-anchor="end" class="t">700</text>
<text transform="translate(134.20 613.1) rotate(-90)" text-anchor="end" class="t">800</text>
<text transform="translate(148.00 613.1) rotate(-90)" text-anchor="end" class="t">900</text>
<text transform="translate(161.80 613.1) rotate(-90)" text-anchor="end" class="t">1 000</text>
<text transform="translate(175.60 613.1) rotate(-90)" text-anchor="end" class="t">1 100</text>
<text transform="translate(189.40 613.1) rotate(-90)" text-anchor="end" class="t">1 200</text>
<text transform="translate(203.20 613.1) rotate(-90)" text-anchor="end" class="t">1 300</text>
<text transform="translate(217.00 613.1) rotate(-90)" text-anchor="end" class="t">1 400</text>
<text transform="translate(230.80 613.1) rotate(-90)" text-anchor="end" class="t">1 500</text>
<text transform="translate(244.60 613.1) rotate(-90)" text-anchor="end" class="t">1 600</text>
<text transform="translate(258.40 613.1) rotate(-90)" text-anchor="end" class="t">1 700</text>
<text transform="translate(272.20 613.1) rotate(-90)" text-anchor="end" class="t">1 800</text>
<text x="142.1" y="654.3" text-anchor="middle" class="a" textLength="146.6" lengthAdjust="spacingAndGlyphs">TF INTENSITY DIR. A [VEH/H]</text>
<text transform="translate(316.9 481.8) rotate(-90)" text-anchor="middle" class="a yb" textLength="144.5" lengthAdjust="spacingAndGlyphs">TF INTENSITY DIR. B [VEH/H]</text>
<text x="168.8" y="674.5" text-anchor="middle" class="c">c)</text>
<rect x="350.5" y="346.7" width="332.5" height="312.8" fill="#fff" stroke="#bdbdbd" stroke-width="1"/>
<clipPath id="cp3"><rect x="367.9" y="357.2" width="248.39999999999998" height="248.59999999999997"/></clipPath>
<g clip-path="url(#cp3)">
<polygon points="367.90,605.80 526.60,605.80 367.90,446.97" fill="#f0f921"/>
<polygon points="367.90,464.94 368.07,465.95 368.25,466.95 368.43,467.95 368.61,468.94 368.80,469.93 368.99,470.92 369.19,471.89 369.40,472.87 369.61,473.84 369.82,474.80 370.04,475.76 370.27,476.72 370.50,477.67 370.73,478.61 370.97,479.55 371.21,480.49 371.46,481.42 371.71,482.35 371.96,483.27 372.22,484.19 372.49,485.10 372.76,486.01 373.03,486.92 373.30,487.82 373.59,488.72 373.87,489.61 374.16,490.50 374.45,491.39 374.75,492.27 375.05,493.14 375.36,494.02 375.67,494.89 375.98,495.75 376.30,496.61 376.62,497.47 376.94,498.33 377.27,499.18 377.60,500.02 377.94,500.87 378.28,501.71 378.62,502.54 378.97,503.37 379.32,504.20 379.67,505.03 380.03,505.85 380.39,506.66 380.75,507.48 381.12,508.29 381.49,509.09 381.87,509.90 382.25,510.70 382.63,511.49 383.01,512.29 383.40,513.08 383.79,513.86 384.19,514.65 384.59,515.43 384.99,516.20 385.40,516.98 385.80,517.75 386.22,518.51 386.63,519.28 387.05,520.04 387.47,520.79 387.90,521.55 388.32,522.30 388.76,523.04 389.19,523.79 389.63,524.53 390.07,525.27 390.51,526.00 390.96,526.73 391.41,527.46 391.86,528.18 392.32,528.91 392.78,529.62 393.24,530.34 393.71,531.05 394.18,531.76 394.65,532.47 395.12,533.17 395.60,533.87 396.08,534.57 396.57,535.27 397.05,535.96 397.54,536.65 398.04,537.33 398.53,538.01 399.03,538.69 399.53,539.37 400.04,540.04 400.54,540.71 401.05,541.38 401.57,542.05 402.09,542.71 402.60,543.37 403.13,544.02 403.65,544.68 404.18,545.33 404.71,545.97 405.25,546.62 405.78,547.26 406.32,547.90 406.87,548.53 407.41,549.17 407.96,549.79 408.51,550.42 409.07,551.05 409.62,551.67 410.18,552.28 410.75,552.90 411.31,553.51 411.88,554.12 412.45,554.73 413.03,555.33 413.60,555.93 414.18,556.53 414.77,557.13 415.35,557.72 415.94,558.31 416.53,558.89 417.13,559.48 417.73,560.06 418.33,560.64 418.93,561.21 419.54,561.78 420.15,562.35 420.76,562.92 421.37,563.48 421.99,564.04 422.61,564.60 423.23,565.16 423.86,565.71 424.49,566.26 425.12,566.80 425.76,567.35 426.39,567.89 427.04,568.42 427.68,568.96 428.33,569.49 428.97,570.02 429.63,570.54 430.28,571.07 430.94,571.59 431.60,572.10 432.27,572.62 432.93,573.13 433.60,573.64 434.28,574.14 434.95,574.65 435.63,575.14 436.31,575.64 437.00,576.13 437.69,576.62 438.38,577.11 439.07,577.60 439.77,578.08 440.47,578.56 441.17,579.03 441.88,579.50 442.59,579.97 443.30,580.44 444.01,580.90 444.73,581.36 445.45,581.82 446.18,582.27 446.91,582.72 447.64,583.17 448.37,583.61 449.11,584.05 449.85,584.49 450.59,584.93 451.34,585.36 452.09,585.79 452.84,586.21 453.60,586.63 454.35,587.05 455.12,587.47 455.88,587.88 456.65,588.29 457.42,588.70 458.20,589.10 458.98,589.50 459.76,589.89 460.55,590.29 461.34,590.67 462.13,591.06 462.93,591.44 463.72,591.82 464.53,592.20 465.33,592.57 466.14,592.94 466.96,593.30 467.77,593.66 468.59,594.02 469.42,594.37 470.25,594.73 471.08,595.07 471.91,595.42 472.75,595.76 473.59,596.09 474.44,596.42 475.29,596.75 476.14,597.08 477.00,597.40 477.86,597.71 478.72,598.03 479.59,598.34 480.47,598.64 481.34,598.94 482.22,599.24 483.11,599.53 484.00,599.82 484.89,600.11 485.78,600.39 486.69,600.67 487.59,600.94 488.50,601.21 489.41,601.47 490.33,601.73 491.25,601.99 492.18,602.24 493.11,602.49 494.05,602.73 494.99,602.97 495.93,603.20 496.88,603.43 497.83,603.65 498.79,603.87 499.76,604.09 500.72,604.30 501.70,604.50 502.68,604.70 503.66,604.90 504.65,605.09 505.64,605.27 506.64,605.45 507.64,605.63 508.65,605.80 526.60,605.80 367.90,446.97" fill="#fada24"/>
<polygon points="371.77,450.85 372.08,451.79 372.40,452.74 372.72,453.68 373.05,454.62 373.37,455.56 373.71,456.49 374.04,457.42 374.38,458.35 374.72,459.27 375.06,460.19 375.41,461.10 375.76,462.02 376.12,462.93 376.47,463.84 376.83,464.74 377.20,465.64 377.56,466.54 377.93,467.43 378.30,468.33 378.68,469.22 379.06,470.10 379.44,470.98 379.82,471.86 380.21,472.74 380.60,473.62 380.99,474.49 381.38,475.36 381.78,476.22 382.18,477.08 382.59,477.94 383.00,478.80 383.41,479.66 383.82,480.51 384.23,481.35 384.65,482.20 385.07,483.04 385.50,483.88 385.92,484.72 386.35,485.56 386.79,486.39 387.22,487.22 387.66,488.04 388.10,488.87 388.54,489.69 388.99,490.51 389.44,491.32 389.89,492.13 390.34,492.94 390.80,493.75 391.26,494.56 391.72,495.36 392.18,496.16 392.65,496.95 393.12,497.75 393.59,498.54 394.07,499.33 394.54,500.12 395.02,500.90 395.51,501.68 395.99,502.46 396.48,503.24 396.97,504.01 397.46,504.78 397.96,505.55 398.45,506.32 398.96,507.08 399.46,507.84 399.96,508.60 400.47,509.35 400.98,510.11 401.50,510.86 402.01,511.61 402.53,512.35 403.05,513.10 403.57,513.84 404.10,514.57 404.63,515.31 405.16,516.04 405.69,516.78 406.23,517.50 406.76,518.23 407.30,518.95 407.85,519.67 408.39,520.39 408.94,521.11 409.49,521.82 410.04,522.53 410.60,523.24 411.15,523.95 411.71,524.65 412.28,525.35 412.84,526.05 413.41,526.75 413.98,527.45 414.55,528.14 415.12,528.83 415.70,529.51 416.28,530.20 416.86,530.88 417.45,531.56 418.03,532.24 418.62,532.91 419.21,533.59 419.81,534.26 420.40,534.92 421.00,535.59 421.60,536.25 422.20,536.91 422.81,537.57 423.42,538.23 424.03,538.88 424.64,539.53 425.25,540.18 425.87,540.83 426.49,541.47 427.11,542.11 427.74,542.75 428.37,543.39 428.99,544.02 429.63,544.66 430.26,545.29 430.90,545.91 431.54,546.54 432.18,547.16 432.82,547.78 433.47,548.40 434.11,549.01 434.76,549.63 435.42,550.24 436.07,550.85 436.73,551.45 437.39,552.06 438.05,552.66 438.72,553.26 439.39,553.85 440.06,554.45 440.73,555.04 441.40,555.63 442.08,556.21 442.76,556.80 443.44,557.38 444.13,557.96 444.81,558.54 445.50,559.11 446.19,559.68 446.89,560.25 447.58,560.82 448.28,561.39 448.98,561.95 449.68,562.51 450.39,563.07 451.10,563.62 451.81,564.18 452.52,564.73 453.24,565.28 453.96,565.82 454.68,566.36 455.40,566.91 456.13,567.44 456.85,567.98 457.58,568.51 458.32,569.04 459.05,569.57 459.79,570.10 460.53,570.62 461.27,571.14 462.02,571.66 462.77,572.18 463.52,572.69 464.27,573.20 465.02,573.71 465.78,574.22 466.54,574.72 467.30,575.22 468.07,575.72 468.84,576.21 469.61,576.71 470.38,577.20 471.16,577.69 471.93,578.17 472.72,578.66 473.50,579.14 474.28,579.61 475.07,580.09 475.86,580.56 476.66,581.03 477.45,581.50 478.25,581.96 479.05,582.43 479.86,582.89 480.67,583.34 481.47,583.80 482.29,584.25 483.10,584.70 483.92,585.14 484.74,585.59 485.56,586.03 486.39,586.46 487.22,586.90 488.05,587.33 488.88,587.76 489.72,588.19 490.56,588.61 491.40,589.03 492.25,589.45 493.09,589.87 493.94,590.28 494.80,590.69 495.65,591.10 496.51,591.50 497.37,591.91 498.24,592.30 499.11,592.70 499.98,593.09 500.85,593.48 501.73,593.87 502.61,594.25 503.49,594.64 504.37,595.01 505.26,595.39 506.15,595.76 507.05,596.13 507.95,596.50 508.85,596.86 509.75,597.22 510.66,597.58 511.57,597.93 512.48,598.28 513.39,598.63 514.31,598.97 515.24,599.32 516.16,599.65 517.09,599.99 518.02,600.32 518.96,600.65 519.89,600.97 520.84,601.30 521.78,601.62 522.73,601.93 526.60,605.80 367.90,446.97" fill="#febd2a"/>
<polygon points="377.56,456.64 377.96,457.41 378.35,458.18 378.75,458.95 379.15,459.72 379.55,460.49 379.95,461.25 380.36,462.01 380.77,462.77 381.17,463.53 381.58,464.29 382.00,465.04 382.41,465.80 382.82,466.55 383.24,467.30 383.66,468.05 384.08,468.79 384.50,469.54 384.93,470.28 385.35,471.02 385.78,471.76 386.21,472.50 386.64,473.24 387.07,473.97 387.50,474.71 387.94,475.44 388.38,476.17 388.81,476.90 389.25,477.62 389.70,478.35 390.14,479.07 390.59,479.79 391.03,480.51 391.48,481.23 391.93,481.95 392.38,482.66 392.84,483.38 393.29,484.09 393.75,484.80 394.21,485.51 394.67,486.21 395.13,486.92 395.59,487.62 396.05,488.33 396.52,489.03 396.99,489.72 397.46,490.42 397.93,491.12 398.40,491.81 398.88,492.51 399.35,493.20 399.83,493.89 400.31,494.57 400.79,495.26 401.27,495.94 401.75,496.63 402.24,497.31 402.73,497.99 403.22,498.67 403.71,499.34 404.20,500.02 404.69,500.69 405.18,501.37 405.68,502.04 406.18,502.71 406.68,503.37 407.18,504.04 407.68,504.70 408.19,505.37 408.69,506.03 409.20,506.69 409.71,507.35 410.22,508.00 410.73,508.66 411.24,509.31 411.76,509.96 412.27,510.61 412.79,511.26 413.31,511.91 413.83,512.56 414.35,513.20 414.88,513.84 415.40,514.48 415.93,515.12 416.46,515.76 416.99,516.40 417.52,517.03 418.05,517.67 418.59,518.30 419.13,518.93 419.66,519.56 420.20,520.19 420.74,520.81 421.29,521.44 421.83,522.06 422.38,522.68 422.92,523.30 423.47,523.92 424.02,524.54 424.57,525.15 425.13,525.77 425.68,526.38 426.24,526.99 426.79,527.60 427.35,528.21 427.91,528.81 428.47,529.42 429.04,530.02 429.60,530.62 430.17,531.22 430.74,531.82 431.31,532.42 431.88,533.02 432.45,533.61 433.03,534.20 433.60,534.79 434.18,535.38 434.76,535.97 435.34,536.56 435.92,537.14 436.50,537.73 437.09,538.31 437.67,538.89 438.26,539.47 438.85,540.05 439.44,540.62 440.03,541.20 440.63,541.77 441.22,542.34 441.82,542.91 442.42,543.48 443.02,544.05 443.62,544.61 444.22,545.18 444.82,545.74 445.43,546.30 446.04,546.86 446.65,547.42 447.26,547.97 447.87,548.53 448.48,549.08 449.10,549.63 449.71,550.18 450.33,550.73 450.95,551.28 451.57,551.83 452.19,552.37 452.82,552.91 453.44,553.45 454.07,553.99 454.70,554.53 455.33,555.07 455.96,555.60 456.59,556.14 457.23,556.67 457.87,557.20 458.50,557.73 459.14,558.26 459.78,558.78 460.43,559.31 461.07,559.83 461.71,560.35 462.36,560.87 463.01,561.39 463.66,561.91 464.31,562.42 464.96,562.94 465.62,563.45 466.27,563.96 466.93,564.47 467.59,564.98 468.25,565.48 468.91,565.99 469.58,566.49 470.24,566.99 470.91,567.49 471.58,567.99 472.25,568.49 472.92,568.98 473.59,569.47 474.27,569.97 474.95,570.46 475.62,570.94 476.30,571.43 476.98,571.92 477.67,572.40 478.35,572.88 479.04,573.37 479.72,573.84 480.41,574.32 481.10,574.80 481.80,575.27 482.49,575.75 483.18,576.22 483.88,576.69 484.58,577.16 485.28,577.62 485.98,578.09 486.69,578.55 487.39,579.01 488.10,579.47 488.80,579.93 489.51,580.39 490.23,580.84 490.94,581.30 491.65,581.75 492.37,582.20 493.09,582.65 493.81,583.10 494.53,583.54 495.25,583.99 495.98,584.43 496.70,584.87 497.43,585.31 498.16,585.75 498.89,586.18 499.62,586.61 500.36,587.05 501.09,587.48 501.83,587.91 502.57,588.33 503.31,588.76 504.05,589.18 504.80,589.61 505.54,590.03 506.29,590.45 507.04,590.86 507.79,591.28 508.54,591.69 509.30,592.10 510.06,592.52 510.81,592.92 511.57,593.33 512.33,593.74 513.10,594.14 513.86,594.54 514.63,594.94 515.40,595.34 516.17,595.74 516.94,596.13 526.60,605.80 367.90,446.97" fill="#fba238"/>
<polygon points="382.67,461.75 383.09,462.42 383.50,463.08 383.92,463.74 384.34,464.40 384.76,465.06 385.19,465.72 385.61,466.38 386.03,467.04 386.46,467.69 386.89,468.35 387.31,469.00 387.74,469.65 388.17,470.31 388.60,470.96 389.04,471.61 389.47,472.25 389.90,472.90 390.34,473.55 390.78,474.19 391.21,474.84 391.65,475.48 392.09,476.12 392.53,476.76 392.97,477.40 393.42,478.04 393.86,478.68 394.31,479.31 394.75,479.95 395.20,480.58 395.65,481.22 396.10,481.85 396.55,482.48 397.00,483.11 397.45,483.74 397.90,484.37 398.36,484.99 398.81,485.62 399.27,486.24 399.73,486.87 400.19,487.49 400.65,488.11 401.11,488.73 401.57,489.35 402.03,489.97 402.49,490.59 402.96,491.21 403.43,491.82 403.89,492.44 404.36,493.05 404.83,493.66 405.30,494.27 405.77,494.88 406.24,495.49 406.72,496.10 407.19,496.71 407.67,497.31 408.14,497.92 408.62,498.52 409.10,499.13 409.58,499.73 410.06,500.33 410.54,500.93 411.02,501.53 411.50,502.13 411.99,502.72 412.47,503.32 412.96,503.91 413.45,504.51 413.94,505.10 414.43,505.69 414.92,506.28 415.41,506.87 415.90,507.46 416.40,508.05 416.89,508.63 417.39,509.22 417.88,509.80 418.38,510.39 418.88,510.97 419.38,511.55 419.88,512.13 420.38,512.71 420.88,513.29 421.39,513.87 421.89,514.44 422.40,515.02 422.91,515.59 423.41,516.17 423.92,516.74 424.43,517.31 424.94,517.88 425.46,518.45 425.97,519.02 426.48,519.58 427.00,520.15 427.52,520.72 428.03,521.28 428.55,521.84 429.07,522.41 429.59,522.97 430.11,523.53 430.63,524.09 431.16,524.64 431.68,525.20 432.21,525.76 432.73,526.31 433.26,526.87 433.79,527.42 434.32,527.97 434.85,528.52 435.38,529.07 435.91,529.62 436.44,530.17 436.98,530.72 437.51,531.26 438.05,531.81 438.59,532.35 439.13,532.89 439.67,533.44 440.21,533.98 440.75,534.52 441.29,535.05 441.83,535.59 442.38,536.13 442.92,536.67 443.47,537.20 444.02,537.73 444.57,538.27 445.12,538.80 445.67,539.33 446.22,539.86 446.77,540.39 447.32,540.92 447.88,541.44 448.43,541.97 448.99,542.49 449.55,543.02 450.11,543.54 450.67,544.06 451.23,544.58 451.79,545.10 452.35,545.62 452.92,546.14 453.48,546.65 454.05,547.17 454.61,547.68 455.18,548.20 455.75,548.71 456.32,549.22 456.89,549.73 457.46,550.24 458.03,550.75 458.61,551.26 459.18,551.76 459.76,552.27 460.34,552.77 460.91,553.28 461.49,553.78 462.07,554.28 462.65,554.78 463.24,555.28 463.82,555.78 464.40,556.27 464.99,556.77 465.57,557.27 466.16,557.76 466.75,558.25 467.34,558.74 467.93,559.24 468.52,559.73 469.11,560.22 469.71,560.70 470.30,561.19 470.90,561.68 471.49,562.16 472.09,562.64 472.69,563.13 473.29,563.61 473.89,564.09 474.49,564.57 475.09,565.05 475.69,565.53 476.30,566.00 476.90,566.48 477.51,566.95 478.12,567.43 478.73,567.90 479.34,568.37 479.95,568.84 480.56,569.31 481.17,569.78 481.79,570.25 482.40,570.71 483.02,571.18 483.64,571.64 484.25,572.11 484.87,572.57 485.49,573.03 486.11,573.49 486.74,573.95 487.36,574.41 487.98,574.86 488.61,575.32 489.24,575.77 489.86,576.23 490.49,576.68 491.12,577.13 491.75,577.58 492.38,578.03 493.02,578.48 493.65,578.93 494.28,579.37 494.92,579.82 495.56,580.26 496.20,580.71 496.83,581.15 497.48,581.59 498.12,582.03 498.76,582.47 499.40,582.91 500.05,583.34 500.69,583.78 501.34,584.21 501.99,584.65 502.63,585.08 503.28,585.51 503.94,585.94 504.59,586.37 505.24,586.80 505.89,587.22 506.55,587.65 507.21,588.08 507.86,588.50 508.52,588.92 509.18,589.34 509.84,589.76 510.50,590.18 511.17,590.60 511.83,591.02 526.60,605.80 367.90,446.97" fill="#f48849"/>
<polygon points="387.08,466.17 387.49,466.77 387.90,467.36 388.32,467.96 388.73,468.55 389.14,469.15 389.56,469.74 389.97,470.33 390.39,470.92 390.81,471.51 391.23,472.10 391.64,472.69 392.06,473.28 392.48,473.87 392.91,474.45 393.33,475.04 393.75,475.62 394.17,476.21 394.60,476.79 395.02,477.37 395.45,477.95 395.88,478.53 396.30,479.11 396.73,479.69 397.16,480.27 397.59,480.85 398.02,481.43 398.45,482.00 398.89,482.58 399.32,483.15 399.75,483.72 400.19,484.30 400.62,484.87 401.06,485.44 401.50,486.01 401.93,486.58 402.37,487.15 402.81,487.72 403.25,488.29 403.69,488.85 404.13,489.42 404.58,489.98 405.02,490.55 405.46,491.11 405.91,491.67 406.35,492.23 406.80,492.80 407.25,493.36 407.70,493.91 408.14,494.47 408.59,495.03 409.04,495.59 409.50,496.15 409.95,496.70 410.40,497.26 410.85,497.81 411.31,498.36 411.76,498.92 412.22,499.47 412.67,500.02 413.13,500.57 413.59,501.12 414.05,501.67 414.51,502.21 414.97,502.76 415.43,503.31 415.89,503.85 416.35,504.40 416.82,504.94 417.28,505.48 417.75,506.03 418.21,506.57 418.68,507.11 419.15,507.65 419.62,508.19 420.08,508.73 420.55,509.26 421.02,509.80 421.50,510.34 421.97,510.87 422.44,511.41 422.91,511.94 423.39,512.47 423.86,513.01 424.34,513.54 424.82,514.07 425.29,514.60 425.77,515.13 426.25,515.66 426.73,516.18 427.21,516.71 427.69,517.24 428.17,517.76 428.66,518.29 429.14,518.81 429.62,519.33 430.11,519.86 430.60,520.38 431.08,520.90 431.57,521.42 432.06,521.94 432.55,522.46 433.04,522.97 433.53,523.49 434.02,524.01 434.51,524.52 435.00,525.04 435.50,525.55 435.99,526.07 436.49,526.58 436.98,527.09 437.48,527.60 437.98,528.11 438.47,528.62 438.97,529.13 439.47,529.64 439.97,530.14 440.47,530.65 440.98,531.15 441.48,531.66 441.98,532.16 442.49,532.67 442.99,533.17 443.50,533.67 444.00,534.17 444.51,534.67 445.02,535.17 445.53,535.67 446.04,536.17 446.55,536.66 447.06,537.16 447.57,537.65 448.08,538.15 448.60,538.64 449.11,539.14 449.63,539.63 450.14,540.12 450.66,540.61 451.18,541.10 451.69,541.59 452.21,542.08 452.73,542.57 453.25,543.05 453.77,543.54 454.30,544.03 454.82,544.51 455.34,544.99 455.87,545.48 456.39,545.96 456.92,546.44 457.44,546.92 457.97,547.40 458.50,547.88 459.03,548.36 459.56,548.84 460.09,549.32 460.62,549.79 461.15,550.27 461.68,550.74 462.22,551.22 462.75,551.69 463.29,552.16 463.82,552.63 464.36,553.10 464.90,553.57 465.43,554.04 465.97,554.51 466.51,554.98 467.05,555.45 467.59,555.91 468.14,556.38 468.68,556.84 469.22,557.31 469.77,557.77 470.31,558.23 470.86,558.69 471.40,559.15 471.95,559.61 472.50,560.07 473.05,560.53 473.60,560.99 474.15,561.45 474.70,561.90 475.25,562.36 475.80,562.81 476.36,563.27 476.91,563.72 477.47,564.17 478.02,564.62 478.58,565.07 479.14,565.52 479.70,565.97 480.25,566.42 480.81,566.87 481.37,567.31 481.94,567.76 482.50,568.21 483.06,568.65 483.62,569.09 484.19,569.54 484.75,569.98 485.32,570.42 485.89,570.86 486.45,571.30 487.02,571.74 487.59,572.18 488.16,572.61 488.73,573.05 489.30,573.49 489.88,573.92 490.45,574.36 491.02,574.79 491.60,575.22 492.17,575.65 492.75,576.09 493.33,576.52 493.91,576.94 494.48,577.37 495.06,577.80 495.64,578.23 496.23,578.65 496.81,579.08 497.39,579.50 497.97,579.93 498.56,580.35 499.14,580.77 499.73,581.20 500.31,581.62 500.90,582.04 501.49,582.46 502.08,582.87 502.67,583.29 503.26,583.71 503.85,584.12 504.44,584.54 505.04,584.95 505.63,585.37 506.23,585.78 506.82,586.19 507.42,586.60 526.60,605.80 367.90,446.97" fill="#e97158"/>
<polygon points="390.40,469.49 390.80,470.03 391.20,470.58 391.61,471.13 392.02,471.67 392.42,472.22 392.83,472.76 393.24,473.31 393.65,473.85 394.05,474.40 394.46,474.94 394.87,475.48 395.28,476.02 395.70,476.56 396.11,477.10 396.52,477.64 396.93,478.18 397.35,478.72 397.76,479.25 398.18,479.79 398.59,480.33 399.01,480.86 399.43,481.40 399.84,481.93 400.26,482.47 400.68,483.00 401.10,483.53 401.52,484.06 401.94,484.60 402.36,485.13 402.78,485.66 403.21,486.19 403.63,486.72 404.05,487.24 404.48,487.77 404.90,488.30 405.33,488.82 405.75,489.35 406.18,489.88 406.61,490.40 407.04,490.92 407.46,491.45 407.89,491.97 408.32,492.49 408.75,493.02 409.18,493.54 409.62,494.06 410.05,494.58 410.48,495.10 410.91,495.61 411.35,496.13 411.78,496.65 412.22,497.17 412.65,497.68 413.09,498.20 413.53,498.71 413.96,499.23 414.40,499.74 414.84,500.26 415.28,500.77 415.72,501.28 416.16,501.79 416.60,502.30 417.04,502.81 417.49,503.32 417.93,503.83 418.37,504.34 418.82,504.85 419.26,505.35 419.71,505.86 420.15,506.37 420.60,506.87 421.05,507.38 421.49,507.88 421.94,508.39 422.39,508.89 422.84,509.39 423.29,509.89 423.74,510.39 424.19,510.89 424.64,511.39 425.10,511.89 425.55,512.39 426.00,512.89 426.46,513.39 426.91,513.89 427.37,514.38 427.82,514.88 428.28,515.37 428.74,515.87 429.20,516.36 429.65,516.86 430.11,517.35 430.57,517.84 431.03,518.33 431.49,518.82 431.96,519.31 432.42,519.80 432.88,520.29 433.34,520.78 433.81,521.27 434.27,521.76 434.74,522.24 435.20,522.73 435.67,523.22 436.14,523.70 436.60,524.19 437.07,524.67 437.54,525.15 438.01,525.64 438.48,526.12 438.95,526.60 439.42,527.08 439.89,527.56 440.36,528.04 440.84,528.52 441.31,529.00 441.78,529.48 442.26,529.95 442.73,530.43 443.21,530.91 443.69,531.38 444.16,531.86 444.64,532.33 445.12,532.80 445.60,533.28 446.08,533.75 446.56,534.22 447.04,534.69 447.52,535.16 448.00,535.63 448.48,536.10 448.97,536.57 449.45,537.04 449.93,537.51 450.42,537.98 450.90,538.44 451.39,538.91 451.88,539.37 452.36,539.84 452.85,540.30 453.34,540.77 453.83,541.23 454.32,541.69 454.81,542.15 455.30,542.62 455.79,543.08 456.28,543.54 456.77,544.00 457.27,544.45 457.76,544.91 458.25,545.37 458.75,545.83 459.24,546.28 459.74,546.74 460.24,547.20 460.73,547.65 461.23,548.10 461.73,548.56 462.23,549.01 462.73,549.46 463.23,549.91 463.73,550.37 464.23,550.82 464.73,551.27 465.24,551.71 465.74,552.16 466.24,552.61 466.75,553.06 467.25,553.51 467.76,553.95 468.26,554.40 468.77,554.84 469.28,555.29 469.79,555.73 470.30,556.17 470.80,556.62 471.31,557.06 471.83,557.50 472.34,557.94 472.85,558.38 473.36,558.82 473.87,559.26 474.39,559.70 474.90,560.14 475.41,560.57 475.93,561.01 476.45,561.45 476.96,561.88 477.48,562.32 478.00,562.75 478.52,563.19 479.03,563.62 479.55,564.05 480.07,564.48 480.59,564.91 481.12,565.34 481.64,565.77 482.16,566.20 482.68,566.63 483.21,567.06 483.73,567.49 484.26,567.92 484.78,568.34 485.31,568.77 485.83,569.19 486.36,569.62 486.89,570.04 487.42,570.46 487.95,570.89 488.48,571.31 489.01,571.73 489.54,572.15 490.07,572.57 490.60,572.99 491.13,573.41 491.67,573.83 492.20,574.25 492.74,574.67 493.27,575.08 493.81,575.50 494.34,575.91 494.88,576.33 495.42,576.74 495.96,577.16 496.50,577.57 497.03,577.98 497.58,578.39 498.12,578.80 498.66,579.21 499.20,579.62 499.74,580.03 500.28,580.44 500.83,580.85 501.37,581.26 501.92,581.67 502.46,582.07 503.01,582.48 503.56,582.88 504.10,583.29 526.60,605.80 367.90,446.97" fill="#db5c68"/>
<polygon points="393.57,472.66 393.96,473.17 394.36,473.67 394.75,474.18 395.14,474.68 395.54,475.19 395.93,475.69 396.33,476.20 396.72,476.70 397.12,477.20 397.52,477.70 397.92,478.20 398.31,478.71 398.71,479.21 399.11,479.71 399.51,480.20 399.91,480.70 400.31,481.20 400.71,481.70 401.11,482.20 401.51,482.69 401.92,483.19 402.32,483.69 402.72,484.18 403.13,484.68 403.53,485.17 403.93,485.67 404.34,486.16 404.75,486.65 405.15,487.15 405.56,487.64 405.97,488.13 406.37,488.62 406.78,489.11 407.19,489.60 407.60,490.09 408.01,490.58 408.42,491.07 408.83,491.56 409.24,492.05 409.65,492.53 410.06,493.02 410.47,493.51 410.89,493.99 411.30,494.48 411.71,494.97 412.13,495.45 412.54,495.93 412.96,496.42 413.37,496.90 413.79,497.38 414.21,497.87 414.62,498.35 415.04,498.83 415.46,499.31 415.88,499.79 416.30,500.27 416.72,500.75 417.14,501.23 417.56,501.71 417.98,502.18 418.40,502.66 418.82,503.14 419.24,503.62 419.66,504.09 420.09,504.57 420.51,505.04 420.94,505.52 421.36,505.99 421.79,506.46 422.21,506.94 422.64,507.41 423.06,507.88 423.49,508.35 423.92,508.83 424.35,509.30 424.77,509.77 425.20,510.24 425.63,510.71 426.06,511.18 426.49,511.64 426.92,512.11 427.36,512.58 427.79,513.05 428.22,513.51 428.65,513.98 429.09,514.44 429.52,514.91 429.95,515.37 430.39,515.84 430.82,516.30 431.26,516.77 431.69,517.23 432.13,517.69 432.57,518.15 433.00,518.61 433.44,519.07 433.88,519.54 434.32,519.99 434.76,520.45 435.20,520.91 435.64,521.37 436.08,521.83 436.52,522.29 436.96,522.74 437.41,523.20 437.85,523.66 438.29,524.11 438.73,524.57 439.18,525.02 439.62,525.48 440.07,525.93 440.51,526.38 440.96,526.84 441.41,527.29 441.85,527.74 442.30,528.19 442.75,528.64 443.20,529.09 443.64,529.54 444.09,529.99 444.54,530.44 444.99,530.89 445.44,531.34 445.90,531.79 446.35,532.24 446.80,532.68 447.25,533.13 447.70,533.57 448.16,534.02 448.61,534.46 449.07,534.91 449.52,535.35 449.98,535.80 450.43,536.24 450.89,536.68 451.35,537.12 451.80,537.57 452.26,538.01 452.72,538.45 453.18,538.89 453.64,539.33 454.10,539.77 454.56,540.20 455.02,540.64 455.48,541.08 455.94,541.52 456.40,541.95 456.86,542.39 457.33,542.83 457.79,543.26 458.25,543.70 458.72,544.13 459.18,544.57 459.65,545.00 460.11,545.43 460.58,545.86 461.05,546.30 461.51,546.73 461.98,547.16 462.45,547.59 462.92,548.02 463.39,548.45 463.86,548.88 464.33,549.31 464.80,549.74 465.27,550.16 465.74,550.59 466.21,551.02 466.68,551.44 467.16,551.87 467.63,552.30 468.10,552.72 468.58,553.15 469.05,553.57 469.53,553.99 470.00,554.42 470.48,554.84 470.96,555.26 471.43,555.68 471.91,556.10 472.39,556.52 472.87,556.95 473.35,557.36 473.83,557.78 474.30,558.20 474.79,558.62 475.27,559.04 475.75,559.46 476.23,559.87 476.71,560.29 477.19,560.71 477.68,561.12 478.16,561.54 478.65,561.95 479.13,562.36 479.62,562.78 480.10,563.19 480.59,563.60 481.07,564.02 481.56,564.43 482.05,564.84 482.54,565.25 483.03,565.66 483.51,566.07 484.00,566.48 484.49,566.89 484.98,567.30 485.47,567.70 485.97,568.11 486.46,568.52 486.95,568.92 487.44,569.33 487.94,569.74 488.43,570.14 488.92,570.55 489.42,570.95 489.91,571.35 490.41,571.76 490.91,572.16 491.40,572.56 491.90,572.96 492.40,573.36 492.90,573.76 493.39,574.16 493.89,574.56 494.39,574.96 494.89,575.36 495.39,575.76 495.89,576.16 496.40,576.56 496.90,576.95 497.40,577.35 497.90,577.74 498.41,578.14 498.91,578.54 499.41,578.93 499.92,579.32 500.42,579.72 500.93,580.11 526.60,605.80 367.90,446.97" fill="#cb4679"/>
<polygon points="396.88,475.98 397.26,476.44 397.64,476.91 398.02,477.37 398.40,477.84 398.77,478.30 399.15,478.77 399.53,479.23 399.91,479.69 400.29,480.16 400.68,480.62 401.06,481.08 401.44,481.54 401.82,482.00 402.20,482.46 402.59,482.92 402.97,483.38 403.35,483.84 403.74,484.30 404.12,484.76 404.51,485.22 404.89,485.68 405.28,486.14 405.66,486.59 406.05,487.05 406.44,487.51 406.82,487.97 407.21,488.42 407.60,488.88 407.99,489.33 408.37,489.79 408.76,490.24 409.15,490.70 409.54,491.15 409.93,491.60 410.32,492.06 410.71,492.51 411.10,492.96 411.49,493.41 411.89,493.86 412.28,494.32 412.67,494.77 413.06,495.22 413.46,495.67 413.85,496.12 414.24,496.57 414.64,497.02 415.03,497.46 415.43,497.91 415.82,498.36 416.22,498.81 416.62,499.25 417.01,499.70 417.41,500.15 417.81,500.59 418.20,501.04 418.60,501.48 419.00,501.93 419.40,502.37 419.80,502.82 420.20,503.26 420.60,503.71 421.00,504.15 421.40,504.59 421.80,505.03 422.20,505.48 422.60,505.92 423.00,506.36 423.41,506.80 423.81,507.24 424.21,507.68 424.62,508.12 425.02,508.56 425.43,509.00 425.83,509.44 426.23,509.88 426.64,510.31 427.05,510.75 427.45,511.19 427.86,511.63 428.27,512.06 428.67,512.50 429.08,512.93 429.49,513.37 429.90,513.80 430.30,514.24 430.71,514.67 431.12,515.11 431.53,515.54 431.94,515.97 432.35,516.41 432.76,516.84 433.18,517.27 433.59,517.70 434.00,518.13 434.41,518.57 434.82,519.00 435.24,519.43 435.65,519.86 436.06,520.29 436.48,520.71 436.89,521.14 437.31,521.57 437.72,522.00 438.14,522.43 438.55,522.86 438.97,523.28 439.39,523.71 439.81,524.14 440.22,524.56 440.64,524.99 441.06,525.41 441.48,525.84 441.90,526.26 442.32,526.68 442.74,527.11 443.16,527.53 443.58,527.95 444.00,528.38 444.42,528.80 444.84,529.22 445.26,529.64 445.68,530.06 446.11,530.48 446.53,530.90 446.95,531.32 447.38,531.74 447.80,532.16 448.22,532.58 448.65,533.00 449.07,533.42 449.50,533.84 449.93,534.25 450.35,534.67 450.78,535.09 451.21,535.50 451.63,535.92 452.06,536.34 452.49,536.75 452.92,537.17 453.35,537.58 453.77,537.99 454.20,538.41 454.63,538.82 455.06,539.23 455.49,539.65 455.93,540.06 456.36,540.47 456.79,540.88 457.22,541.29 457.65,541.71 458.09,542.12 458.52,542.53 458.95,542.94 459.39,543.34 459.82,543.75 460.26,544.16 460.69,544.57 461.13,544.98 461.56,545.39 462.00,545.79 462.44,546.20 462.87,546.61 463.31,547.01 463.75,547.42 464.18,547.82 464.62,548.23 465.06,548.63 465.50,549.04 465.94,549.44 466.38,549.84 466.82,550.25 467.26,550.65 467.70,551.05 468.14,551.46 468.58,551.86 469.03,552.26 469.47,552.66 469.91,553.06 470.35,553.46 470.80,553.86 471.24,554.26 471.69,554.66 472.13,555.06 472.58,555.45 473.02,555.85 473.47,556.25 473.91,556.65 474.36,557.04 474.81,557.44 475.25,557.84 475.70,558.23 476.15,558.63 476.60,559.02 477.05,559.42 477.49,559.81 477.94,560.21 478.39,560.60 478.84,560.99 479.29,561.39 479.75,561.78 480.20,562.17 480.65,562.56 481.10,562.95 481.55,563.34 482.01,563.73 482.46,564.12 482.91,564.51 483.37,564.90 483.82,565.29 484.27,565.68 484.73,566.07 485.18,566.46 485.64,566.85 486.10,567.23 486.55,567.62 487.01,568.01 487.47,568.39 487.92,568.78 488.38,569.16 488.84,569.55 489.30,569.93 489.76,570.32 490.22,570.70 490.68,571.09 491.14,571.47 491.60,571.85 492.06,572.23 492.52,572.62 492.98,573.00 493.44,573.38 493.91,573.76 494.37,574.14 494.83,574.52 495.29,574.90 495.76,575.28 496.22,575.66 496.69,576.04 497.15,576.42 497.62,576.79 526.60,605.80 367.90,446.97" fill="#b83289"/>
<polygon points="400.33,479.43 400.69,479.86 401.05,480.29 401.41,480.71 401.77,481.14 402.13,481.56 402.49,481.99 402.85,482.41 403.22,482.84 403.58,483.26 403.94,483.68 404.30,484.11 404.66,484.53 405.03,484.95 405.39,485.38 405.75,485.80 406.11,486.22 406.48,486.64 406.84,487.06 407.21,487.49 407.57,487.91 407.94,488.33 408.30,488.75 408.67,489.17 409.03,489.59 409.40,490.01 409.76,490.43 410.13,490.85 410.50,491.26 410.87,491.68 411.23,492.10 411.60,492.52 411.97,492.94 412.34,493.35 412.70,493.77 413.07,494.19 413.44,494.60 413.81,495.02 414.18,495.44 414.55,495.85 414.92,496.27 415.29,496.68 415.66,497.10 416.03,497.51 416.41,497.93 416.78,498.34 417.15,498.75 417.52,499.17 417.89,499.58 418.27,499.99 418.64,500.40 419.01,500.82 419.39,501.23 419.76,501.64 420.13,502.05 420.51,502.46 420.88,502.87 421.26,503.28 421.63,503.69 422.01,504.10 422.38,504.51 422.76,504.92 423.14,505.33 423.51,505.74 423.89,506.15 424.27,506.56 424.65,506.97 425.02,507.37 425.40,507.78 425.78,508.19 426.16,508.60 426.54,509.00 426.92,509.41 427.30,509.82 427.68,510.22 428.06,510.63 428.44,511.03 428.82,511.44 429.20,511.84 429.58,512.25 429.96,512.65 430.34,513.05 430.72,513.46 431.11,513.86 431.49,514.26 431.87,514.67 432.25,515.07 432.64,515.47 433.02,515.87 433.40,516.27 433.79,516.68 434.17,517.08 434.56,517.48 434.94,517.88 435.33,518.28 435.71,518.68 436.10,519.08 436.49,519.48 436.87,519.88 437.26,520.28 437.65,520.67 438.03,521.07 438.42,521.47 438.81,521.87 439.20,522.26 439.59,522.66 439.97,523.06 440.36,523.46 440.75,523.85 441.14,524.25 441.53,524.64 441.92,525.04 442.31,525.43 442.70,525.83 443.09,526.22 443.49,526.62 443.88,527.01 444.27,527.41 444.66,527.80 445.05,528.19 445.45,528.59 445.84,528.98 446.23,529.37 446.62,529.76 447.02,530.15 447.41,530.55 447.81,530.94 448.20,531.33 448.60,531.72 448.99,532.11 449.39,532.50 449.78,532.89 450.18,533.28 450.57,533.67 450.97,534.06 451.37,534.45 451.76,534.83 452.16,535.22 452.56,535.61 452.96,536.00 453.36,536.38 453.75,536.77 454.15,537.16 454.55,537.54 454.95,537.93 455.35,538.32 455.75,538.70 456.15,539.09 456.55,539.47 456.95,539.86 457.35,540.24 457.75,540.63 458.16,541.01 458.56,541.39 458.96,541.78 459.36,542.16 459.77,542.54 460.17,542.93 460.57,543.31 460.97,543.69 461.38,544.07 461.78,544.45 462.19,544.83 462.59,545.22 463.00,545.60 463.40,545.98 463.81,546.36 464.21,546.74 464.62,547.12 465.03,547.50 465.43,547.87 465.84,548.25 466.25,548.63 466.65,549.01 467.06,549.39 467.47,549.76 467.88,550.14 468.29,550.52 468.69,550.90 469.10,551.27 469.51,551.65 469.92,552.02 470.33,552.40 470.74,552.77 471.15,553.15 471.56,553.52 471.98,553.90 472.39,554.27 472.80,554.65 473.21,555.02 473.62,555.39 474.04,555.77 474.45,556.14 474.86,556.51 475.27,556.88 475.69,557.26 476.10,557.63 476.52,558.00 476.93,558.37 477.35,558.74 477.76,559.11 478.18,559.48 478.59,559.85 479.01,560.22 479.42,560.59 479.84,560.96 480.26,561.33 480.67,561.70 481.09,562.06 481.51,562.43 481.93,562.80 482.34,563.17 482.76,563.53 483.18,563.90 483.60,564.27 484.02,564.63 484.44,565.00 484.86,565.37 485.28,565.73 485.70,566.10 486.12,566.46 486.54,566.83 486.96,567.19 487.38,567.55 487.80,567.92 488.23,568.28 488.65,568.64 489.07,569.01 489.49,569.37 489.92,569.73 490.34,570.09 490.77,570.46 491.19,570.82 491.61,571.18 492.04,571.54 492.46,571.90 492.89,572.26 493.31,572.62 493.74,572.98 494.17,573.34 526.60,605.80 367.90,446.97" fill="#a31e9a"/>
<polygon points="404.47,483.57 404.80,483.95 405.14,484.34 405.47,484.72 405.81,485.10 406.14,485.48 406.48,485.86 406.81,486.25 407.15,486.63 407.48,487.01 407.82,487.39 408.15,487.77 408.49,488.15 408.83,488.53 409.16,488.91 409.50,489.29 409.84,489.67 410.17,490.05 410.51,490.43 410.85,490.80 411.19,491.18 411.52,491.56 411.86,491.94 412.20,492.32 412.54,492.70 412.88,493.07 413.22,493.45 413.55,493.83 413.89,494.20 414.23,494.58 414.57,494.96 414.91,495.33 415.25,495.71 415.59,496.09 415.93,496.46 416.28,496.84 416.62,497.21 416.96,497.59 417.30,497.96 417.64,498.34 417.98,498.71 418.32,499.09 418.67,499.46 419.01,499.83 419.35,500.21 419.69,500.58 420.04,500.95 420.38,501.33 420.72,501.70 421.07,502.07 421.41,502.45 421.75,502.82 422.10,503.19 422.44,503.56 422.79,503.93 423.13,504.31 423.48,504.68 423.82,505.05 424.17,505.42 424.51,505.79 424.86,506.16 425.21,506.53 425.55,506.90 425.90,507.27 426.24,507.64 426.59,508.01 426.94,508.38 427.29,508.75 427.63,509.12 427.98,509.48 428.33,509.85 428.68,510.22 429.03,510.59 429.37,510.96 429.72,511.32 430.07,511.69 430.42,512.06 430.77,512.43 431.12,512.79 431.47,513.16 431.82,513.53 432.17,513.89 432.52,514.26 432.87,514.62 433.22,514.99 433.57,515.36 433.92,515.72 434.27,516.09 434.62,516.45 434.98,516.81 435.33,517.18 435.68,517.54 436.03,517.91 436.39,518.27 436.74,518.63 437.09,519.00 437.44,519.36 437.80,519.72 438.15,520.09 438.50,520.45 438.86,520.81 439.21,521.17 439.57,521.54 439.92,521.90 440.28,522.26 440.63,522.62 440.99,522.98 441.34,523.34 441.70,523.70 442.05,524.06 442.41,524.42 442.77,524.78 443.12,525.14 443.48,525.50 443.84,525.86 444.19,526.22 444.55,526.58 444.91,526.94 445.26,527.30 445.62,527.66 445.98,528.02 446.34,528.37 446.70,528.73 447.06,529.09 447.41,529.45 447.77,529.80 448.13,530.16 448.49,530.52 448.85,530.87 449.21,531.23 449.57,531.59 449.93,531.94 450.29,532.30 450.65,532.65 451.01,533.01 451.37,533.37 451.74,533.72 452.10,534.08 452.46,534.43 452.82,534.78 453.18,535.14 453.54,535.49 453.91,535.85 454.27,536.20 454.63,536.55 455.00,536.91 455.36,537.26 455.72,537.61 456.09,537.96 456.45,538.32 456.81,538.67 457.18,539.02 457.54,539.37 457.91,539.72 458.27,540.08 458.64,540.43 459.00,540.78 459.37,541.13 459.73,541.48 460.10,541.83 460.47,542.18 460.83,542.53 461.20,542.88 461.57,543.23 461.93,543.58 462.30,543.93 462.67,544.28 463.03,544.63 463.40,544.97 463.77,545.32 464.14,545.67 464.51,546.02 464.87,546.37 465.24,546.71 465.61,547.06 465.98,547.41 466.35,547.76 466.72,548.10 467.09,548.45 467.46,548.79 467.83,549.14 468.20,549.49 468.57,549.83 468.94,550.18 469.31,550.52 469.68,550.87 470.06,551.21 470.43,551.56 470.80,551.90 471.17,552.25 471.54,552.59 471.92,552.93 472.29,553.28 472.66,553.62 473.03,553.96 473.41,554.31 473.78,554.65 474.15,554.99 474.53,555.34 474.90,555.68 475.28,556.02 475.65,556.36 476.03,556.70 476.40,557.04 476.78,557.39 477.15,557.73 477.53,558.07 477.90,558.41 478.28,558.75 478.65,559.09 479.03,559.43 479.41,559.77 479.78,560.11 480.16,560.45 480.54,560.79 480.91,561.13 481.29,561.46 481.67,561.80 482.05,562.14 482.43,562.48 482.80,562.82 483.18,563.16 483.56,563.49 483.94,563.83 484.32,564.17 484.70,564.50 485.08,564.84 485.46,565.18 485.84,565.51 486.22,565.85 486.60,566.19 486.98,566.52 487.36,566.86 487.74,567.19 488.12,567.53 488.50,567.86 488.88,568.20 489.27,568.53 489.65,568.87 490.03,569.20 526.60,605.80 367.90,446.97" fill="#8b0aa5"/>
<polygon points="409.30,488.41 409.60,488.74 409.90,489.07 410.21,489.41 410.51,489.74 410.81,490.07 411.11,490.41 411.41,490.74 411.72,491.07 412.02,491.41 412.32,491.74 412.62,492.07 412.93,492.40 413.23,492.74 413.53,493.07 413.84,493.40 414.14,493.73 414.44,494.07 414.75,494.40 415.05,494.73 415.36,495.06 415.66,495.39 415.96,495.72 416.27,496.05 416.57,496.38 416.88,496.71 417.18,497.04 417.49,497.38 417.79,497.71 418.10,498.04 418.40,498.37 418.71,498.70 419.01,499.03 419.32,499.35 419.63,499.68 419.93,500.01 420.24,500.34 420.55,500.67 420.85,501.00 421.16,501.33 421.46,501.66 421.77,501.99 422.08,502.32 422.39,502.64 422.69,502.97 423.00,503.30 423.31,503.63 423.62,503.96 423.92,504.28 424.23,504.61 424.54,504.94 424.85,505.26 425.16,505.59 425.46,505.92 425.77,506.25 426.08,506.57 426.39,506.90 426.70,507.22 427.01,507.55 427.32,507.88 427.63,508.20 427.94,508.53 428.25,508.85 428.56,509.18 428.87,509.51 429.18,509.83 429.49,510.16 429.80,510.48 430.11,510.81 430.42,511.13 430.73,511.45 431.04,511.78 431.35,512.10 431.66,512.43 431.97,512.75 432.29,513.08 432.60,513.40 432.91,513.72 433.22,514.05 433.53,514.37 433.85,514.69 434.16,515.02 434.47,515.34 434.78,515.66 435.10,515.98 435.41,516.31 435.72,516.63 436.03,516.95 436.35,517.27 436.66,517.60 436.97,517.92 437.29,518.24 437.60,518.56 437.92,518.88 438.23,519.20 438.54,519.53 438.86,519.85 439.17,520.17 439.49,520.49 439.80,520.81 440.12,521.13 440.43,521.45 440.75,521.77 441.06,522.09 441.38,522.41 441.69,522.73 442.01,523.05 442.32,523.37 442.64,523.69 442.96,524.01 443.27,524.33 443.59,524.65 443.91,524.97 444.22,525.28 444.54,525.60 444.86,525.92 445.17,526.24 445.49,526.56 445.81,526.88 446.13,527.19 446.44,527.51 446.76,527.83 447.08,528.15 447.40,528.46 447.71,528.78 448.03,529.10 448.35,529.42 448.67,529.73 448.99,530.05 449.31,530.37 449.63,530.68 449.94,531.00 450.26,531.32 450.58,531.63 450.90,531.95 451.22,532.26 451.54,532.58 451.86,532.89 452.18,533.21 452.50,533.52 452.82,533.84 453.14,534.15 453.46,534.47 453.78,534.78 454.10,535.10 454.43,535.41 454.75,535.73 455.07,536.04 455.39,536.36 455.71,536.67 456.03,536.98 456.35,537.30 456.68,537.61 457.00,537.92 457.32,538.24 457.64,538.55 457.97,538.86 458.29,539.18 458.61,539.49 458.93,539.80 459.26,540.11 459.58,540.43 459.90,540.74 460.23,541.05 460.55,541.36 460.87,541.67 461.20,541.99 461.52,542.30 461.84,542.61 462.17,542.92 462.49,543.23 462.82,543.54 463.14,543.85 463.47,544.16 463.79,544.47 464.12,544.78 464.44,545.09 464.77,545.40 465.09,545.71 465.42,546.02 465.74,546.33 466.07,546.64 466.40,546.95 466.72,547.26 467.05,547.57 467.37,547.88 467.70,548.19 468.03,548.50 468.35,548.81 468.68,549.11 469.01,549.42 469.34,549.73 469.66,550.04 469.99,550.35 470.32,550.66 470.65,550.96 470.97,551.27 471.30,551.58 471.63,551.88 471.96,552.19 472.29,552.50 472.61,552.81 472.94,553.11 473.27,553.42 473.60,553.73 473.93,554.03 474.26,554.34 474.59,554.64 474.92,554.95 475.25,555.26 475.58,555.56 475.91,555.87 476.24,556.17 476.57,556.48 476.90,556.78 477.23,557.09 477.56,557.39 477.89,557.70 478.22,558.00 478.55,558.31 478.88,558.61 479.21,558.91 479.55,559.22 479.88,559.52 480.21,559.83 480.54,560.13 480.87,560.43 481.20,560.74 481.54,561.04 481.87,561.34 482.20,561.65 482.53,561.95 482.87,562.25 483.20,562.55 483.53,562.86 483.87,563.16 484.20,563.46 484.53,563.76 484.87,564.06 485.20,564.37 526.60,605.80 367.90,446.97" fill="#6f00a8"/>
<line x1="367.90" y1="446.97" x2="526.60" y2="605.80" stroke="#f6bf3b" stroke-width="1.15" stroke-opacity="0.95" transform="translate(0.25 -0.25)"/>
</g>
<path d="M616.3 357.2V605.8" stroke="#9c9c9c" stroke-width="1.15" fill="none"/>
<path d="M363.4 605.8H616.3" stroke="#9c9c9c" stroke-width="1.15" fill="none"/>
<path d="M616.3 605.80h4M367.90 605.8v4M616.3 591.99h4M381.70 605.8v4M616.3 578.18h4M395.50 605.8v4M616.3 564.37h4M409.30 605.8v4M616.3 550.56h4M423.10 605.8v4M616.3 536.74h4M436.90 605.8v4M616.3 522.93h4M450.70 605.8v4M616.3 509.12h4M464.50 605.8v4M616.3 495.31h4M478.30 605.8v4M616.3 481.50h4M492.10 605.8v4M616.3 467.69h4M505.90 605.8v4M616.3 453.88h4M519.70 605.8v4M616.3 440.07h4M533.50 605.8v4M616.3 426.26h4M547.30 605.8v4M616.3 412.44h4M561.10 605.8v4M616.3 398.63h4M574.90 605.8v4M616.3 384.82h4M588.70 605.8v4M616.3 371.01h4M602.50 605.8v4M616.3 357.20h4M616.30 605.8v4" stroke="#9c9c9c" stroke-width="1.15" fill="none"/>
<path d="M367.9 605.8V357.2H616.3" stroke="#7f7f7f" stroke-width="1.4" fill="none"/>
<text x="623.3" y="610.40" class="t r">0</text>
<text x="623.3" y="596.64" class="t r">100</text>
<text x="623.3" y="582.89" class="t r">200</text>
<text x="623.3" y="569.13" class="t r">300</text>
<text x="623.3" y="555.38" class="t r">400</text>
<text x="623.3" y="541.62" class="t r">500</text>
<text x="623.3" y="527.87" class="t r">600</text>
<text x="623.3" y="514.11" class="t r">700</text>
<text x="623.3" y="500.36" class="t r">800</text>
<text x="623.3" y="486.60" class="t r">900</text>
<text x="623.3" y="472.84" class="t r">1000</text>
<text x="623.3" y="459.09" class="t r">1100</text>
<text x="623.3" y="445.33" class="t r">1200</text>
<text x="623.3" y="431.58" class="t r">1300</text>
<text x="623.3" y="417.82" class="t r">1400</text>
<text x="623.3" y="404.07" class="t r">1500</text>
<text x="623.3" y="390.31" class="t r">1600</text>
<text x="623.3" y="376.56" class="t r">1700</text>
<text x="623.3" y="362.80" class="t r">1800</text>
<text transform="translate(371.80 613.1) rotate(-90)" text-anchor="end" class="t">0</text>
<text transform="translate(385.60 613.1) rotate(-90)" text-anchor="end" class="t">100</text>
<text transform="translate(399.40 613.1) rotate(-90)" text-anchor="end" class="t">200</text>
<text transform="translate(413.20 613.1) rotate(-90)" text-anchor="end" class="t">300</text>
<text transform="translate(427.00 613.1) rotate(-90)" text-anchor="end" class="t">400</text>
<text transform="translate(440.80 613.1) rotate(-90)" text-anchor="end" class="t">500</text>
<text transform="translate(454.60 613.1) rotate(-90)" text-anchor="end" class="t">600</text>
<text transform="translate(468.40 613.1) rotate(-90)" text-anchor="end" class="t">700</text>
<text transform="translate(482.20 613.1) rotate(-90)" text-anchor="end" class="t">800</text>
<text transform="translate(496.00 613.1) rotate(-90)" text-anchor="end" class="t">900</text>
<text transform="translate(509.80 613.1) rotate(-90)" text-anchor="end" class="t">1 000</text>
<text transform="translate(523.60 613.1) rotate(-90)" text-anchor="end" class="t">1 100</text>
<text transform="translate(537.40 613.1) rotate(-90)" text-anchor="end" class="t">1 200</text>
<text transform="translate(551.20 613.1) rotate(-90)" text-anchor="end" class="t">1 300</text>
<text transform="translate(565.00 613.1) rotate(-90)" text-anchor="end" class="t">1 400</text>
<text transform="translate(578.80 613.1) rotate(-90)" text-anchor="end" class="t">1 500</text>
<text transform="translate(592.60 613.1) rotate(-90)" text-anchor="end" class="t">1 600</text>
<text transform="translate(606.40 613.1) rotate(-90)" text-anchor="end" class="t">1 700</text>
<text transform="translate(620.20 613.1) rotate(-90)" text-anchor="end" class="t">1 800</text>
<text x="490.1" y="654.3" text-anchor="middle" class="a" textLength="146.6" lengthAdjust="spacingAndGlyphs">TF INTENSITY DIR. A [VEH/H]</text>
<text transform="translate(664.9 481.8) rotate(-90)" text-anchor="middle" class="a yb" textLength="144.5" lengthAdjust="spacingAndGlyphs">TF INTENSITY DIR. B [VEH/H]</text>
<text x="516.8" y="674.5" text-anchor="middle" class="c">d)</text>
<rect x="2.5" y="693.7" width="332.7" height="313.5999999999999" fill="#fff" stroke="#bdbdbd" stroke-width="1"/>
<clipPath id="cp4"><rect x="19.9" y="704.2" width="248.4" height="248.69999999999993"/></clipPath>
<g clip-path="url(#cp4)">
<polygon points="19.90,952.90 211.17,952.90 19.90,761.40" fill="#f0f921"/>
<polygon points="19.91,903.72 20.07,903.97 20.24,904.22 20.40,904.47 20.56,904.71 20.73,904.96 20.90,905.20 21.06,905.45 21.23,905.69 21.39,905.94 21.56,906.18 21.73,906.43 21.90,906.67 22.06,906.91 22.23,907.16 22.40,907.40 22.57,907.64 22.74,907.88 22.91,908.13 23.08,908.37 23.25,908.61 23.42,908.85 23.59,909.09 23.76,909.33 23.94,909.57 24.11,909.80 24.28,910.04 24.45,910.28 24.63,910.52 24.80,910.76 24.98,910.99 25.15,911.23 25.33,911.47 25.50,911.70 25.68,911.94 25.85,912.17 26.03,912.41 26.21,912.64 26.38,912.88 26.56,913.11 26.74,913.34 26.92,913.58 27.09,913.81 27.27,914.04 27.45,914.28 27.63,914.51 27.81,914.74 27.99,914.97 28.17,915.20 28.35,915.43 28.53,915.66 28.72,915.89 28.90,916.12 29.08,916.35 29.26,916.58 29.44,916.81 29.63,917.03 29.81,917.26 30.00,917.49 30.18,917.72 30.36,917.94 30.55,918.17 30.74,918.39 30.92,918.62 31.11,918.84 31.29,919.07 31.48,919.29 31.67,919.52 31.86,919.74 32.04,919.96 32.23,920.19 32.42,920.41 32.61,920.63 32.80,920.85 32.99,921.08 33.18,921.30 33.37,921.52 33.56,921.74 33.75,921.96 33.94,922.18 34.13,922.40 34.32,922.62 34.52,922.84 34.71,923.05 34.90,923.27 35.10,923.49 35.29,923.71 35.48,923.93 35.68,924.14 35.87,924.36 36.07,924.57 36.26,924.79 36.46,925.01 36.66,925.22 36.85,925.44 37.05,925.65 37.25,925.86 37.44,926.08 37.64,926.29 37.84,926.50 38.04,926.72 38.24,926.93 38.44,927.14 38.64,927.35 38.84,927.56 39.04,927.77 39.24,927.98 39.44,928.19 39.64,928.40 39.84,928.61 40.04,928.82 40.25,929.03 40.45,929.24 40.65,929.45 40.86,929.66 41.06,929.86 41.26,930.07 41.47,930.28 41.67,930.48 41.88,930.69 42.08,930.90 42.29,931.10 42.49,931.31 42.70,931.51 42.91,931.72 43.12,931.92 43.32,932.12 43.53,932.33 43.74,932.53 43.95,932.73 44.16,932.93 44.37,933.14 44.58,933.34 44.79,933.54 45.00,933.74 45.21,933.94 45.42,934.14 45.63,934.34 45.84,934.54 46.05,934.74 46.26,934.94 46.48,935.14 46.69,935.33 46.90,935.53 47.12,935.73 47.33,935.93 47.55,936.12 47.76,936.32 47.98,936.52 48.19,936.71 48.41,936.91 48.62,937.10 48.84,937.30 49.06,937.49 49.27,937.69 49.49,937.88 49.71,938.07 49.93,938.27 50.15,938.46 50.36,938.65 50.58,938.84 50.80,939.03 51.02,939.22 51.24,939.42 51.46,939.61 51.69,939.80 51.91,939.99 52.13,940.18 52.35,940.36 52.57,940.55 52.80,940.74 53.02,940.93 53.24,941.12 53.47,941.31 53.69,941.49 53.91,941.68 54.14,941.87 54.36,942.05 54.59,942.24 54.82,942.42 55.04,942.61 55.27,942.79 55.50,942.98 55.72,943.16 55.95,943.34 56.18,943.53 56.41,943.71 56.64,943.89 56.86,944.07 57.09,944.26 57.32,944.44 57.55,944.62 57.78,944.80 58.02,944.98 58.25,945.16 58.48,945.34 58.71,945.52 58.94,945.70 59.17,945.88 59.41,946.05 59.64,946.23 59.87,946.41 60.11,946.59 60.34,946.76 60.58,946.94 60.81,947.12 61.05,947.29 61.28,947.47 61.52,947.64 61.76,947.82 61.99,947.99 62.23,948.17 62.47,948.34 62.71,948.51 62.94,948.69 63.18,948.86 63.42,949.03 63.66,949.20 63.90,949.37 64.14,949.55 64.38,949.72 64.62,949.89 64.86,950.06 65.10,950.23 65.35,950.40 65.59,950.56 65.83,950.73 66.07,950.90 66.32,951.07 66.56,951.24 66.80,951.40 67.05,951.57 67.29,951.74 67.54,951.90 67.78,952.07 68.03,952.23 68.28,952.40 68.52,952.56 68.77,952.73 69.02,952.89 211.17,952.90 19.90,761.40" fill="#fada24"/>
<polygon points="19.90,856.74 20.16,857.28 20.43,857.82 20.69,858.36 20.96,858.90 21.23,859.44 21.50,859.97 21.77,860.51 22.04,861.04 22.31,861.57 22.58,862.10 22.86,862.63 23.13,863.16 23.41,863.69 23.69,864.21 23.97,864.74 24.25,865.26 24.54,865.78 24.82,866.30 25.11,866.82 25.39,867.34 25.68,867.85 25.97,868.37 26.26,868.88 26.55,869.40 26.84,869.91 27.14,870.42 27.43,870.93 27.73,871.44 28.03,871.94 28.33,872.45 28.63,872.95 28.93,873.45 29.23,873.96 29.53,874.46 29.84,874.96 30.14,875.45 30.45,875.95 30.76,876.45 31.07,876.94 31.38,877.44 31.69,877.93 32.01,878.42 32.32,878.91 32.64,879.40 32.95,879.88 33.27,880.37 33.59,880.86 33.91,881.34 34.23,881.82 34.56,882.30 34.88,882.78 35.20,883.26 35.53,883.74 35.86,884.22 36.19,884.69 36.52,885.17 36.85,885.64 37.18,886.11 37.51,886.58 37.85,887.05 38.18,887.52 38.52,887.99 38.86,888.46 39.20,888.92 39.54,889.39 39.88,889.85 40.22,890.31 40.56,890.77 40.91,891.23 41.25,891.69 41.60,892.15 41.95,892.60 42.30,893.06 42.65,893.51 43.00,893.96 43.35,894.41 43.71,894.87 44.06,895.31 44.42,895.76 44.78,896.21 45.13,896.66 45.49,897.10 45.85,897.54 46.22,897.99 46.58,898.43 46.94,898.87 47.31,899.31 47.67,899.74 48.04,900.18 48.41,900.62 48.78,901.05 49.15,901.49 49.52,901.92 49.90,902.35 50.27,902.78 50.65,903.21 51.02,903.64 51.40,904.06 51.78,904.49 52.16,904.91 52.54,905.34 52.92,905.76 53.30,906.18 53.69,906.60 54.07,907.02 54.46,907.44 54.85,907.85 55.23,908.27 55.62,908.68 56.01,909.10 56.41,909.51 56.80,909.92 57.19,910.33 57.59,910.74 57.98,911.15 58.38,911.55 58.78,911.96 59.18,912.37 59.58,912.77 59.98,913.17 60.39,913.57 60.79,913.97 61.20,914.37 61.60,914.77 62.01,915.17 62.42,915.56 62.83,915.96 63.24,916.35 63.65,916.74 64.06,917.13 64.48,917.52 64.89,917.91 65.31,918.30 65.73,918.69 66.14,919.07 66.56,919.46 66.98,919.84 67.41,920.22 67.83,920.60 68.25,920.98 68.68,921.36 69.10,921.74 69.53,922.12 69.96,922.49 70.39,922.87 70.82,923.24 71.25,923.61 71.69,923.98 72.12,924.35 72.55,924.72 72.99,925.09 73.43,925.46 73.87,925.82 74.31,926.19 74.75,926.55 75.19,926.91 75.63,927.27 76.08,927.63 76.52,927.99 76.97,928.35 77.42,928.71 77.86,929.06 78.31,929.42 78.77,929.77 79.22,930.12 79.67,930.47 80.13,930.82 80.58,931.17 81.04,931.52 81.50,931.87 81.95,932.21 82.41,932.55 82.88,932.90 83.34,933.24 83.80,933.58 84.27,933.92 84.73,934.26 85.20,934.59 85.67,934.93 86.14,935.27 86.61,935.60 87.08,935.93 87.55,936.26 88.02,936.59 88.50,936.92 88.98,937.25 89.45,937.58 89.93,937.90 90.41,938.23 90.89,938.55 91.37,938.87 91.86,939.19 92.34,939.51 92.83,939.83 93.31,940.15 93.80,940.46 94.29,940.78 94.78,941.09 95.27,941.41 95.77,941.72 96.26,942.03 96.76,942.34 97.25,942.64 97.75,942.95 98.25,943.26 98.75,943.56 99.25,943.86 99.75,944.16 100.26,944.46 100.76,944.76 101.27,945.06 101.77,945.36 102.28,945.65 102.79,945.95 103.30,946.24 103.81,946.53 104.33,946.82 104.84,947.11 105.36,947.40 105.88,947.69 106.39,947.97 106.91,948.26 107.43,948.54 107.96,948.82 108.48,949.10 109.01,949.38 109.53,949.66 110.06,949.94 110.59,950.21 111.12,950.49 111.65,950.76 112.18,951.03 112.71,951.30 113.25,951.57 113.78,951.84 114.32,952.11 114.86,952.37 115.40,952.63 115.94,952.90 211.17,952.90 19.90,761.40" fill="#febd2a"/>
<polygon points="19.90,807.43 20.15,808.40 20.40,809.37 20.66,810.33 20.91,811.29 21.18,812.24 21.44,813.19 21.71,814.14 21.99,815.08 22.27,816.02 22.55,816.96 22.83,817.89 23.12,818.81 23.42,819.74 23.71,820.66 24.01,821.57 24.32,822.49 24.63,823.40 24.94,824.30 25.25,825.20 25.57,826.10 25.89,827.00 26.22,827.89 26.55,828.77 26.88,829.66 27.22,830.54 27.56,831.42 27.90,832.29 28.25,833.16 28.60,834.03 28.95,834.89 29.30,835.75 29.66,836.61 30.03,837.46 30.39,838.31 30.76,839.16 31.14,840.01 31.51,840.85 31.89,841.68 32.27,842.52 32.66,843.35 33.05,844.18 33.44,845.00 33.83,845.83 34.23,846.65 34.63,847.46 35.04,848.27 35.44,849.08 35.85,849.89 36.27,850.69 36.68,851.49 37.10,852.29 37.52,853.09 37.95,853.88 38.38,854.67 38.81,855.45 39.24,856.24 39.68,857.01 40.12,857.79 40.56,858.57 41.01,859.34 41.46,860.10 41.91,860.87 42.36,861.63 42.82,862.39 43.28,863.15 43.74,863.90 44.21,864.65 44.68,865.40 45.15,866.15 45.62,866.89 46.10,867.63 46.58,868.37 47.06,869.10 47.55,869.83 48.04,870.56 48.53,871.29 49.02,872.01 49.52,872.73 50.02,873.45 50.52,874.16 51.02,874.87 51.53,875.58 52.04,876.29 52.55,876.99 53.07,877.70 53.59,878.39 54.11,879.09 54.63,879.78 55.16,880.47 55.69,881.16 56.22,881.85 56.75,882.53 57.29,883.21 57.83,883.89 58.37,884.56 58.92,885.23 59.46,885.90 60.01,886.57 60.57,887.23 61.12,887.89 61.68,888.55 62.24,889.21 62.80,889.86 63.37,890.51 63.94,891.16 64.51,891.80 65.08,892.45 65.66,893.09 66.24,893.72 66.82,894.36 67.41,894.99 67.99,895.62 68.58,896.25 69.17,896.87 69.77,897.49 70.37,898.11 70.97,898.73 71.57,899.34 72.17,899.95 72.78,900.56 73.39,901.17 74.01,901.77 74.62,902.37 75.24,902.97 75.86,903.57 76.48,904.16 77.11,904.75 77.74,905.34 78.37,905.92 79.01,906.51 79.64,907.08 80.28,907.66 80.92,908.24 81.57,908.81 82.21,909.38 82.86,909.94 83.52,910.51 84.17,911.07 84.83,911.63 85.49,912.19 86.15,912.74 86.82,913.29 87.49,913.84 88.16,914.38 88.83,914.93 89.51,915.47 90.19,916.00 90.87,916.54 91.55,917.07 92.24,917.60 92.93,918.13 93.62,918.65 94.32,919.17 95.01,919.69 95.71,920.21 96.42,920.72 97.12,921.23 97.83,921.74 98.54,922.25 99.26,922.75 99.97,923.25 100.69,923.74 101.42,924.24 102.14,924.73 102.87,925.22 103.60,925.70 104.33,926.19 105.07,926.67 105.81,927.15 106.55,927.62 107.29,928.09 108.04,928.56 108.79,929.03 109.54,929.49 110.30,929.95 111.06,930.41 111.82,930.86 112.58,931.32 113.35,931.77 114.12,932.21 114.89,932.66 115.67,933.10 116.45,933.53 117.23,933.97 118.01,934.40 118.80,934.83 119.59,935.25 120.39,935.68 121.18,936.10 121.98,936.51 122.79,936.93 123.59,937.34 124.40,937.75 125.21,938.15 126.03,938.55 126.84,938.95 127.67,939.35 128.49,939.74 129.32,940.13 130.15,940.51 130.98,940.89 131.82,941.27 132.66,941.65 133.50,942.02 134.35,942.39 135.20,942.76 136.05,943.12 136.91,943.48 137.77,943.84 138.63,944.19 139.49,944.54 140.36,944.89 141.24,945.23 142.11,945.57 142.99,945.91 143.88,946.24 144.76,946.57 145.65,946.90 146.55,947.22 147.44,947.54 148.34,947.86 149.25,948.17 150.16,948.48 151.07,948.78 151.98,949.08 152.90,949.38 153.82,949.67 154.75,949.96 155.68,950.25 156.61,950.53 157.55,950.81 158.49,951.08 159.44,951.36 160.39,951.62 161.34,951.88 162.30,952.14 163.26,952.40 164.23,952.65 165.20,952.90 211.17,952.90 19.90,761.40" fill="#fba238"/>
<polygon points="19.90,776.74 20.12,778.00 20.35,779.25 20.58,780.49 20.82,781.72 21.06,782.95 21.31,784.18 21.57,785.39 21.83,786.60 22.10,787.81 22.37,789.01 22.66,790.20 22.94,791.39 23.23,792.57 23.53,793.75 23.83,794.92 24.14,796.08 24.46,797.24 24.78,798.40 25.10,799.55 25.43,800.69 25.77,801.83 26.11,802.96 26.45,804.09 26.80,805.21 27.16,806.33 27.52,807.44 27.89,808.55 28.26,809.65 28.64,810.75 29.02,811.84 29.40,812.93 29.79,814.01 30.19,815.09 30.59,816.16 30.99,817.23 31.40,818.30 31.82,819.36 32.24,820.41 32.66,821.46 33.09,822.51 33.52,823.55 33.96,824.58 34.40,825.62 34.84,826.64 35.29,827.67 35.75,828.69 36.21,829.70 36.67,830.71 37.14,831.72 37.61,832.72 38.08,833.72 38.56,834.71 39.05,835.70 39.54,836.68 40.03,837.67 40.53,838.64 41.03,839.61 41.53,840.58 42.04,841.55 42.56,842.51 43.07,843.46 43.60,844.42 44.12,845.36 44.65,846.31 45.18,847.25 45.72,848.18 46.26,849.12 46.81,850.04 47.36,850.97 47.91,851.89 48.47,852.81 49.03,853.72 49.59,854.63 50.16,855.53 50.73,856.43 51.31,857.33 51.89,858.22 52.47,859.11 53.06,860.00 53.65,860.88 54.25,861.76 54.84,862.63 55.45,863.51 56.05,864.37 56.66,865.24 57.28,866.10 57.89,866.95 58.51,867.80 59.14,868.65 59.77,869.50 60.40,870.34 61.04,871.18 61.68,872.01 62.32,872.84 62.96,873.67 63.61,874.49 64.27,875.31 64.93,876.13 65.59,876.94 66.25,877.75 66.92,878.55 67.59,879.35 68.27,880.15 68.95,880.95 69.63,881.74 70.32,882.52 71.01,883.31 71.70,884.09 72.40,884.86 73.10,885.63 73.80,886.40 74.51,887.17 75.22,887.93 75.93,888.69 76.65,889.44 77.38,890.20 78.10,890.94 78.83,891.69 79.56,892.43 80.30,893.17 81.04,893.90 81.78,894.63 82.53,895.36 83.28,896.08 84.03,896.80 84.79,897.51 85.55,898.23 86.32,898.93 87.08,899.64 87.86,900.34 88.63,901.04 89.41,901.73 90.19,902.42 90.98,903.11 91.77,903.79 92.56,904.47 93.36,905.15 94.16,905.82 94.96,906.49 95.77,907.16 96.58,907.82 97.40,908.48 98.21,909.13 99.04,909.78 99.86,910.43 100.69,911.07 101.52,911.71 102.36,912.35 103.20,912.98 104.05,913.61 104.89,914.24 105.74,914.86 106.60,915.48 107.46,916.09 108.32,916.70 109.19,917.31 110.06,917.91 110.93,918.51 111.81,919.11 112.69,919.70 113.57,920.29 114.46,920.87 115.35,921.45 116.25,922.03 117.15,922.60 118.05,923.17 118.96,923.74 119.87,924.30 120.79,924.86 121.71,925.41 122.63,925.96 123.56,926.51 124.49,927.05 125.42,927.59 126.36,928.12 127.31,928.65 128.25,929.18 129.20,929.70 130.16,930.22 131.12,930.73 132.08,931.24 133.05,931.75 134.02,932.25 135.00,932.75 135.97,933.24 136.96,933.73 137.95,934.21 138.94,934.69 139.93,935.17 140.94,935.64 141.94,936.11 142.95,936.57 143.96,937.03 144.98,937.49 146.00,937.94 147.03,938.39 148.06,938.83 149.10,939.26 150.14,939.70 151.18,940.13 152.23,940.55 153.28,940.97 154.34,941.38 155.40,941.79 156.47,942.20 157.54,942.60 158.62,943.00 159.70,943.39 160.79,943.77 161.88,944.15 162.98,944.53 164.08,944.90 165.18,945.27 166.30,945.63 167.41,945.99 168.53,946.34 169.66,946.68 170.79,947.03 171.93,947.36 173.07,947.69 174.22,948.02 175.37,948.34 176.53,948.65 177.69,948.96 178.86,949.26 180.04,949.56 181.22,949.85 182.40,950.14 183.59,950.42 184.79,950.70 186.00,950.97 187.21,951.23 188.42,951.49 189.64,951.74 190.87,951.98 192.10,952.22 193.34,952.45 194.59,952.68 195.84,952.90 211.17,952.90 19.90,761.40" fill="#f48849"/>
<polygon points="23.35,764.86 23.59,766.16 23.84,767.46 24.10,768.75 24.36,770.03 24.63,771.31 24.90,772.58 25.18,773.84 25.47,775.10 25.76,776.35 26.06,777.60 26.37,778.84 26.68,780.07 26.99,781.30 27.31,782.52 27.64,783.74 27.98,784.95 28.31,786.15 28.66,787.35 29.01,788.55 29.36,789.74 29.72,790.92 30.09,792.10 30.46,793.27 30.84,794.44 31.22,795.60 31.60,796.76 31.99,797.91 32.39,799.06 32.79,800.20 33.20,801.34 33.61,802.47 34.03,803.60 34.45,804.73 34.87,805.84 35.31,806.96 35.74,808.06 36.18,809.17 36.63,810.27 37.08,811.36 37.53,812.45 37.99,813.54 38.45,814.62 38.92,815.69 39.39,816.76 39.87,817.83 40.35,818.89 40.84,819.95 41.33,821.00 41.83,822.05 42.32,823.10 42.83,824.14 43.34,825.17 43.85,826.21 44.37,827.23 44.89,828.26 45.41,829.27 45.94,830.29 46.47,831.30 47.01,832.31 47.55,833.31 48.10,834.31 48.65,835.30 49.21,836.29 49.76,837.27 50.33,838.26 50.89,839.23 51.46,840.21 52.04,841.18 52.62,842.14 53.20,843.10 53.79,844.06 54.38,845.01 54.97,845.96 55.57,846.91 56.17,847.85 56.78,848.78 57.39,849.72 58.00,850.65 58.62,851.57 59.25,852.50 59.87,853.41 60.50,854.33 61.13,855.24 61.77,856.14 62.41,857.05 63.06,857.95 63.71,858.84 64.36,859.73 65.02,860.62 65.68,861.50 66.34,862.38 67.01,863.26 67.68,864.13 68.36,865.00 69.03,865.86 69.72,866.72 70.40,867.58 71.09,868.43 71.79,869.28 72.49,870.13 73.19,870.97 73.89,871.81 74.60,872.65 75.31,873.48 76.03,874.30 76.75,875.13 77.47,875.95 78.20,876.76 78.93,877.58 79.67,878.39 80.41,879.19 81.15,879.99 81.89,880.79 82.64,881.59 83.40,882.38 84.15,883.16 84.91,883.95 85.68,884.73 86.44,885.50 87.22,886.27 87.99,887.04 88.77,887.81 89.55,888.57 90.34,889.33 91.13,890.08 91.92,890.83 92.72,891.58 93.52,892.32 94.32,893.06 95.13,893.80 95.94,894.53 96.76,895.26 97.58,895.98 98.40,896.70 99.23,897.42 100.06,898.13 100.89,898.84 101.73,899.55 102.57,900.25 103.41,900.95 104.26,901.64 105.12,902.33 105.97,903.02 106.83,903.71 107.70,904.39 108.56,905.06 109.43,905.73 110.31,906.40 111.19,907.07 112.07,907.73 112.96,908.39 113.85,909.04 114.74,909.69 115.64,910.34 116.54,910.98 117.44,911.62 118.35,912.25 119.27,912.88 120.18,913.51 121.10,914.13 122.03,914.75 122.96,915.36 123.89,915.98 124.83,916.58 125.77,917.19 126.71,917.79 127.66,918.38 128.61,918.97 129.57,919.56 130.53,920.14 131.49,920.72 132.46,921.30 133.43,921.87 134.41,922.44 135.39,923.00 136.37,923.56 137.36,924.11 138.35,924.67 139.35,925.21 140.35,925.75 141.35,926.29 142.36,926.83 143.38,927.36 144.39,927.88 145.42,928.40 146.44,928.92 147.47,929.44 148.51,929.94 149.55,930.45 150.59,930.95 151.64,931.44 152.69,931.93 153.75,932.42 154.81,932.90 155.87,933.38 156.94,933.86 158.02,934.32 159.10,934.79 160.18,935.25 161.27,935.70 162.36,936.15 163.46,936.60 164.56,937.04 165.67,937.48 166.78,937.91 167.90,938.33 169.02,938.76 170.14,939.17 171.28,939.58 172.41,939.99 173.55,940.39 174.70,940.79 175.85,941.18 177.01,941.57 178.17,941.95 179.33,942.33 180.51,942.70 181.68,943.07 182.87,943.43 184.05,943.78 185.25,944.13 186.45,944.48 187.65,944.81 188.86,945.15 190.07,945.48 191.30,945.80 192.52,946.11 193.75,946.43 194.99,946.73 196.24,947.03 197.49,947.32 198.74,947.61 200.01,947.89 201.27,948.16 202.55,948.43 203.83,948.70 205.12,948.95 206.41,949.20 207.71,949.44 211.17,952.90 19.90,761.40" fill="#e97158"/>
<polygon points="28.32,769.84 28.65,770.98 28.98,772.10 29.32,773.23 29.66,774.35 30.01,775.46 30.36,776.57 30.71,777.68 31.07,778.78 31.44,779.88 31.80,780.97 32.17,782.06 32.55,783.15 32.93,784.23 33.31,785.31 33.70,786.38 34.09,787.45 34.49,788.52 34.88,789.58 35.29,790.64 35.69,791.69 36.10,792.74 36.52,793.79 36.94,794.83 37.36,795.87 37.79,796.90 38.21,797.93 38.65,798.96 39.09,799.98 39.53,801.00 39.97,802.02 40.42,803.03 40.87,804.04 41.33,805.05 41.78,806.05 42.25,807.05 42.71,808.04 43.18,809.03 43.65,810.02 44.13,811.01 44.61,811.99 45.10,812.96 45.58,813.94 46.07,814.91 46.57,815.87 47.06,816.84 47.56,817.80 48.07,818.75 48.58,819.71 49.09,820.66 49.60,821.60 50.12,822.55 50.64,823.49 51.16,824.42 51.69,825.36 52.22,826.29 52.76,827.21 53.29,828.14 53.83,829.06 54.38,829.97 54.92,830.89 55.48,831.80 56.03,832.70 56.59,833.61 57.15,834.51 57.71,835.41 58.28,836.30 58.84,837.19 59.42,838.08 59.99,838.96 60.57,839.85 61.15,840.72 61.74,841.60 62.33,842.47 62.92,843.34 63.51,844.21 64.11,845.07 64.71,845.93 65.32,846.79 65.92,847.64 66.53,848.49 67.15,849.34 67.76,850.18 68.38,851.02 69.00,851.86 69.63,852.70 70.26,853.53 70.89,854.36 71.52,855.18 72.16,856.01 72.80,856.83 73.45,857.64 74.09,858.46 74.74,859.27 75.39,860.08 76.05,860.88 76.71,861.68 77.37,862.48 78.03,863.28 78.70,864.07 79.37,864.86 80.05,865.65 80.72,866.43 81.40,867.21 82.08,867.99 82.77,868.77 83.46,869.54 84.15,870.31 84.84,871.07 85.54,871.84 86.24,872.60 86.94,873.35 87.65,874.11 88.36,874.86 89.07,875.61 89.79,876.35 90.50,877.10 91.22,877.84 91.95,878.57 92.68,879.31 93.41,880.04 94.14,880.76 94.87,881.49 95.61,882.21 96.35,882.93 97.10,883.65 97.85,884.36 98.60,885.07 99.35,885.78 100.11,886.48 100.87,887.18 101.63,887.88 102.39,888.57 103.16,889.27 103.93,889.95 104.71,890.64 105.48,891.32 106.26,892.00 107.05,892.68 107.83,893.36 108.62,894.03 109.41,894.70 110.21,895.36 111.01,896.02 111.81,896.68 112.61,897.34 113.42,897.99 114.23,898.64 115.04,899.29 115.86,899.93 116.68,900.58 117.50,901.21 118.32,901.85 119.15,902.48 119.98,903.11 120.82,903.74 121.65,904.36 122.49,904.98 123.34,905.60 124.18,906.21 125.03,906.82 125.89,907.43 126.74,908.03 127.60,908.64 128.46,909.23 129.33,909.83 130.20,910.42 131.07,911.01 131.94,911.60 132.82,912.18 133.70,912.76 134.58,913.34 135.47,913.91 136.36,914.48 137.25,915.05 138.15,915.61 139.05,916.17 139.95,916.73 140.86,917.28 141.77,917.83 142.68,918.38 143.59,918.93 144.51,919.47 145.44,920.00 146.36,920.54 147.29,921.07 148.22,921.60 149.16,922.12 150.10,922.64 151.04,923.16 151.98,923.68 152.93,924.19 153.88,924.70 154.84,925.20 155.80,925.70 156.76,926.20 157.73,926.70 158.69,927.19 159.67,927.67 160.64,928.16 161.62,928.64 162.61,929.12 163.59,929.59 164.58,930.06 165.58,930.53 166.57,930.99 167.57,931.45 168.58,931.90 169.59,932.36 170.60,932.81 171.61,933.25 172.63,933.69 173.65,934.13 174.68,934.56 175.71,934.99 176.74,935.42 177.78,935.84 178.82,936.26 179.87,936.68 180.92,937.09 181.97,937.49 183.03,937.90 184.09,938.30 185.15,938.69 186.22,939.08 187.29,939.47 188.37,939.86 189.45,940.24 190.53,940.61 191.62,940.98 192.71,941.35 193.81,941.71 194.91,942.07 196.02,942.43 197.12,942.78 198.24,943.12 199.36,943.47 200.48,943.80 201.60,944.14 202.73,944.47 211.17,952.90 19.90,761.40" fill="#db5c68"/>
<polygon points="34.25,775.78 34.64,776.76 35.02,777.73 35.41,778.71 35.80,779.68 36.19,780.65 36.59,781.61 36.99,782.57 37.39,783.53 37.80,784.49 38.21,785.44 38.62,786.39 39.03,787.34 39.45,788.28 39.87,789.22 40.29,790.16 40.72,791.10 41.14,792.03 41.58,792.96 42.01,793.89 42.45,794.82 42.88,795.74 43.33,796.66 43.77,797.57 44.22,798.49 44.67,799.40 45.12,800.31 45.58,801.21 46.03,802.12 46.50,803.02 46.96,803.92 47.43,804.81 47.89,805.70 48.37,806.59 48.84,807.48 49.32,808.37 49.79,809.25 50.28,810.13 50.76,811.00 51.25,811.88 51.74,812.75 52.23,813.62 52.72,814.49 53.22,815.35 53.72,816.21 54.22,817.07 54.73,817.93 55.24,818.78 55.75,819.63 56.26,820.48 56.77,821.33 57.29,822.17 57.81,823.01 58.33,823.85 58.86,824.69 59.38,825.52 59.91,826.36 60.45,827.18 60.98,828.01 61.52,828.84 62.06,829.66 62.60,830.48 63.14,831.29 63.69,832.11 64.24,832.92 64.79,833.73 65.35,834.54 65.90,835.34 66.46,836.14 67.02,836.94 67.59,837.74 68.15,838.54 68.72,839.33 69.29,840.12 69.86,840.91 70.44,841.69 71.02,842.48 71.60,843.26 72.18,844.04 72.77,844.81 73.35,845.58 73.94,846.36 74.54,847.13 75.13,847.89 75.73,848.66 76.33,849.42 76.93,850.18 77.53,850.93 78.14,851.69 78.75,852.44 79.36,853.19 79.97,853.94 80.59,854.69 81.21,855.43 81.83,856.17 82.45,856.91 83.07,857.65 83.70,858.38 84.33,859.11 84.96,859.84 85.60,860.57 86.23,861.29 86.87,862.01 87.51,862.73 88.16,863.45 88.80,864.17 89.45,864.88 90.10,865.59 90.75,866.30 91.41,867.01 92.06,867.71 92.72,868.41 93.39,869.11 94.05,869.81 94.72,870.50 95.38,871.20 96.06,871.89 96.73,872.57 97.40,873.26 98.08,873.94 98.76,874.62 99.44,875.30 100.13,875.98 100.82,876.65 101.51,877.32 102.20,877.99 102.89,878.66 103.59,879.33 104.29,879.99 104.99,880.65 105.69,881.31 106.40,881.96 107.10,882.62 107.81,883.27 108.53,883.92 109.24,884.56 109.96,885.21 110.68,885.85 111.40,886.49 112.12,887.12 112.85,887.76 113.58,888.39 114.31,889.02 115.04,889.65 115.78,890.28 116.51,890.90 117.25,891.52 118.00,892.14 118.74,892.76 119.49,893.37 120.24,893.98 120.99,894.59 121.74,895.20 122.50,895.80 123.26,896.40 124.02,897.00 124.78,897.60 125.55,898.20 126.32,898.79 127.09,899.38 127.86,899.97 128.63,900.56 129.41,901.14 130.19,901.72 130.97,902.30 131.76,902.87 132.54,903.45 133.33,904.02 134.13,904.59 134.92,905.16 135.72,905.72 136.52,906.28 137.32,906.84 138.12,907.40 138.93,907.95 139.74,908.51 140.55,909.06 141.36,909.60 142.18,910.15 142.99,910.69 143.81,911.23 144.64,911.77 145.46,912.31 146.29,912.84 147.12,913.37 147.96,913.90 148.79,914.42 149.63,914.94 150.47,915.47 151.31,915.98 152.16,916.50 153.01,917.01 153.86,917.52 154.71,918.03 155.56,918.54 156.42,919.04 157.28,919.54 158.15,920.04 159.01,920.53 159.88,921.02 160.75,921.51 161.62,922.00 162.50,922.49 163.38,922.97 164.26,923.45 165.14,923.93 166.03,924.40 166.92,924.87 167.81,925.34 168.70,925.81 169.60,926.27 170.50,926.73 171.40,927.19 172.31,927.65 173.22,928.10 174.13,928.55 175.04,929.00 175.95,929.44 176.87,929.89 177.79,930.33 178.72,930.76 179.64,931.20 180.57,931.63 181.51,932.06 182.44,932.48 183.38,932.91 184.32,933.33 185.26,933.74 186.21,934.16 187.16,934.57 188.11,934.98 189.07,935.39 190.02,935.79 190.98,936.19 191.95,936.59 192.91,936.98 193.88,937.37 194.86,937.76 195.83,938.15 196.81,938.53 211.17,952.90 19.90,761.40" fill="#cb4679"/>
<polygon points="40.05,781.58 40.48,782.42 40.91,783.26 41.34,784.09 41.77,784.92 42.20,785.75 42.64,786.58 43.08,787.41 43.52,788.23 43.96,789.05 44.40,789.88 44.85,790.69 45.29,791.51 45.74,792.33 46.19,793.14 46.65,793.95 47.10,794.76 47.56,795.57 48.02,796.38 48.48,797.18 48.94,797.98 49.40,798.78 49.87,799.58 50.33,800.38 50.80,801.17 51.27,801.97 51.75,802.76 52.22,803.55 52.70,804.34 53.18,805.12 53.66,805.91 54.14,806.69 54.62,807.47 55.11,808.25 55.59,809.03 56.08,809.80 56.57,810.57 57.06,811.35 57.56,812.12 58.05,812.89 58.55,813.65 59.05,814.42 59.55,815.18 60.05,815.94 60.56,816.70 61.07,817.46 61.57,818.22 62.08,818.97 62.59,819.72 63.11,820.47 63.62,821.22 64.14,821.97 64.66,822.72 65.18,823.46 65.70,824.20 66.22,824.94 66.75,825.68 67.28,826.42 67.80,827.15 68.33,827.89 68.87,828.62 69.40,829.35 69.94,830.08 70.47,830.81 71.01,831.53 71.55,832.26 72.09,832.98 72.64,833.70 73.18,834.42 73.73,835.13 74.28,835.85 74.83,836.56 75.38,837.27 75.94,837.98 76.49,838.69 77.05,839.40 77.61,840.10 78.17,840.81 78.73,841.51 79.30,842.21 79.86,842.91 80.43,843.60 81.00,844.30 81.57,844.99 82.14,845.68 82.71,846.37 83.29,847.06 83.87,847.75 84.45,848.43 85.03,849.12 85.61,849.80 86.19,850.48 86.78,851.16 87.37,851.84 87.96,852.51 88.55,853.18 89.14,853.86 89.73,854.53 90.33,855.19 90.92,855.86 91.52,856.53 92.12,857.19 92.73,857.85 93.33,858.51 93.93,859.17 94.54,859.83 95.15,860.48 95.76,861.14 96.37,861.79 96.99,862.44 97.60,863.09 98.22,863.74 98.84,864.38 99.46,865.03 100.08,865.67 100.70,866.31 101.33,866.95 101.95,867.58 102.58,868.22 103.21,868.85 103.84,869.49 104.48,870.12 105.11,870.75 105.75,871.37 106.39,872.00 107.03,872.62 107.67,873.25 108.31,873.87 108.96,874.49 109.60,875.10 110.25,875.72 110.90,876.33 111.55,876.95 112.20,877.56 112.86,878.17 113.52,878.78 114.17,879.38 114.83,879.99 115.49,880.59 116.16,881.19 116.82,881.79 117.49,882.39 118.15,882.98 118.82,883.58 119.50,884.17 120.17,884.76 120.84,885.35 121.52,885.94 122.20,886.53 122.88,887.11 123.56,887.69 124.24,888.28 124.92,888.86 125.61,889.43 126.30,890.01 126.99,890.58 127.68,891.16 128.37,891.73 129.06,892.30 129.76,892.87 130.46,893.43 131.16,894.00 131.86,894.56 132.56,895.12 133.26,895.68 133.97,896.24 134.68,896.80 135.39,897.35 136.10,897.90 136.81,898.45 137.52,899.00 138.24,899.55 138.96,900.10 139.68,900.64 140.40,901.19 141.12,901.73 141.85,902.27 142.57,902.80 143.30,903.34 144.03,903.87 144.76,904.41 145.49,904.94 146.23,905.47 146.96,905.99 147.70,906.52 148.44,907.04 149.18,907.57 149.93,908.09 150.67,908.61 151.42,909.12 152.17,909.64 152.92,910.15 153.67,910.67 154.42,911.18 155.18,911.68 155.93,912.19 156.69,912.70 157.45,913.20 158.22,913.70 158.98,914.20 159.75,914.70 160.51,915.20 161.28,915.69 162.05,916.18 162.83,916.67 163.60,917.16 164.38,917.65 165.16,918.14 165.94,918.62 166.72,919.10 167.50,919.58 168.29,920.06 169.07,920.54 169.86,921.01 170.65,921.49 171.44,921.96 172.24,922.43 173.03,922.90 173.83,923.36 174.63,923.83 175.43,924.29 176.24,924.75 177.04,925.21 177.85,925.67 178.66,926.12 179.47,926.57 180.28,927.03 181.09,927.47 181.91,927.92 182.73,928.37 183.55,928.81 184.37,929.25 185.19,929.69 186.02,930.13 186.85,930.57 187.68,931.00 188.51,931.44 189.34,931.87 190.17,932.30 191.01,932.72 211.17,952.90 19.90,761.40" fill="#b83289"/>
<polygon points="45.16,786.69 45.61,787.42 46.06,788.15 46.51,788.88 46.96,789.60 47.42,790.33 47.87,791.05 48.33,791.77 48.78,792.49 49.24,793.21 49.70,793.93 50.17,794.65 50.63,795.37 51.09,796.08 51.56,796.80 52.02,797.51 52.49,798.22 52.96,798.93 53.43,799.64 53.90,800.34 54.37,801.05 54.85,801.76 55.32,802.46 55.80,803.16 56.27,803.86 56.75,804.56 57.23,805.26 57.71,805.96 58.19,806.66 58.68,807.35 59.16,808.05 59.65,808.74 60.13,809.43 60.62,810.12 61.11,810.81 61.60,811.50 62.09,812.19 62.59,812.87 63.08,813.56 63.58,814.24 64.07,814.93 64.57,815.61 65.07,816.29 65.57,816.97 66.07,817.64 66.57,818.32 67.07,818.99 67.58,819.67 68.08,820.34 68.59,821.01 69.10,821.68 69.61,822.35 70.12,823.02 70.63,823.69 71.14,824.35 71.66,825.02 72.17,825.68 72.69,826.34 73.21,827.01 73.73,827.67 74.25,828.32 74.77,828.98 75.29,829.64 75.81,830.29 76.34,830.95 76.86,831.60 77.39,832.25 77.92,832.90 78.45,833.55 78.98,834.20 79.51,834.85 80.04,835.49 80.57,836.14 81.11,836.78 81.64,837.43 82.18,838.07 82.72,838.71 83.26,839.35 83.80,839.98 84.34,840.62 84.89,841.26 85.43,841.89 85.98,842.52 86.52,843.16 87.07,843.79 87.62,844.42 88.17,845.05 88.72,845.67 89.27,846.30 89.82,846.92 90.38,847.55 90.93,848.17 91.49,848.79 92.05,849.41 92.61,850.03 93.17,850.65 93.73,851.27 94.29,851.88 94.86,852.50 95.42,853.11 95.99,853.73 96.55,854.34 97.12,854.95 97.69,855.56 98.26,856.16 98.84,856.77 99.41,857.38 99.98,857.98 100.56,858.58 101.13,859.19 101.71,859.79 102.29,860.39 102.87,860.99 103.45,861.58 104.03,862.18 104.62,862.78 105.20,863.37 105.79,863.96 106.37,864.55 106.96,865.15 107.55,865.74 108.14,866.32 108.73,866.91 109.32,867.50 109.92,868.08 110.51,868.67 111.11,869.25 111.70,869.83 112.30,870.41 112.90,870.99 113.50,871.57 114.10,872.15 114.70,872.72 115.31,873.30 115.91,873.87 116.52,874.44 117.13,875.01 117.74,875.58 118.34,876.15 118.96,876.72 119.57,877.29 120.18,877.85 120.79,878.42 121.41,878.98 122.03,879.54 122.64,880.10 123.26,880.66 123.88,881.22 124.50,881.78 125.12,882.34 125.75,882.89 126.37,883.44 127.00,884.00 127.62,884.55 128.25,885.10 128.88,885.65 129.51,886.20 130.14,886.75 130.78,887.29 131.41,887.84 132.04,888.38 132.68,888.92 133.32,889.46 133.96,890.00 134.59,890.54 135.24,891.08 135.88,891.62 136.52,892.15 137.16,892.69 137.81,893.22 138.46,893.75 139.10,894.28 139.75,894.81 140.40,895.34 141.05,895.87 141.70,896.40 142.36,896.92 143.01,897.44 143.67,897.97 144.33,898.49 144.98,899.01 145.64,899.53 146.30,900.05 146.96,900.56 147.63,901.08 148.29,901.59 148.96,902.11 149.62,902.62 150.29,903.13 150.96,903.64 151.63,904.15 152.30,904.66 152.97,905.16 153.64,905.67 154.32,906.17 154.99,906.68 155.67,907.18 156.35,907.68 157.03,908.18 157.71,908.68 158.39,909.17 159.07,909.67 159.76,910.16 160.44,910.66 161.13,911.15 161.82,911.64 162.50,912.13 163.19,912.62 163.88,913.10 164.58,913.59 165.27,914.08 165.97,914.56 166.66,915.04 167.36,915.52 168.06,916.00 168.76,916.48 169.46,916.96 170.16,917.44 170.86,917.91 171.57,918.39 172.27,918.86 172.98,919.33 173.69,919.80 174.39,920.27 175.11,920.74 175.82,921.20 176.53,921.67 177.24,922.13 177.96,922.60 178.68,923.06 179.39,923.52 180.11,923.98 180.83,924.44 181.55,924.90 182.28,925.35 183.00,925.81 183.72,926.26 184.45,926.71 185.18,927.16 185.91,927.61 211.17,952.90 19.90,761.40" fill="#a31e9a"/>
<polygon points="50.96,792.50 51.39,793.15 51.82,793.80 52.25,794.45 52.69,795.09 53.12,795.74 53.56,796.38 53.99,797.03 54.43,797.67 54.87,798.32 55.31,798.96 55.75,799.60 56.19,800.24 56.64,800.88 57.08,801.52 57.52,802.15 57.97,802.79 58.42,803.42 58.86,804.06 59.31,804.69 59.76,805.32 60.21,805.95 60.66,806.59 61.11,807.21 61.57,807.84 62.02,808.47 62.48,809.10 62.93,809.72 63.39,810.35 63.85,810.97 64.30,811.60 64.76,812.22 65.22,812.84 65.69,813.46 66.15,814.08 66.61,814.70 67.07,815.31 67.54,815.93 68.01,816.55 68.47,817.16 68.94,817.77 69.41,818.39 69.88,819.00 70.35,819.61 70.82,820.22 71.29,820.83 71.77,821.44 72.24,822.04 72.72,822.65 73.19,823.26 73.67,823.86 74.15,824.46 74.63,825.07 75.11,825.67 75.59,826.27 76.07,826.87 76.55,827.47 77.03,828.07 77.52,828.66 78.00,829.26 78.49,829.85 78.98,830.45 79.47,831.04 79.95,831.64 80.44,832.23 80.93,832.82 81.43,833.41 81.92,834.00 82.41,834.58 82.91,835.17 83.40,835.76 83.90,836.34 84.40,836.93 84.89,837.51 85.39,838.09 85.89,838.68 86.39,839.26 86.89,839.84 87.40,840.41 87.90,840.99 88.40,841.57 88.91,842.15 89.42,842.72 89.92,843.30 90.43,843.87 90.94,844.44 91.45,845.01 91.96,845.58 92.47,846.15 92.98,846.72 93.50,847.29 94.01,847.86 94.53,848.43 95.04,848.99 95.56,849.55 96.08,850.12 96.60,850.68 97.12,851.24 97.64,851.80 98.16,852.36 98.68,852.92 99.20,853.48 99.73,854.04 100.25,854.59 100.78,855.15 101.31,855.70 101.83,856.26 102.36,856.81 102.89,857.36 103.42,857.91 103.95,858.46 104.49,859.01 105.02,859.56 105.55,860.11 106.09,860.65 106.63,861.20 107.16,861.75 107.70,862.29 108.24,862.83 108.78,863.37 109.32,863.91 109.86,864.45 110.40,864.99 110.94,865.53 111.49,866.07 112.03,866.61 112.58,867.14 113.13,867.68 113.67,868.21 114.22,868.74 114.77,869.28 115.32,869.81 115.87,870.34 116.43,870.87 116.98,871.39 117.53,871.92 118.09,872.45 118.64,872.97 119.20,873.50 119.76,874.02 120.32,874.55 120.87,875.07 121.43,875.59 122.00,876.11 122.56,876.63 123.12,877.15 123.68,877.67 124.25,878.18 124.81,878.70 125.38,879.21 125.95,879.73 126.52,880.24 127.09,880.75 127.66,881.26 128.23,881.77 128.80,882.28 129.37,882.79 129.95,883.30 130.52,883.81 131.10,884.31 131.67,884.82 132.25,885.32 132.83,885.82 133.41,886.33 133.99,886.83 134.57,887.33 135.15,887.83 135.73,888.33 136.32,888.82 136.90,889.32 137.49,889.82 138.07,890.31 138.66,890.81 139.25,891.30 139.84,891.79 140.43,892.28 141.02,892.77 141.61,893.26 142.20,893.75 142.80,894.24 143.39,894.73 143.99,895.21 144.58,895.70 145.18,896.18 145.78,896.66 146.38,897.15 146.98,897.63 147.58,898.11 148.18,898.59 148.78,899.07 149.39,899.54 149.99,900.02 150.60,900.50 151.20,900.97 151.81,901.44 152.42,901.92 153.03,902.39 153.64,902.86 154.25,903.33 154.86,903.80 155.48,904.27 156.09,904.74 156.70,905.20 157.32,905.67 157.94,906.13 158.55,906.60 159.17,907.06 159.79,907.52 160.41,907.98 161.03,908.44 161.66,908.90 162.28,909.36 162.90,909.82 163.53,910.27 164.15,910.73 164.78,911.18 165.41,911.64 166.04,912.09 166.67,912.54 167.30,912.99 167.93,913.44 168.56,913.89 169.20,914.34 169.83,914.78 170.47,915.23 171.10,915.68 171.74,916.12 172.38,916.56 173.02,917.01 173.66,917.45 174.30,917.89 174.94,918.33 175.58,918.76 176.23,919.20 176.87,919.64 177.52,920.07 178.16,920.51 178.81,920.94 179.46,921.38 180.11,921.81 211.17,952.90 19.90,761.40" fill="#8b0aa5"/>
<polygon points="57.16,798.71 57.57,799.28 57.97,799.85 58.38,800.42 58.79,800.99 59.19,801.56 59.60,802.13 60.01,802.70 60.42,803.27 60.83,803.83 61.24,804.40 61.66,804.97 62.07,805.53 62.48,806.09 62.90,806.66 63.31,807.22 63.73,807.78 64.15,808.34 64.56,808.90 64.98,809.46 65.40,810.02 65.82,810.58 66.24,811.14 66.66,811.69 67.08,812.25 67.50,812.81 67.93,813.36 68.35,813.91 68.77,814.47 69.20,815.02 69.63,815.57 70.05,816.12 70.48,816.67 70.91,817.22 71.34,817.77 71.76,818.32 72.19,818.87 72.63,819.42 73.06,819.96 73.49,820.51 73.92,821.05 74.36,821.60 74.79,822.14 75.22,822.68 75.66,823.22 76.10,823.76 76.53,824.31 76.97,824.85 77.41,825.38 77.85,825.92 78.29,826.46 78.73,827.00 79.17,827.53 79.61,828.07 80.06,828.60 80.50,829.14 80.94,829.67 81.39,830.20 81.83,830.74 82.28,831.27 82.73,831.80 83.17,832.33 83.62,832.86 84.07,833.39 84.52,833.91 84.97,834.44 85.42,834.97 85.87,835.49 86.33,836.02 86.78,836.54 87.23,837.07 87.69,837.59 88.14,838.11 88.60,838.63 89.06,839.16 89.51,839.68 89.97,840.20 90.43,840.71 90.89,841.23 91.35,841.75 91.81,842.27 92.27,842.78 92.73,843.30 93.20,843.81 93.66,844.33 94.12,844.84 94.59,845.35 95.06,845.86 95.52,846.38 95.99,846.89 96.46,847.40 96.93,847.91 97.39,848.41 97.86,848.92 98.33,849.43 98.81,849.93 99.28,850.44 99.75,850.95 100.22,851.45 100.70,851.95 101.17,852.46 101.65,852.96 102.12,853.46 102.60,853.96 103.08,854.46 103.56,854.96 104.03,855.46 104.51,855.96 104.99,856.45 105.48,856.95 105.96,857.45 106.44,857.94 106.92,858.44 107.41,858.93 107.89,859.42 108.37,859.92 108.86,860.41 109.35,860.90 109.83,861.39 110.32,861.88 110.81,862.37 111.30,862.86 111.79,863.34 112.28,863.83 112.77,864.32 113.26,864.80 113.76,865.29 114.25,865.77 114.74,866.26 115.24,866.74 115.73,867.22 116.23,867.70 116.73,868.18 117.22,868.66 117.72,869.14 118.22,869.62 118.72,870.10 119.22,870.58 119.72,871.05 120.22,871.53 120.72,872.00 121.23,872.48 121.73,872.95 122.24,873.43 122.74,873.90 123.25,874.37 123.75,874.84 124.26,875.31 124.77,875.78 125.28,876.25 125.79,876.72 126.30,877.19 126.81,877.65 127.32,878.12 127.83,878.59 128.34,879.05 128.86,879.51 129.37,879.98 129.88,880.44 130.40,880.90 130.92,881.36 131.43,881.82 131.95,882.28 132.47,882.74 132.99,883.20 133.51,883.66 134.03,884.12 134.55,884.57 135.07,885.03 135.59,885.48 136.12,885.94 136.64,886.39 137.16,886.85 137.69,887.30 138.22,887.75 138.74,888.20 139.27,888.65 139.80,889.10 140.33,889.55 140.86,890.00 141.39,890.44 141.92,890.89 142.45,891.34 142.98,891.78 143.51,892.23 144.05,892.67 144.58,893.11 145.12,893.56 145.65,894.00 146.19,894.44 146.72,894.88 147.26,895.32 147.80,895.76 148.34,896.20 148.88,896.64 149.42,897.07 149.96,897.51 150.50,897.94 151.05,898.38 151.59,898.81 152.13,899.25 152.68,899.68 153.22,900.11 153.77,900.54 154.32,900.97 154.86,901.40 155.41,901.83 155.96,902.26 156.51,902.69 157.06,903.11 157.61,903.54 158.17,903.97 158.72,904.39 159.27,904.82 159.82,905.24 160.38,905.66 160.94,906.08 161.49,906.51 162.05,906.93 162.61,907.35 163.16,907.76 163.72,908.18 164.28,908.60 164.84,909.02 165.40,909.43 165.97,909.85 166.53,910.27 167.09,910.68 167.66,911.09 168.22,911.51 168.79,911.92 169.35,912.33 169.92,912.74 170.49,913.15 171.05,913.56 171.62,913.97 172.19,914.37 172.76,914.78 173.33,915.19 173.91,915.59 211.17,952.90 19.90,761.40" fill="#6f00a8"/>
<polygon points="64.07,805.63 64.44,806.12 64.81,806.61 65.18,807.11 65.55,807.60 65.92,808.09 66.29,808.58 66.66,809.07 67.03,809.56 67.40,810.05 67.78,810.54 68.15,811.03 68.52,811.52 68.90,812.00 69.27,812.49 69.65,812.98 70.03,813.46 70.40,813.95 70.78,814.43 71.16,814.91 71.54,815.40 71.91,815.88 72.29,816.36 72.67,816.85 73.05,817.33 73.44,817.81 73.82,818.29 74.20,818.77 74.58,819.25 74.97,819.73 75.35,820.20 75.73,820.68 76.12,821.16 76.50,821.64 76.89,822.11 77.28,822.59 77.66,823.06 78.05,823.54 78.44,824.01 78.83,824.48 79.21,824.96 79.60,825.43 79.99,825.90 80.38,826.37 80.78,826.84 81.17,827.31 81.56,827.78 81.95,828.25 82.35,828.72 82.74,829.19 83.13,829.66 83.53,830.12 83.92,830.59 84.32,831.06 84.72,831.52 85.11,831.99 85.51,832.45 85.91,832.92 86.31,833.38 86.70,833.84 87.10,834.31 87.50,834.77 87.90,835.23 88.31,835.69 88.71,836.15 89.11,836.61 89.51,837.07 89.91,837.53 90.32,837.99 90.72,838.44 91.13,838.90 91.53,839.36 91.94,839.81 92.34,840.27 92.75,840.72 93.16,841.18 93.57,841.63 93.97,842.09 94.38,842.54 94.79,842.99 95.20,843.44 95.61,843.90 96.02,844.35 96.43,844.80 96.85,845.25 97.26,845.70 97.67,846.15 98.09,846.59 98.50,847.04 98.91,847.49 99.33,847.94 99.75,848.38 100.16,848.83 100.58,849.27 101.00,849.72 101.41,850.16 101.83,850.60 102.25,851.05 102.67,851.49 103.09,851.93 103.51,852.37 103.93,852.82 104.35,853.26 104.77,853.70 105.20,854.14 105.62,854.57 106.04,855.01 106.47,855.45 106.89,855.89 107.31,856.33 107.74,856.76 108.17,857.20 108.59,857.63 109.02,858.07 109.45,858.50 109.88,858.94 110.30,859.37 110.73,859.80 111.16,860.23 111.59,860.67 112.02,861.10 112.45,861.53 112.89,861.96 113.32,862.39 113.75,862.82 114.18,863.24 114.62,863.67 115.05,864.10 115.49,864.53 115.92,864.95 116.36,865.38 116.79,865.81 117.23,866.23 117.67,866.65 118.11,867.08 118.55,867.50 118.98,867.92 119.42,868.35 119.86,868.77 120.30,869.19 120.75,869.61 121.19,870.03 121.63,870.45 122.07,870.87 122.51,871.29 122.96,871.71 123.40,872.12 123.85,872.54 124.29,872.96 124.74,873.37 125.18,873.79 125.63,874.21 126.08,874.62 126.53,875.03 126.97,875.45 127.42,875.86 127.87,876.27 128.32,876.68 128.77,877.10 129.22,877.51 129.68,877.92 130.13,878.33 130.58,878.74 131.03,879.15 131.49,879.55 131.94,879.96 132.39,880.37 132.85,880.78 133.31,881.18 133.76,881.59 134.22,881.99 134.68,882.40 135.13,882.80 135.59,883.20 136.05,883.61 136.51,884.01 136.97,884.41 137.43,884.81 137.89,885.21 138.35,885.61 138.81,886.01 139.28,886.41 139.74,886.81 140.20,887.21 140.67,887.61 141.13,888.01 141.60,888.40 142.06,888.80 142.53,889.20 142.99,889.59 143.46,889.99 143.93,890.38 144.40,890.77 144.87,891.17 145.33,891.56 145.80,891.95 146.27,892.34 146.75,892.73 147.22,893.12 147.69,893.51 148.16,893.90 148.63,894.29 149.11,894.68 149.58,895.07 150.06,895.46 150.53,895.84 151.01,896.23 151.48,896.61 151.96,897.00 152.44,897.38 152.91,897.77 153.39,898.15 153.87,898.53 154.35,898.92 154.83,899.30 155.31,899.68 155.79,900.06 156.27,900.44 156.75,900.82 157.24,901.20 157.72,901.58 158.20,901.96 158.69,902.34 159.17,902.71 159.66,903.09 160.14,903.47 160.63,903.84 161.11,904.22 161.60,904.59 162.09,904.97 162.58,905.34 163.07,905.71 163.56,906.09 164.05,906.46 164.54,906.83 165.03,907.20 165.52,907.57 166.01,907.94 166.50,908.31 167.00,908.68 211.17,952.90 19.90,761.40" fill="#5302a3"/>
<polygon points="71.66,813.23 71.98,813.64 72.31,814.05 72.63,814.46 72.96,814.87 73.29,815.27 73.61,815.68 73.94,816.09 74.27,816.50 74.59,816.91 74.92,817.31 75.25,817.72 75.58,818.13 75.91,818.53 76.24,818.94 76.57,819.34 76.90,819.75 77.23,820.15 77.56,820.56 77.89,820.96 78.22,821.36 78.55,821.77 78.88,822.17 79.21,822.57 79.55,822.97 79.88,823.38 80.21,823.78 80.55,824.18 80.88,824.58 81.22,824.98 81.55,825.38 81.89,825.78 82.22,826.18 82.56,826.58 82.90,826.97 83.23,827.37 83.57,827.77 83.91,828.17 84.24,828.56 84.58,828.96 84.92,829.36 85.26,829.75 85.60,830.15 85.94,830.54 86.28,830.94 86.62,831.33 86.96,831.73 87.30,832.12 87.64,832.51 87.98,832.91 88.33,833.30 88.67,833.69 89.01,834.08 89.36,834.47 89.70,834.86 90.04,835.26 90.39,835.65 90.73,836.04 91.08,836.43 91.42,836.82 91.77,837.20 92.11,837.59 92.46,837.98 92.81,838.37 93.15,838.76 93.50,839.14 93.85,839.53 94.20,839.92 94.55,840.30 94.90,840.69 95.24,841.07 95.59,841.46 95.94,841.84 96.29,842.23 96.65,842.61 97.00,843.00 97.35,843.38 97.70,843.76 98.05,844.15 98.40,844.53 98.76,844.91 99.11,845.29 99.46,845.67 99.82,846.05 100.17,846.43 100.53,846.81 100.88,847.19 101.24,847.57 101.59,847.95 101.95,848.33 102.31,848.71 102.66,849.09 103.02,849.46 103.38,849.84 103.73,850.22 104.09,850.59 104.45,850.97 104.81,851.35 105.17,851.72 105.53,852.10 105.89,852.47 106.25,852.85 106.61,853.22 106.97,853.59 107.33,853.97 107.70,854.34 108.06,854.71 108.42,855.08 108.78,855.46 109.15,855.83 109.51,856.20 109.87,856.57 110.24,856.94 110.60,857.31 110.97,857.68 111.33,858.05 111.70,858.42 112.06,858.79 112.43,859.15 112.80,859.52 113.16,859.89 113.53,860.26 113.90,860.62 114.27,860.99 114.64,861.36 115.01,861.72 115.37,862.09 115.74,862.45 116.11,862.82 116.48,863.18 116.86,863.55 117.23,863.91 117.60,864.27 117.97,864.64 118.34,865.00 118.71,865.36 119.09,865.72 119.46,866.08 119.83,866.45 120.21,866.81 120.58,867.17 120.96,867.53 121.33,867.89 121.71,868.25 122.08,868.61 122.46,868.96 122.84,869.32 123.21,869.68 123.59,870.04 123.97,870.39 124.34,870.75 124.72,871.11 125.10,871.46 125.48,871.82 125.86,872.18 126.24,872.53 126.62,872.89 127.00,873.24 127.38,873.59 127.76,873.95 128.14,874.30 128.52,874.65 128.91,875.01 129.29,875.36 129.67,875.71 130.05,876.06 130.44,876.41 130.82,876.76 131.21,877.11 131.59,877.46 131.98,877.81 132.36,878.16 132.75,878.51 133.13,878.86 133.52,879.21 133.91,879.56 134.29,879.90 134.68,880.25 135.07,880.60 135.46,880.95 135.84,881.29 136.23,881.64 136.62,881.98 137.01,882.33 137.40,882.67 137.79,883.02 138.18,883.36 138.57,883.70 138.97,884.05 139.36,884.39 139.75,884.73 140.14,885.08 140.54,885.42 140.93,885.76 141.32,886.10 141.72,886.44 142.11,886.78 142.50,887.12 142.90,887.46 143.30,887.80 143.69,888.14 144.09,888.48 144.48,888.82 144.88,889.15 145.28,889.49 145.67,889.83 146.07,890.17 146.47,890.50 146.87,890.84 147.27,891.17 147.67,891.51 148.07,891.84 148.47,892.18 148.87,892.51 149.27,892.85 149.67,893.18 150.07,893.51 150.47,893.85 150.88,894.18 151.28,894.51 151.68,894.84 152.08,895.17 152.49,895.51 152.89,895.84 153.30,896.17 153.70,896.50 154.11,896.83 154.51,897.15 154.92,897.48 155.32,897.81 155.73,898.14 156.14,898.47 156.54,898.80 156.95,899.12 157.36,899.45 157.77,899.78 158.18,900.10 158.59,900.43 158.99,900.75 159.40,901.08 211.17,952.90 19.90,761.40" fill="#350498"/>
<polygon points="80.63,822.20 80.89,822.52 81.16,822.84 81.43,823.15 81.70,823.47 81.97,823.78 82.24,824.10 82.51,824.41 82.78,824.73 83.05,825.05 83.32,825.36 83.59,825.67 83.86,825.99 84.13,826.30 84.40,826.62 84.67,826.93 84.94,827.24 85.21,827.56 85.48,827.87 85.75,828.18 86.02,828.50 86.30,828.81 86.57,829.12 86.84,829.43 87.11,829.75 87.39,830.06 87.66,830.37 87.93,830.68 88.21,830.99 88.48,831.30 88.75,831.61 89.03,831.92 89.30,832.23 89.58,832.54 89.85,832.85 90.13,833.16 90.40,833.47 90.68,833.78 90.95,834.09 91.23,834.40 91.50,834.71 91.78,835.02 92.06,835.33 92.33,835.63 92.61,835.94 92.89,836.25 93.16,836.56 93.44,836.86 93.72,837.17 94.00,837.48 94.27,837.79 94.55,838.09 94.83,838.40 95.11,838.70 95.39,839.01 95.67,839.32 95.94,839.62 96.22,839.93 96.50,840.23 96.78,840.54 97.06,840.84 97.34,841.15 97.62,841.45 97.90,841.75 98.19,842.06 98.47,842.36 98.75,842.66 99.03,842.97 99.31,843.27 99.59,843.57 99.87,843.88 100.16,844.18 100.44,844.48 100.72,844.78 101.00,845.08 101.29,845.39 101.57,845.69 101.85,845.99 102.14,846.29 102.42,846.59 102.70,846.89 102.99,847.19 103.27,847.49 103.56,847.79 103.84,848.09 104.13,848.39 104.41,848.69 104.70,848.99 104.98,849.29 105.27,849.59 105.56,849.89 105.84,850.18 106.13,850.48 106.42,850.78 106.70,851.08 106.99,851.38 107.28,851.67 107.56,851.97 107.85,852.27 108.14,852.56 108.43,852.86 108.72,853.16 109.00,853.45 109.29,853.75 109.58,854.04 109.87,854.34 110.16,854.63 110.45,854.93 110.74,855.22 111.03,855.52 111.32,855.81 111.61,856.11 111.90,856.40 112.19,856.70 112.48,856.99 112.77,857.28 113.06,857.58 113.36,857.87 113.65,858.16 113.94,858.45 114.23,858.75 114.52,859.04 114.82,859.33 115.11,859.62 115.40,859.92 115.69,860.21 115.99,860.50 116.28,860.79 116.58,861.08 116.87,861.37 117.16,861.66 117.46,861.95 117.75,862.24 118.05,862.53 118.34,862.82 118.64,863.11 118.93,863.40 119.23,863.69 119.52,863.98 119.82,864.27 120.12,864.55 120.41,864.84 120.71,865.13 121.01,865.42 121.30,865.71 121.60,865.99 121.90,866.28 122.19,866.57 122.49,866.85 122.79,867.14 123.09,867.43 123.39,867.71 123.69,868.00 123.98,868.28 124.28,868.57 124.58,868.86 124.88,869.14 125.18,869.43 125.48,869.71 125.78,870.00 126.08,870.28 126.38,870.56 126.68,870.85 126.98,871.13 127.28,871.41 127.59,871.70 127.89,871.98 128.19,872.26 128.49,872.55 128.79,872.83 129.09,873.11 129.40,873.39 129.70,873.68 130.00,873.96 130.31,874.24 130.61,874.52 130.91,874.80 131.22,875.08 131.52,875.36 131.82,875.64 132.13,875.92 132.43,876.20 132.74,876.48 133.04,876.76 133.35,877.04 133.65,877.32 133.96,877.60 134.26,877.88 134.57,878.16 134.88,878.44 135.18,878.72 135.49,878.99 135.80,879.27 136.10,879.55 136.41,879.83 136.72,880.10 137.02,880.38 137.33,880.66 137.64,880.93 137.95,881.21 138.26,881.49 138.56,881.76 138.87,882.04 139.18,882.31 139.49,882.59 139.80,882.86 140.11,883.14 140.42,883.41 140.73,883.69 141.04,883.96 141.35,884.24 141.66,884.51 141.97,884.79 142.28,885.06 142.59,885.33 142.91,885.61 143.22,885.88 143.53,886.15 143.84,886.42 144.15,886.70 144.47,886.97 144.78,887.24 145.09,887.51 145.40,887.78 145.72,888.05 146.03,888.33 146.34,888.60 146.66,888.87 146.97,889.14 147.29,889.41 147.60,889.68 147.92,889.95 148.23,890.22 148.55,890.49 148.86,890.76 149.18,891.03 149.49,891.29 149.81,891.56 150.12,891.83 150.44,892.10 211.17,952.90 19.90,761.40" fill="#0d0887"/>
<line x1="19.90" y1="761.40" x2="211.17" y2="952.90" stroke="#f6bf3b" stroke-width="1.15" stroke-opacity="0.95" transform="translate(0.25 -0.25)"/>
<line x1="104.08" y1="847.34" x2="122.85" y2="866.13" stroke="#6fa8dc" stroke-width="0.8" stroke-dasharray="0.7 0.5"/>
</g>
<path d="M268.3 704.2V952.9" stroke="#9c9c9c" stroke-width="1.15" fill="none"/>
<path d="M15.399999999999999 952.9H268.3" stroke="#9c9c9c" stroke-width="1.15" fill="none"/>
<path d="M268.3 952.90h4M19.90 952.9v4M268.3 939.08h4M33.70 952.9v4M268.3 925.27h4M47.50 952.9v4M268.3 911.45h4M61.30 952.9v4M268.3 897.63h4M75.10 952.9v4M268.3 883.82h4M88.90 952.9v4M268.3 870.00h4M102.70 952.9v4M268.3 856.18h4M116.50 952.9v4M268.3 842.37h4M130.30 952.9v4M268.3 828.55h4M144.10 952.9v4M268.3 814.73h4M157.90 952.9v4M268.3 800.92h4M171.70 952.9v4M268.3 787.10h4M185.50 952.9v4M268.3 773.28h4M199.30 952.9v4M268.3 759.47h4M213.10 952.9v4M268.3 745.65h4M226.90 952.9v4M268.3 731.83h4M240.70 952.9v4M268.3 718.02h4M254.50 952.9v4M268.3 704.20h4M268.30 952.9v4" stroke="#9c9c9c" stroke-width="1.15" fill="none"/>
<path d="M19.9 952.9V704.2H268.3" stroke="#7f7f7f" stroke-width="1.4" fill="none"/>
<text x="275.3" y="957.50" class="t r">0</text>
<text x="275.3" y="943.74" class="t r">100</text>
<text x="275.3" y="929.98" class="t r">200</text>
<text x="275.3" y="916.22" class="t r">300</text>
<text x="275.3" y="902.46" class="t r">400</text>
<text x="275.3" y="888.69" class="t r">500</text>
<text x="275.3" y="874.93" class="t r">600</text>
<text x="275.3" y="861.17" class="t r">700</text>
<text x="275.3" y="847.41" class="t r">800</text>
<text x="275.3" y="833.65" class="t r">900</text>
<text x="275.3" y="819.89" class="t r">1000</text>
<text x="275.3" y="806.13" class="t r">1100</text>
<text x="275.3" y="792.37" class="t r">1200</text>
<text x="275.3" y="778.61" class="t r">1300</text>
<text x="275.3" y="764.84" class="t r">1400</text>
<text x="275.3" y="751.08" class="t r">1500</text>
<text x="275.3" y="737.32" class="t r">1600</text>
<text x="275.3" y="723.56" class="t r">1700</text>
<text x="275.3" y="709.80" class="t r">1800</text>
<text transform="translate(23.80 960.2) rotate(-90)" text-anchor="end" class="t">0</text>
<text transform="translate(37.60 960.2) rotate(-90)" text-anchor="end" class="t">100</text>
<text transform="translate(51.40 960.2) rotate(-90)" text-anchor="end" class="t">200</text>
<text transform="translate(65.20 960.2) rotate(-90)" text-anchor="end" class="t">300</text>
<text transform="translate(79.00 960.2) rotate(-90)" text-anchor="end" class="t">400</text>
<text transform="translate(92.80 960.2) rotate(-90)" text-anchor="end" class="t">500</text>
<text transform="translate(106.60 960.2) rotate(-90)" text-anchor="end" class="t">600</text>
<text transform="translate(120.40 960.2) rotate(-90)" text-anchor="end" class="t">700</text>
<text transform="translate(134.20 960.2) rotate(-90)" text-anchor="end" class="t">800</text>
<text transform="translate(148.00 960.2) rotate(-90)" text-anchor="end" class="t">900</text>
<text transform="translate(161.80 960.2) rotate(-90)" text-anchor="end" class="t">1 000</text>
<text transform="translate(175.60 960.2) rotate(-90)" text-anchor="end" class="t">1 100</text>
<text transform="translate(189.40 960.2) rotate(-90)" text-anchor="end" class="t">1 200</text>
<text transform="translate(203.20 960.2) rotate(-90)" text-anchor="end" class="t">1 300</text>
<text transform="translate(217.00 960.2) rotate(-90)" text-anchor="end" class="t">1 400</text>
<text transform="translate(230.80 960.2) rotate(-90)" text-anchor="end" class="t">1 500</text>
<text transform="translate(244.60 960.2) rotate(-90)" text-anchor="end" class="t">1 600</text>
<text transform="translate(258.40 960.2) rotate(-90)" text-anchor="end" class="t">1 700</text>
<text transform="translate(272.20 960.2) rotate(-90)" text-anchor="end" class="t">1 800</text>
<text x="142.1" y="1001.4" text-anchor="middle" class="a" textLength="146.6" lengthAdjust="spacingAndGlyphs">TF INTENSITY DIR. A [VEH/H]</text>
<text transform="translate(316.9 828.8) rotate(-90)" text-anchor="middle" class="a yb" textLength="144.5" lengthAdjust="spacingAndGlyphs">TF INTENSITY DIR. B [VEH/H]</text>
<text x="168.8" y="1022.3" text-anchor="middle" class="c">e)</text>
<rect x="350.5" y="693.7" width="332.5" height="313.5999999999999" fill="#fff" stroke="#bdbdbd" stroke-width="1"/>
<clipPath id="cp5"><rect x="367.9" y="704.2" width="248.39999999999998" height="248.69999999999993"/></clipPath>
<g clip-path="url(#cp5)">
<polygon points="367.90,952.90 512.66,952.90 367.90,807.96" fill="#f0f921"/>
<polygon points="367.90,904.00 368.05,904.26 368.20,904.52 368.35,904.78 368.50,905.04 368.65,905.30 368.80,905.55 368.95,905.81 369.10,906.07 369.26,906.33 369.41,906.58 369.56,906.84 369.72,907.09 369.87,907.35 370.02,907.60 370.18,907.86 370.34,908.11 370.49,908.36 370.65,908.62 370.81,908.87 370.96,909.12 371.12,909.37 371.28,909.62 371.44,909.87 371.60,910.12 371.76,910.37 371.92,910.62 372.08,910.86 372.24,911.11 372.40,911.36 372.57,911.61 372.73,911.85 372.89,912.10 373.06,912.34 373.22,912.59 373.39,912.83 373.55,913.07 373.72,913.32 373.88,913.56 374.05,913.80 374.22,914.04 374.39,914.28 374.55,914.53 374.72,914.77 374.89,915.01 375.06,915.24 375.23,915.48 375.40,915.72 375.57,915.96 375.75,916.20 375.92,916.43 376.09,916.67 376.26,916.91 376.44,917.14 376.61,917.38 376.79,917.61 376.96,917.85 377.14,918.08 377.31,918.31 377.49,918.54 377.66,918.78 377.84,919.01 378.02,919.24 378.20,919.47 378.38,919.70 378.56,919.93 378.74,920.16 378.92,920.39 379.10,920.62 379.28,920.85 379.46,921.07 379.64,921.30 379.82,921.53 380.01,921.75 380.19,921.98 380.37,922.20 380.56,922.43 380.74,922.65 380.93,922.88 381.11,923.10 381.30,923.32 381.48,923.55 381.67,923.77 381.86,923.99 382.05,924.21 382.24,924.43 382.42,924.65 382.61,924.87 382.80,925.09 382.99,925.31 383.18,925.53 383.38,925.74 383.57,925.96 383.76,926.18 383.95,926.40 384.14,926.61 384.34,926.83 384.53,927.04 384.73,927.26 384.92,927.47 385.12,927.68 385.31,927.90 385.51,928.11 385.70,928.32 385.90,928.53 386.10,928.75 386.30,928.96 386.50,929.17 386.69,929.38 386.89,929.59 387.09,929.80 387.29,930.00 387.49,930.21 387.70,930.42 387.90,930.63 388.10,930.84 388.30,931.04 388.50,931.25 388.71,931.45 388.91,931.66 389.12,931.86 389.32,932.07 389.53,932.27 389.73,932.47 389.94,932.68 390.14,932.88 390.35,933.08 390.56,933.28 390.77,933.48 390.98,933.68 391.18,933.88 391.39,934.08 391.60,934.28 391.81,934.48 392.02,934.68 392.24,934.88 392.45,935.07 392.66,935.27 392.87,935.47 393.09,935.66 393.30,935.86 393.51,936.05 393.73,936.25 393.94,936.44 394.16,936.64 394.37,936.83 394.59,937.02 394.81,937.21 395.02,937.41 395.24,937.60 395.46,937.79 395.68,937.98 395.90,938.17 396.12,938.36 396.34,938.55 396.56,938.74 396.78,938.92 397.00,939.11 397.22,939.30 397.44,939.49 397.66,939.67 397.89,939.86 398.11,940.04 398.33,940.23 398.56,940.41 398.78,940.60 399.01,940.78 399.24,940.96 399.46,941.15 399.69,941.33 399.92,941.51 400.14,941.69 400.37,941.87 400.60,942.05 400.83,942.23 401.06,942.41 401.29,942.59 401.52,942.77 401.75,942.95 401.98,943.12 402.21,943.30 402.45,943.48 402.68,943.65 402.91,943.83 403.15,944.00 403.38,944.18 403.62,944.35 403.85,944.53 404.09,944.70 404.32,944.87 404.56,945.04 404.80,945.22 405.03,945.39 405.27,945.56 405.51,945.73 405.75,945.90 405.99,946.07 406.23,946.24 406.47,946.41 406.71,946.57 406.95,946.74 407.19,946.91 407.44,947.08 407.68,947.24 407.92,947.41 408.17,947.57 408.41,947.74 408.65,947.90 408.90,948.06 409.14,948.23 409.39,948.39 409.64,948.55 409.88,948.71 410.13,948.88 410.38,949.04 410.63,949.20 410.88,949.36 411.13,949.52 411.38,949.67 411.63,949.83 411.88,949.99 412.13,950.15 412.38,950.31 412.64,950.46 412.89,950.62 413.14,950.77 413.40,950.93 413.65,951.08 413.91,951.24 414.16,951.39 414.42,951.54 414.67,951.69 414.93,951.85 415.19,952.00 415.45,952.15 415.70,952.30 415.96,952.45 416.22,952.60 416.48,952.75 416.74,952.90 512.66,952.90 367.90,807.96" fill="#fada24"/>
<polygon points="367.90,857.02 368.13,857.60 368.35,858.18 368.58,858.75 368.80,859.33 369.03,859.90 369.27,860.47 369.50,861.04 369.73,861.61 369.97,862.17 370.21,862.74 370.45,863.30 370.69,863.86 370.93,864.42 371.18,864.97 371.43,865.53 371.67,866.08 371.92,866.63 372.18,867.18 372.43,867.73 372.68,868.28 372.94,868.82 373.20,869.37 373.46,869.91 373.72,870.45 373.99,870.99 374.25,871.53 374.52,872.06 374.78,872.60 375.05,873.13 375.33,873.66 375.60,874.19 375.87,874.72 376.15,875.24 376.43,875.77 376.71,876.29 376.99,876.81 377.27,877.33 377.55,877.85 377.84,878.36 378.13,878.88 378.41,879.39 378.70,879.90 379.00,880.41 379.29,880.92 379.58,881.43 379.88,881.94 380.18,882.44 380.48,882.94 380.78,883.45 381.08,883.95 381.38,884.44 381.69,884.94 381.99,885.44 382.30,885.93 382.61,886.42 382.92,886.91 383.23,887.40 383.55,887.89 383.86,888.38 384.18,888.86 384.50,889.35 384.82,889.83 385.14,890.31 385.46,890.79 385.79,891.27 386.11,891.74 386.44,892.22 386.77,892.69 387.10,893.16 387.43,893.63 387.76,894.10 388.10,894.57 388.43,895.04 388.77,895.50 389.11,895.97 389.45,896.43 389.79,896.89 390.13,897.35 390.47,897.81 390.82,898.26 391.17,898.72 391.51,899.17 391.86,899.62 392.22,900.07 392.57,900.52 392.92,900.97 393.28,901.42 393.63,901.86 393.99,902.31 394.35,902.75 394.71,903.19 395.07,903.63 395.44,904.07 395.80,904.51 396.17,904.94 396.54,905.37 396.91,905.81 397.28,906.24 397.65,906.67 398.02,907.10 398.40,907.52 398.77,907.95 399.15,908.37 399.53,908.80 399.91,909.22 400.29,909.64 400.67,910.06 401.06,910.48 401.44,910.89 401.83,911.31 402.22,911.72 402.61,912.13 403.00,912.54 403.39,912.95 403.78,913.36 404.18,913.77 404.58,914.17 404.97,914.58 405.37,914.98 405.77,915.38 406.18,915.78 406.58,916.18 406.98,916.58 407.39,916.97 407.80,917.37 408.21,917.76 408.62,918.15 409.03,918.54 409.44,918.93 409.86,919.32 410.27,919.70 410.69,920.09 411.11,920.47 411.53,920.85 411.95,921.23 412.37,921.61 412.80,921.99 413.22,922.37 413.65,922.74 414.08,923.12 414.50,923.49 414.94,923.86 415.37,924.23 415.80,924.60 416.24,924.96 416.67,925.33 417.11,925.69 417.55,926.06 417.99,926.42 418.43,926.78 418.88,927.14 419.32,927.49 419.77,927.85 420.21,928.20 420.66,928.56 421.11,928.91 421.56,929.26 422.02,929.61 422.47,929.95 422.93,930.30 423.39,930.64 423.84,930.99 424.30,931.33 424.77,931.67 425.23,932.01 425.69,932.34 426.16,932.68 426.63,933.01 427.09,933.35 427.56,933.68 428.04,934.01 428.51,934.34 428.98,934.67 429.46,934.99 429.94,935.32 430.42,935.64 430.90,935.96 431.38,936.28 431.86,936.60 432.34,936.92 432.83,937.23 433.32,937.55 433.81,937.86 434.30,938.17 434.79,938.48 435.28,938.79 435.78,939.10 436.27,939.40 436.77,939.71 437.27,940.01 437.77,940.31 438.27,940.61 438.78,940.91 439.28,941.20 439.79,941.50 440.30,941.79 440.81,942.08 441.32,942.37 441.83,942.66 442.35,942.95 442.86,943.24 443.38,943.52 443.90,943.80 444.42,944.08 444.94,944.36 445.47,944.64 445.99,944.92 446.52,945.19 447.05,945.47 447.58,945.74 448.11,946.01 448.64,946.28 449.18,946.54 449.71,946.81 450.25,947.07 450.79,947.33 451.33,947.59 451.87,947.85 452.42,948.11 452.96,948.36 453.51,948.62 454.06,948.87 454.61,949.12 455.17,949.37 455.72,949.62 456.28,949.86 456.83,950.11 457.39,950.35 457.96,950.59 458.52,950.83 459.08,951.06 459.65,951.30 460.22,951.53 460.79,951.76 461.36,951.99 461.93,952.22 462.51,952.45 463.08,952.67 463.66,952.90 512.66,952.90 367.90,807.96" fill="#febd2a"/>
<polygon points="369.01,809.08 369.12,810.16 369.25,811.23 369.37,812.30 369.51,813.36 369.65,814.41 369.80,815.45 369.96,816.49 370.12,817.53 370.28,818.55 370.46,819.57 370.63,820.59 370.82,821.60 371.01,822.61 371.20,823.60 371.40,824.60 371.61,825.59 371.82,826.57 372.04,827.55 372.26,828.52 372.48,829.49 372.72,830.45 372.95,831.41 373.19,832.36 373.44,833.30 373.69,834.25 373.95,835.18 374.21,836.12 374.48,837.04 374.75,837.97 375.02,838.89 375.30,839.80 375.59,840.71 375.88,841.61 376.17,842.52 376.47,843.41 376.77,844.30 377.08,845.19 377.39,846.07 377.70,846.95 378.02,847.83 378.34,848.70 378.67,849.56 379.00,850.43 379.34,851.28 379.68,852.14 380.02,852.99 380.37,853.83 380.72,854.68 381.08,855.51 381.44,856.35 381.80,857.18 382.17,858.00 382.54,858.83 382.92,859.64 383.30,860.46 383.68,861.27 384.06,862.08 384.46,862.88 384.85,863.68 385.25,864.48 385.65,865.27 386.05,866.06 386.46,866.84 386.87,867.62 387.29,868.40 387.71,869.18 388.13,869.95 388.56,870.71 388.99,871.48 389.42,872.24 389.86,872.99 390.30,873.75 390.74,874.50 391.19,875.24 391.64,875.99 392.10,876.73 392.55,877.46 393.02,878.19 393.48,878.92 393.95,879.65 394.42,880.37 394.89,881.09 395.37,881.81 395.85,882.52 396.34,883.23 396.82,883.93 397.32,884.64 397.81,885.34 398.31,886.03 398.81,886.72 399.31,887.41 399.82,888.10 400.33,888.78 400.85,889.46 401.36,890.14 401.88,890.81 402.41,891.48 402.93,892.15 403.46,892.81 404.00,893.47 404.53,894.13 405.07,894.78 405.62,895.43 406.16,896.08 406.71,896.73 407.26,897.37 407.82,898.01 408.38,898.64 408.94,899.27 409.50,899.90 410.07,900.53 410.64,901.15 411.22,901.77 411.79,902.38 412.38,903.00 412.96,903.61 413.55,904.21 414.14,904.82 414.73,905.42 415.33,906.01 415.93,906.61 416.53,907.20 417.13,907.79 417.74,908.37 418.35,908.95 418.97,909.53 419.59,910.11 420.21,910.68 420.83,911.25 421.46,911.81 422.09,912.37 422.73,912.93 423.36,913.49 424.01,914.04 424.65,914.59 425.30,915.14 425.95,915.68 426.60,916.22 427.26,916.76 427.91,917.29 428.58,917.82 429.24,918.35 429.91,918.88 430.59,919.40 431.26,919.91 431.94,920.43 432.62,920.94 433.31,921.45 434.00,921.95 434.69,922.46 435.38,922.95 436.08,923.45 436.78,923.94 437.49,924.43 438.20,924.91 438.91,925.40 439.62,925.87 440.34,926.35 441.06,926.82 441.79,927.29 442.52,927.75 443.25,928.22 443.98,928.67 444.72,929.13 445.46,929.58 446.21,930.03 446.96,930.47 447.71,930.91 448.46,931.35 449.22,931.79 449.99,932.22 450.75,932.64 451.52,933.07 452.30,933.49 453.07,933.90 453.85,934.32 454.64,934.72 455.43,935.13 456.22,935.53 457.01,935.93 457.81,936.32 458.61,936.72 459.42,937.10 460.23,937.49 461.04,937.87 461.86,938.24 462.68,938.61 463.51,938.98 464.34,939.35 465.17,939.71 466.01,940.06 466.85,940.41 467.69,940.76 468.54,941.11 469.39,941.45 470.25,941.78 471.11,942.12 471.98,942.44 472.85,942.77 473.72,943.09 474.60,943.40 475.48,943.71 476.37,944.02 477.26,944.32 478.15,944.62 479.05,944.91 479.95,945.20 480.86,945.49 481.78,945.77 482.69,946.04 483.62,946.32 484.54,946.58 485.47,946.84 486.41,947.10 487.35,947.35 488.30,947.60 489.25,947.84 490.20,948.08 491.17,948.31 492.13,948.54 493.10,948.76 494.08,948.98 495.06,949.19 496.05,949.39 497.04,949.59 498.04,949.79 499.04,949.98 500.05,950.16 501.06,950.34 502.08,950.51 503.11,950.68 504.14,950.84 505.18,951.00 506.23,951.14 507.28,951.29 508.33,951.42 509.40,951.55 510.47,951.68 511.54,951.79 512.66,952.90 367.90,807.96" fill="#fba238"/>
<polygon points="369.70,809.77 369.96,810.69 370.23,811.60 370.51,812.51 370.78,813.41 371.06,814.32 371.34,815.22 371.63,816.11 371.92,817.00 372.21,817.89 372.51,818.78 372.81,819.66 373.12,820.54 373.42,821.41 373.73,822.29 374.05,823.16 374.36,824.02 374.68,824.88 375.00,825.74 375.33,826.60 375.66,827.45 375.99,828.30 376.33,829.15 376.66,829.99 377.01,830.84 377.35,831.67 377.70,832.51 378.05,833.34 378.40,834.17 378.76,834.99 379.12,835.82 379.48,836.64 379.85,837.45 380.21,838.27 380.59,839.08 380.96,839.89 381.34,840.69 381.72,841.49 382.10,842.29 382.49,843.09 382.87,843.88 383.26,844.68 383.66,845.46 384.06,846.25 384.46,847.03 384.86,847.81 385.26,848.59 385.67,849.36 386.08,850.13 386.49,850.90 386.91,851.67 387.33,852.43 387.75,853.19 388.18,853.95 388.60,854.71 389.03,855.46 389.46,856.21 389.90,856.96 390.34,857.70 390.78,858.44 391.22,859.18 391.66,859.92 392.11,860.65 392.56,861.39 393.02,862.11 393.47,862.84 393.93,863.56 394.39,864.29 394.85,865.00 395.32,865.72 395.79,866.43 396.26,867.15 396.73,867.85 397.21,868.56 397.69,869.26 398.17,869.96 398.65,870.66 399.14,871.36 399.63,872.05 400.12,872.74 400.61,873.43 401.11,874.12 401.61,874.80 402.11,875.48 402.61,876.16 403.12,876.84 403.63,877.51 404.14,878.18 404.65,878.85 405.17,879.52 405.69,880.18 406.21,880.84 406.73,881.50 407.26,882.16 407.78,882.81 408.31,883.46 408.85,884.11 409.38,884.76 409.92,885.40 410.46,886.04 411.00,886.68 411.55,887.32 412.10,887.95 412.65,888.59 413.20,889.22 413.75,889.84 414.31,890.47 414.87,891.09 415.43,891.71 416.00,892.33 416.56,892.94 417.13,893.56 417.70,894.17 418.28,894.78 418.85,895.38 419.43,895.98 420.01,896.59 420.60,897.18 421.18,897.78 421.77,898.37 422.36,898.96 422.95,899.55 423.55,900.14 424.15,900.72 424.75,901.31 425.35,901.89 425.95,902.46 426.56,903.04 427.17,903.61 427.78,904.18 428.40,904.75 429.02,905.31 429.63,905.87 430.26,906.43 430.88,906.99 431.51,907.55 432.14,908.10 432.77,908.65 433.40,909.20 434.04,909.74 434.68,910.29 435.32,910.83 435.96,911.37 436.61,911.90 437.26,912.44 437.91,912.97 438.56,913.50 439.21,914.02 439.87,914.55 440.53,915.07 441.20,915.59 441.86,916.10 442.53,916.62 443.20,917.13 443.87,917.64 444.55,918.15 445.22,918.65 445.91,919.15 446.59,919.65 447.27,920.15 447.96,920.64 448.65,921.13 449.34,921.62 450.04,922.11 450.74,922.59 451.44,923.08 452.14,923.56 452.84,924.03 453.55,924.51 454.26,924.98 454.97,925.45 455.69,925.91 456.41,926.38 457.13,926.84 457.85,927.30 458.58,927.75 459.30,928.21 460.03,928.66 460.77,929.11 461.50,929.55 462.24,930.00 462.98,930.44 463.73,930.87 464.47,931.31 465.22,931.74 465.97,932.17 466.73,932.60 467.49,933.02 468.25,933.45 469.01,933.87 469.77,934.28 470.54,934.70 471.31,935.11 472.09,935.52 472.86,935.92 473.64,936.32 474.42,936.72 475.21,937.12 475.99,937.52 476.78,937.91 477.58,938.30 478.37,938.68 479.17,939.07 479.97,939.45 480.78,939.82 481.58,940.20 482.39,940.57 483.21,940.94 484.02,941.30 484.84,941.67 485.66,942.03 486.49,942.38 487.32,942.74 488.15,943.09 488.98,943.44 489.82,943.78 490.66,944.12 491.50,944.46 492.35,944.80 493.19,945.13 494.05,945.46 494.90,945.79 495.76,946.11 496.62,946.43 497.49,946.75 498.36,947.06 499.23,947.37 500.10,947.68 500.98,947.98 501.86,948.28 502.74,948.58 503.63,948.87 504.52,949.16 505.42,949.45 506.32,949.73 507.22,950.02 508.12,950.29 509.03,950.57 509.94,950.83 510.86,951.10 512.66,952.90 367.90,807.96" fill="#f48849"/>
<polygon points="374.53,814.61 374.85,815.38 375.18,816.16 375.50,816.94 375.83,817.71 376.17,818.48 376.50,819.24 376.84,820.01 377.17,820.77 377.51,821.53 377.86,822.29 378.20,823.05 378.55,823.80 378.90,824.55 379.25,825.30 379.60,826.05 379.96,826.80 380.32,827.54 380.67,828.28 381.04,829.02 381.40,829.76 381.77,830.50 382.13,831.23 382.50,831.96 382.88,832.69 383.25,833.42 383.63,834.14 384.00,834.87 384.38,835.59 384.77,836.31 385.15,837.02 385.54,837.74 385.93,838.45 386.32,839.16 386.71,839.87 387.10,840.58 387.50,841.28 387.90,841.99 388.30,842.69 388.70,843.39 389.10,844.08 389.51,844.78 389.92,845.47 390.33,846.16 390.74,846.85 391.15,847.54 391.57,848.23 391.99,848.91 392.41,849.59 392.83,850.27 393.25,850.95 393.68,851.62 394.10,852.30 394.53,852.97 394.96,853.64 395.40,854.31 395.83,854.98 396.27,855.64 396.71,856.30 397.15,856.96 397.59,857.62 398.03,858.28 398.48,858.94 398.93,859.59 399.38,860.24 399.83,860.89 400.28,861.54 400.74,862.18 401.19,862.83 401.65,863.47 402.11,864.11 402.58,864.75 403.04,865.39 403.51,866.02 403.97,866.65 404.44,867.28 404.92,867.91 405.39,868.54 405.86,869.17 406.34,869.79 406.82,870.41 407.30,871.03 407.78,871.65 408.27,872.27 408.75,872.88 409.24,873.50 409.73,874.11 410.22,874.72 410.72,875.33 411.21,875.93 411.71,876.54 412.21,877.14 412.71,877.74 413.21,878.34 413.72,878.93 414.22,879.53 414.73,880.12 415.24,880.71 415.75,881.30 416.26,881.89 416.78,882.48 417.29,883.06 417.81,883.65 418.33,884.23 418.86,884.81 419.38,885.38 419.90,885.96 420.43,886.53 420.96,887.11 421.49,887.68 422.02,888.24 422.56,888.81 423.09,889.38 423.63,889.94 424.17,890.50 424.71,891.06 425.26,891.62 425.80,892.17 426.35,892.73 426.90,893.28 427.45,893.83 428.00,894.38 428.55,894.93 429.11,895.47 429.66,896.02 430.22,896.56 430.78,897.10 431.35,897.64 431.91,898.18 432.48,898.71 433.05,899.24 433.62,899.78 434.19,900.31 434.76,900.83 435.33,901.36 435.91,901.88 436.49,902.41 437.07,902.93 437.65,903.45 438.24,903.96 438.82,904.48 439.41,904.99 440.00,905.50 440.59,906.01 441.18,906.52 441.78,907.03 442.37,907.53 442.97,908.04 443.57,908.54 444.17,909.04 444.78,909.53 445.38,910.03 445.99,910.52 446.60,911.02 447.21,911.51 447.82,912.00 448.43,912.48 449.05,912.97 449.67,913.45 450.29,913.93 450.91,914.41 451.53,914.89 452.16,915.37 452.78,915.84 453.41,916.31 454.04,916.78 454.67,917.25 455.31,917.72 455.94,918.18 456.58,918.65 457.22,919.11 457.86,919.57 458.51,920.02 459.15,920.48 459.80,920.93 460.45,921.39 461.10,921.84 461.75,922.28 462.41,922.73 463.06,923.18 463.72,923.62 464.38,924.06 465.04,924.50 465.71,924.94 466.37,925.37 467.04,925.80 467.71,926.24 468.38,926.67 469.05,927.09 469.73,927.52 470.41,927.94 471.08,928.37 471.77,928.79 472.45,929.20 473.13,929.62 473.82,930.03 474.51,930.45 475.20,930.86 475.89,931.26 476.59,931.67 477.28,932.08 477.98,932.48 478.68,932.88 479.38,933.28 480.09,933.67 480.79,934.07 481.50,934.46 482.21,934.85 482.92,935.24 483.64,935.63 484.35,936.01 485.07,936.40 485.79,936.78 486.51,937.15 487.24,937.53 487.96,937.91 488.69,938.28 489.42,938.65 490.16,939.02 490.89,939.38 491.63,939.75 492.37,940.11 493.11,940.47 493.85,940.83 494.59,941.18 495.34,941.54 496.09,941.89 496.84,942.24 497.60,942.59 498.35,942.93 499.11,943.27 499.87,943.62 500.63,943.95 501.39,944.29 502.16,944.62 502.93,944.96 503.70,945.29 504.47,945.61 505.25,945.94 506.03,946.26 512.66,952.90 367.90,807.96" fill="#e97158"/>
<polygon points="379.22,819.30 379.57,819.97 379.92,820.64 380.27,821.31 380.62,821.98 380.97,822.65 381.33,823.32 381.69,823.99 382.05,824.65 382.41,825.31 382.77,825.97 383.13,826.63 383.50,827.29 383.86,827.95 384.23,828.60 384.60,829.26 384.97,829.91 385.34,830.56 385.72,831.21 386.09,831.86 386.47,832.50 386.85,833.15 387.22,833.79 387.61,834.43 387.99,835.07 388.37,835.71 388.76,836.35 389.14,836.99 389.53,837.62 389.92,838.25 390.31,838.89 390.70,839.52 391.10,840.15 391.49,840.77 391.89,841.40 392.28,842.03 392.68,842.65 393.08,843.27 393.49,843.89 393.89,844.51 394.29,845.13 394.70,845.75 395.11,846.36 395.52,846.98 395.93,847.59 396.34,848.20 396.75,848.81 397.16,849.42 397.58,850.03 398.00,850.63 398.41,851.24 398.83,851.84 399.26,852.44 399.68,853.04 400.10,853.64 400.53,854.24 400.95,854.83 401.38,855.43 401.81,856.02 402.24,856.61 402.67,857.20 403.11,857.79 403.54,858.38 403.98,858.97 404.41,859.55 404.85,860.14 405.29,860.72 405.73,861.30 406.18,861.88 406.62,862.46 407.07,863.04 407.51,863.61 407.96,864.19 408.41,864.76 408.86,865.33 409.31,865.90 409.77,866.47 410.22,867.04 410.68,867.61 411.13,868.17 411.59,868.74 412.05,869.30 412.51,869.86 412.98,870.42 413.44,870.98 413.91,871.54 414.37,872.09 414.84,872.65 415.31,873.20 415.78,873.75 416.25,874.30 416.73,874.85 417.20,875.40 417.68,875.95 418.15,876.50 418.63,877.04 419.11,877.58 419.59,878.12 420.07,878.66 420.56,879.20 421.04,879.74 421.53,880.28 422.02,880.81 422.51,881.35 423.00,881.88 423.49,882.41 423.98,882.94 424.47,883.47 424.97,884.00 425.47,884.52 425.96,885.05 426.46,885.57 426.96,886.09 427.47,886.61 427.97,887.13 428.47,887.65 428.98,888.17 429.49,888.68 429.99,889.20 430.50,889.71 431.01,890.22 431.53,890.73 432.04,891.24 432.56,891.75 433.07,892.25 433.59,892.76 434.11,893.26 434.63,893.77 435.15,894.27 435.67,894.77 436.20,895.27 436.72,895.76 437.25,896.26 437.78,896.75 438.31,897.25 438.84,897.74 439.37,898.23 439.90,898.72 440.44,899.21 440.97,899.69 441.51,900.18 442.05,900.66 442.59,901.15 443.13,901.63 443.67,902.11 444.21,902.59 444.76,903.06 445.30,903.54 445.85,904.02 446.40,904.49 446.95,904.96 447.50,905.43 448.05,905.90 448.61,906.37 449.16,906.84 449.72,907.30 450.28,907.77 450.84,908.23 451.40,908.69 451.96,909.15 452.52,909.61 453.09,910.07 453.65,910.53 454.22,910.98 454.79,911.44 455.36,911.89 455.93,912.34 456.50,912.79 457.08,913.24 457.65,913.69 458.23,914.13 458.81,914.58 459.39,915.02 459.97,915.46 460.55,915.90 461.13,916.34 461.72,916.78 462.30,917.22 462.89,917.65 463.48,918.08 464.07,918.52 464.66,918.95 465.25,919.38 465.85,919.81 466.44,920.23 467.04,920.66 467.64,921.08 468.24,921.51 468.84,921.93 469.44,922.35 470.04,922.77 470.65,923.18 471.26,923.60 471.86,924.02 472.47,924.43 473.08,924.84 473.70,925.25 474.31,925.66 474.92,926.07 475.54,926.48 476.16,926.88 476.78,927.28 477.40,927.69 478.02,928.09 478.64,928.49 479.26,928.88 479.89,929.28 480.52,929.68 481.15,930.07 481.78,930.46 482.41,930.85 483.04,931.24 483.67,931.63 484.31,932.02 484.95,932.40 485.58,932.79 486.22,933.17 486.87,933.55 487.51,933.93 488.15,934.31 488.80,934.69 489.45,935.06 490.09,935.44 490.74,935.81 491.40,936.18 492.05,936.55 492.70,936.92 493.36,937.28 494.02,937.65 494.67,938.01 495.33,938.38 496.00,938.74 496.66,939.10 497.32,939.45 497.99,939.81 498.66,940.16 499.33,940.52 500.00,940.87 500.67,941.22 501.34,941.57 512.66,952.90 367.90,807.96" fill="#db5c68"/>
<polygon points="383.91,824.00 384.27,824.59 384.62,825.18 384.97,825.77 385.33,826.36 385.69,826.95 386.04,827.53 386.40,828.12 386.76,828.70 387.12,829.28 387.49,829.87 387.85,830.45 388.21,831.03 388.58,831.61 388.95,832.18 389.31,832.76 389.68,833.34 390.05,833.91 390.42,834.48 390.79,835.06 391.16,835.63 391.54,836.20 391.91,836.77 392.29,837.34 392.67,837.90 393.04,838.47 393.42,839.04 393.80,839.60 394.18,840.16 394.56,840.73 394.95,841.29 395.33,841.85 395.72,842.41 396.10,842.96 396.49,843.52 396.88,844.08 397.27,844.63 397.66,845.19 398.05,845.74 398.44,846.29 398.83,846.84 399.23,847.39 399.62,847.94 400.02,848.49 400.41,849.04 400.81,849.58 401.21,850.13 401.61,850.67 402.01,851.21 402.41,851.76 402.82,852.30 403.22,852.84 403.63,853.38 404.03,853.91 404.44,854.45 404.85,854.99 405.26,855.52 405.67,856.06 406.08,856.59 406.49,857.12 406.90,857.65 407.32,858.18 407.73,858.71 408.15,859.24 408.56,859.77 408.98,860.29 409.40,860.82 409.82,861.34 410.24,861.86 410.66,862.39 411.09,862.91 411.51,863.43 411.94,863.95 412.36,864.47 412.79,864.98 413.22,865.50 413.64,866.01 414.07,866.53 414.51,867.04 414.94,867.55 415.37,868.06 415.80,868.58 416.24,869.08 416.67,869.59 417.11,870.10 417.55,870.61 417.99,871.11 418.43,871.62 418.87,872.12 419.31,872.62 419.75,873.12 420.19,873.62 420.64,874.12 421.08,874.62 421.53,875.12 421.98,875.62 422.43,876.11 422.88,876.61 423.33,877.10 423.78,877.59 424.23,878.08 424.68,878.58 425.14,879.06 425.59,879.55 426.05,880.04 426.51,880.53 426.96,881.01 427.42,881.50 427.88,881.98 428.34,882.47 428.81,882.95 429.27,883.43 429.73,883.91 430.20,884.39 430.66,884.87 431.13,885.34 431.60,885.82 432.07,886.29 432.54,886.77 433.01,887.24 433.48,887.71 433.95,888.19 434.43,888.66 434.90,889.13 435.38,889.59 435.85,890.06 436.33,890.53 436.81,890.99 437.29,891.46 437.77,891.92 438.25,892.38 438.73,892.84 439.21,893.31 439.70,893.77 440.18,894.22 440.67,894.68 441.16,895.14 441.65,895.59 442.14,896.05 442.63,896.50 443.12,896.96 443.61,897.41 444.10,897.86 444.60,898.31 445.09,898.76 445.59,899.20 446.08,899.65 446.58,900.10 447.08,900.54 447.58,900.99 448.08,901.43 448.58,901.87 449.09,902.31 449.59,902.75 450.09,903.19 450.60,903.63 451.11,904.07 451.61,904.50 452.12,904.94 452.63,905.37 453.14,905.81 453.66,906.24 454.17,906.67 454.68,907.10 455.20,907.53 455.71,907.96 456.23,908.39 456.75,908.81 457.26,909.24 457.78,909.66 458.30,910.08 458.83,910.51 459.35,910.93 459.87,911.35 460.40,911.77 460.92,912.19 461.45,912.60 461.97,913.02 462.50,913.44 463.03,913.85 463.56,914.26 464.09,914.68 464.63,915.09 465.16,915.50 465.69,915.91 466.23,916.32 466.77,916.72 467.30,917.13 467.84,917.54 468.38,917.94 468.92,918.35 469.46,918.75 470.00,919.15 470.55,919.55 471.09,919.95 471.64,920.35 472.18,920.75 472.73,921.14 473.28,921.54 473.83,921.93 474.38,922.33 474.93,922.72 475.48,923.11 476.04,923.50 476.59,923.89 477.15,924.28 477.70,924.66 478.26,925.05 478.82,925.44 479.38,925.82 479.94,926.20 480.50,926.59 481.06,926.97 481.63,927.35 482.19,927.73 482.76,928.10 483.32,928.48 483.89,928.86 484.46,929.23 485.03,929.61 485.60,929.98 486.17,930.35 486.75,930.72 487.32,931.09 487.90,931.46 488.47,931.83 489.05,932.20 489.63,932.56 490.21,932.93 490.79,933.29 491.37,933.65 491.95,934.01 492.53,934.37 493.12,934.73 493.70,935.09 494.29,935.45 494.88,935.81 495.47,936.16 496.06,936.51 496.65,936.87 512.66,952.90 367.90,807.96" fill="#cb4679"/>
<polygon points="388.46,828.55 388.81,829.08 389.15,829.60 389.50,830.13 389.84,830.65 390.19,831.17 390.53,831.69 390.88,832.21 391.23,832.73 391.58,833.25 391.93,833.77 392.28,834.28 392.63,834.80 392.98,835.32 393.34,835.83 393.69,836.34 394.05,836.86 394.40,837.37 394.76,837.88 395.12,838.39 395.47,838.90 395.83,839.41 396.19,839.92 396.55,840.43 396.91,840.93 397.27,841.44 397.64,841.94 398.00,842.45 398.37,842.95 398.73,843.46 399.10,843.96 399.46,844.46 399.83,844.96 400.20,845.46 400.57,845.96 400.94,846.46 401.31,846.95 401.68,847.45 402.05,847.95 402.42,848.44 402.79,848.94 403.17,849.43 403.54,849.92 403.92,850.42 404.30,850.91 404.67,851.40 405.05,851.89 405.43,852.38 405.81,852.86 406.19,853.35 406.57,853.84 406.95,854.32 407.34,854.81 407.72,855.29 408.10,855.78 408.49,856.26 408.87,856.74 409.26,857.22 409.65,857.71 410.03,858.19 410.42,858.66 410.81,859.14 411.20,859.62 411.59,860.10 411.98,860.57 412.38,861.05 412.77,861.52 413.16,862.00 413.56,862.47 413.95,862.94 414.35,863.41 414.75,863.89 415.15,864.36 415.54,864.82 415.94,865.29 416.34,865.76 416.74,866.23 417.15,866.69 417.55,867.16 417.95,867.62 418.35,868.09 418.76,868.55 419.16,869.01 419.57,869.48 419.98,869.94 420.38,870.40 420.79,870.86 421.20,871.32 421.61,871.77 422.02,872.23 422.43,872.69 422.84,873.14 423.26,873.60 423.67,874.05 424.08,874.51 424.50,874.96 424.92,875.41 425.33,875.86 425.75,876.31 426.17,876.76 426.59,877.21 427.00,877.66 427.43,878.11 427.85,878.56 428.27,879.00 428.69,879.45 429.11,879.89 429.54,880.34 429.96,880.78 430.39,881.22 430.81,881.66 431.24,882.10 431.67,882.54 432.10,882.98 432.53,883.42 432.96,883.86 433.39,884.30 433.82,884.73 434.25,885.17 434.68,885.60 435.12,886.04 435.55,886.47 435.99,886.90 436.42,887.33 436.86,887.77 437.30,888.20 437.73,888.63 438.17,889.06 438.61,889.48 439.05,889.91 439.49,890.34 439.93,890.76 440.38,891.19 440.82,891.61 441.26,892.04 441.71,892.46 442.15,892.88 442.60,893.30 443.05,893.72 443.50,894.14 443.94,894.56 444.39,894.98 444.84,895.40 445.29,895.82 445.75,896.23 446.20,896.65 446.65,897.06 447.11,897.48 447.56,897.89 448.01,898.30 448.47,898.71 448.93,899.12 449.39,899.53 449.84,899.94 450.30,900.35 450.76,900.76 451.22,901.17 451.68,901.57 452.15,901.98 452.61,902.39 453.07,902.79 453.54,903.19 454.00,903.60 454.47,904.00 454.93,904.40 455.40,904.80 455.87,905.20 456.34,905.60 456.81,906.00 457.28,906.39 457.75,906.79 458.22,907.19 458.69,907.58 459.17,907.98 459.64,908.37 460.12,908.76 460.59,909.15 461.07,909.55 461.54,909.94 462.02,910.33 462.50,910.71 462.98,911.10 463.46,911.49 463.94,911.88 464.42,912.26 464.90,912.65 465.39,913.03 465.87,913.42 466.36,913.80 466.84,914.18 467.33,914.56 467.81,914.94 468.30,915.32 468.79,915.70 469.28,916.08 469.77,916.46 470.26,916.84 470.75,917.21 471.24,917.59 471.74,917.96 472.23,918.34 472.73,918.71 473.22,919.08 473.72,919.45 474.21,919.82 474.71,920.19 475.21,920.56 475.71,920.93 476.21,921.30 476.71,921.67 477.21,922.03 477.71,922.40 478.22,922.76 478.72,923.13 479.23,923.49 479.73,923.85 480.24,924.21 480.74,924.57 481.25,924.93 481.76,925.29 482.27,925.65 482.78,926.01 483.29,926.37 483.80,926.72 484.32,927.08 484.83,927.43 485.34,927.78 485.86,928.14 486.37,928.49 486.89,928.84 487.41,929.19 487.92,929.54 488.44,929.89 488.96,930.24 489.48,930.59 490.00,930.93 490.53,931.28 491.05,931.62 491.57,931.97 492.10,932.31 512.66,952.90 367.90,807.96" fill="#b83289"/>
<polygon points="393.16,833.26 393.48,833.72 393.81,834.18 394.14,834.65 394.46,835.11 394.79,835.57 395.12,836.03 395.45,836.49 395.78,836.95 396.10,837.41 396.43,837.87 396.77,838.33 397.10,838.79 397.43,839.25 397.76,839.70 398.09,840.16 398.43,840.61 398.76,841.07 399.10,841.52 399.43,841.98 399.77,842.43 400.11,842.88 400.44,843.33 400.78,843.78 401.12,844.24 401.46,844.69 401.80,845.13 402.14,845.58 402.48,846.03 402.82,846.48 403.16,846.93 403.51,847.37 403.85,847.82 404.19,848.26 404.54,848.71 404.88,849.15 405.23,849.60 405.58,850.04 405.92,850.48 406.27,850.92 406.62,851.36 406.97,851.81 407.31,852.25 407.66,852.68 408.02,853.12 408.37,853.56 408.72,854.00 409.07,854.44 409.42,854.87 409.78,855.31 410.13,855.74 410.48,856.18 410.84,856.61 411.19,857.05 411.55,857.48 411.91,857.91 412.26,858.34 412.62,858.78 412.98,859.21 413.34,859.64 413.70,860.07 414.06,860.49 414.42,860.92 414.78,861.35 415.14,861.78 415.51,862.20 415.87,862.63 416.23,863.06 416.60,863.48 416.96,863.90 417.33,864.33 417.69,864.75 418.06,865.17 418.43,865.60 418.80,866.02 419.16,866.44 419.53,866.86 419.90,867.28 420.27,867.70 420.64,868.12 421.01,868.53 421.39,868.95 421.76,869.37 422.13,869.78 422.51,870.20 422.88,870.61 423.25,871.03 423.63,871.44 424.01,871.85 424.38,872.27 424.76,872.68 425.14,873.09 425.52,873.50 425.89,873.91 426.27,874.32 426.65,874.73 427.03,875.14 427.41,875.55 427.80,875.96 428.18,876.36 428.56,876.77 428.94,877.17 429.33,877.58 429.71,877.98 430.10,878.39 430.48,878.79 430.87,879.19 431.26,879.60 431.64,880.00 432.03,880.40 432.42,880.80 432.81,881.20 433.20,881.60 433.59,882.00 433.98,882.40 434.37,882.79 434.76,883.19 435.16,883.59 435.55,883.98 435.94,884.38 436.34,884.77 436.73,885.17 437.13,885.56 437.52,885.95 437.92,886.35 438.32,886.74 438.72,887.13 439.11,887.52 439.51,887.91 439.91,888.30 440.31,888.69 440.71,889.08 441.11,889.47 441.52,889.85 441.92,890.24 442.32,890.63 442.73,891.01 443.13,891.40 443.53,891.78 443.94,892.17 444.35,892.55 444.75,892.93 445.16,893.31 445.57,893.69 445.97,894.08 446.38,894.46 446.79,894.84 447.20,895.22 447.61,895.59 448.02,895.97 448.44,896.35 448.85,896.73 449.26,897.10 449.67,897.48 450.09,897.85 450.50,898.23 450.92,898.60 451.33,898.98 451.75,899.35 452.17,899.72 452.58,900.09 453.00,900.46 453.42,900.83 453.84,901.20 454.26,901.57 454.68,901.94 455.10,902.31 455.52,902.68 455.94,903.05 456.36,903.41 456.79,903.78 457.21,904.14 457.64,904.51 458.06,904.87 458.49,905.24 458.91,905.60 459.34,905.96 459.77,906.32 460.19,906.68 460.62,907.05 461.05,907.41 461.48,907.76 461.91,908.12 462.34,908.48 462.77,908.84 463.21,909.20 463.64,909.55 464.07,909.91 464.50,910.26 464.94,910.62 465.37,910.97 465.81,911.33 466.24,911.68 466.68,912.03 467.12,912.39 467.56,912.74 467.99,913.09 468.43,913.44 468.87,913.79 469.31,914.14 469.75,914.48 470.19,914.83 470.64,915.18 471.08,915.53 471.52,915.87 471.97,916.22 472.41,916.56 472.85,916.91 473.30,917.25 473.75,917.59 474.19,917.94 474.64,918.28 475.09,918.62 475.54,918.96 475.98,919.30 476.43,919.64 476.88,919.98 477.33,920.32 477.79,920.65 478.24,920.99 478.69,921.33 479.14,921.66 479.60,922.00 480.05,922.33 480.51,922.67 480.96,923.00 481.42,923.34 481.87,923.67 482.33,924.00 482.79,924.33 483.25,924.66 483.71,924.99 484.17,925.32 484.63,925.65 485.09,925.98 485.55,926.31 486.01,926.63 486.47,926.96 486.94,927.28 487.40,927.61 512.66,952.90 367.90,807.96" fill="#a31e9a"/>
<polygon points="398.95,839.05 399.24,839.45 399.54,839.85 399.83,840.25 400.12,840.65 400.42,841.05 400.71,841.44 401.01,841.84 401.31,842.24 401.60,842.63 401.90,843.03 402.20,843.42 402.49,843.82 402.79,844.21 403.09,844.60 403.39,845.00 403.69,845.39 403.99,845.78 404.29,846.17 404.59,846.57 404.89,846.96 405.19,847.35 405.49,847.74 405.80,848.13 406.10,848.52 406.40,848.90 406.71,849.29 407.01,849.68 407.32,850.07 407.62,850.45 407.93,850.84 408.23,851.23 408.54,851.61 408.85,852.00 409.16,852.38 409.46,852.77 409.77,853.15 410.08,853.53 410.39,853.91 410.70,854.30 411.01,854.68 411.32,855.06 411.63,855.44 411.95,855.82 412.26,856.20 412.57,856.58 412.88,856.96 413.20,857.34 413.51,857.72 413.82,858.10 414.14,858.47 414.45,858.85 414.77,859.23 415.09,859.60 415.40,859.98 415.72,860.35 416.04,860.73 416.36,861.10 416.67,861.48 416.99,861.85 417.31,862.22 417.63,862.59 417.95,862.97 418.27,863.34 418.59,863.71 418.92,864.08 419.24,864.45 419.56,864.82 419.88,865.19 420.21,865.56 420.53,865.93 420.85,866.29 421.18,866.66 421.50,867.03 421.83,867.40 422.15,867.76 422.48,868.13 422.81,868.49 423.13,868.86 423.46,869.22 423.79,869.59 424.12,869.95 424.45,870.31 424.78,870.68 425.11,871.04 425.44,871.40 425.77,871.76 426.10,872.12 426.43,872.48 426.76,872.84 427.10,873.20 427.43,873.56 427.76,873.92 428.10,874.28 428.43,874.64 428.77,874.99 429.10,875.35 429.44,875.71 429.77,876.06 430.11,876.42 430.45,876.77 430.78,877.13 431.12,877.48 431.46,877.84 431.80,878.19 432.14,878.54 432.48,878.89 432.82,879.25 433.16,879.60 433.50,879.95 433.84,880.30 434.18,880.65 434.53,881.00 434.87,881.35 435.21,881.70 435.56,882.05 435.90,882.39 436.24,882.74 436.59,883.09 436.93,883.44 437.28,883.78 437.63,884.13 437.97,884.47 438.32,884.82 438.67,885.16 439.02,885.51 439.36,885.85 439.71,886.19 440.06,886.54 440.41,886.88 440.76,887.22 441.11,887.56 441.46,887.90 441.82,888.24 442.17,888.58 442.52,888.92 442.87,889.26 443.23,889.60 443.58,889.94 443.94,890.28 444.29,890.62 444.65,890.95 445.00,891.29 445.36,891.62 445.71,891.96 446.07,892.30 446.43,892.63 446.79,892.96 447.14,893.30 447.50,893.63 447.86,893.96 448.22,894.30 448.58,894.63 448.94,894.96 449.30,895.29 449.66,895.62 450.03,895.95 450.39,896.28 450.75,896.61 451.11,896.94 451.48,897.27 451.84,897.60 452.21,897.93 452.57,898.25 452.94,898.58 453.30,898.91 453.67,899.23 454.03,899.56 454.40,899.88 454.77,900.21 455.14,900.53 455.51,900.86 455.87,901.18 456.24,901.50 456.61,901.82 456.98,902.15 457.35,902.47 457.73,902.79 458.10,903.11 458.47,903.43 458.84,903.75 459.21,904.07 459.59,904.39 459.96,904.70 460.34,905.02 460.71,905.34 461.09,905.66 461.46,905.97 461.84,906.29 462.21,906.60 462.59,906.92 462.97,907.23 463.35,907.55 463.72,907.86 464.10,908.18 464.48,908.49 464.86,908.80 465.24,909.11 465.62,909.43 466.00,909.74 466.38,910.05 466.77,910.36 467.15,910.67 467.53,910.98 467.91,911.29 468.30,911.59 468.68,911.90 469.07,912.21 469.45,912.52 469.84,912.82 470.22,913.13 470.61,913.43 471.00,913.74 471.38,914.04 471.77,914.35 472.16,914.65 472.55,914.96 472.94,915.26 473.33,915.56 473.72,915.86 474.11,916.17 474.50,916.47 474.89,916.77 475.28,917.07 475.67,917.37 476.07,917.67 476.46,917.97 476.85,918.27 477.25,918.56 477.64,918.86 478.04,919.16 478.43,919.45 478.83,919.75 479.22,920.05 479.62,920.34 480.02,920.64 480.41,920.93 480.81,921.22 481.21,921.52 481.61,921.81 512.66,952.90 367.90,807.96" fill="#8b0aa5"/>
<polygon points="405.17,845.28 405.42,845.61 405.68,845.94 405.93,846.28 406.19,846.61 406.44,846.94 406.70,847.27 406.96,847.60 407.21,847.93 407.47,848.27 407.73,848.60 407.99,848.93 408.24,849.26 408.50,849.59 408.76,849.91 409.02,850.24 409.28,850.57 409.54,850.90 409.80,851.23 410.06,851.56 410.32,851.88 410.58,852.21 410.84,852.54 411.11,852.86 411.37,853.19 411.63,853.51 411.89,853.84 412.16,854.16 412.42,854.49 412.68,854.81 412.95,855.14 413.21,855.46 413.48,855.78 413.74,856.11 414.01,856.43 414.28,856.75 414.54,857.07 414.81,857.39 415.08,857.71 415.34,858.03 415.61,858.36 415.88,858.68 416.15,859.00 416.41,859.31 416.68,859.63 416.95,859.95 417.22,860.27 417.49,860.59 417.76,860.91 418.03,861.22 418.30,861.54 418.58,861.86 418.85,862.18 419.12,862.49 419.39,862.81 419.66,863.12 419.94,863.44 420.21,863.75 420.48,864.07 420.76,864.38 421.03,864.70 421.31,865.01 421.58,865.32 421.86,865.64 422.13,865.95 422.41,866.26 422.68,866.57 422.96,866.88 423.24,867.19 423.51,867.51 423.79,867.82 424.07,868.13 424.35,868.44 424.63,868.75 424.90,869.06 425.18,869.36 425.46,869.67 425.74,869.98 426.02,870.29 426.30,870.60 426.58,870.90 426.86,871.21 427.15,871.52 427.43,871.82 427.71,872.13 427.99,872.44 428.27,872.74 428.56,873.05 428.84,873.35 429.13,873.66 429.41,873.96 429.69,874.26 429.98,874.57 430.26,874.87 430.55,875.17 430.83,875.47 431.12,875.78 431.41,876.08 431.69,876.38 431.98,876.68 432.27,876.98 432.55,877.28 432.84,877.58 433.13,877.88 433.42,878.18 433.71,878.48 434.00,878.78 434.29,879.08 434.58,879.38 434.87,879.67 435.16,879.97 435.45,880.27 435.74,880.56 436.03,880.86 436.32,881.16 436.62,881.45 436.91,881.75 437.20,882.04 437.49,882.34 437.79,882.63 438.08,882.93 438.38,883.22 438.67,883.51 438.97,883.81 439.26,884.10 439.56,884.39 439.85,884.69 440.15,884.98 440.44,885.27 440.74,885.56 441.04,885.85 441.34,886.14 441.63,886.43 441.93,886.72 442.23,887.01 442.53,887.30 442.83,887.59 443.13,887.88 443.43,888.17 443.73,888.45 444.03,888.74 444.33,889.03 444.63,889.32 444.93,889.60 445.23,889.89 445.53,890.18 445.84,890.46 446.14,890.75 446.44,891.03 446.75,891.32 447.05,891.60 447.35,891.89 447.66,892.17 447.96,892.45 448.27,892.74 448.57,893.02 448.88,893.30 449.18,893.58 449.49,893.86 449.80,894.15 450.10,894.43 450.41,894.71 450.72,894.99 451.03,895.27 451.33,895.55 451.64,895.83 451.95,896.11 452.26,896.39 452.57,896.66 452.88,896.94 453.19,897.22 453.50,897.50 453.81,897.77 454.12,898.05 454.44,898.33 454.75,898.60 455.06,898.88 455.37,899.15 455.68,899.43 456.00,899.70 456.31,899.98 456.63,900.25 456.94,900.53 457.25,900.80 457.57,901.07 457.88,901.35 458.20,901.62 458.52,901.89 458.83,902.16 459.15,902.44 459.46,902.71 459.78,902.98 460.10,903.25 460.42,903.52 460.74,903.79 461.05,904.06 461.37,904.33 461.69,904.60 462.01,904.86 462.33,905.13 462.65,905.40 462.97,905.67 463.29,905.94 463.61,906.20 463.93,906.47 464.26,906.73 464.58,907.00 464.90,907.27 465.22,907.53 465.55,907.80 465.87,908.06 466.19,908.33 466.52,908.59 466.84,908.85 467.17,909.12 467.49,909.38 467.82,909.64 468.14,909.90 468.47,910.17 468.80,910.43 469.12,910.69 469.45,910.95 469.78,911.21 470.10,911.47 470.43,911.73 470.76,911.99 471.09,912.25 471.42,912.51 471.75,912.77 472.08,913.02 472.41,913.28 472.74,913.54 473.07,913.80 473.40,914.05 473.73,914.31 474.06,914.57 474.40,914.82 474.73,915.08 475.06,915.33 475.39,915.59 512.66,952.90 367.90,807.96" fill="#6f00a8"/>
<polygon points="412.76,852.88 412.96,853.13 413.16,853.39 413.37,853.65 413.57,853.91 413.77,854.17 413.98,854.42 414.18,854.68 414.38,854.94 414.59,855.19 414.79,855.45 415.00,855.70 415.20,855.96 415.41,856.22 415.62,856.47 415.82,856.73 416.03,856.98 416.23,857.24 416.44,857.49 416.65,857.74 416.85,858.00 417.06,858.25 417.27,858.50 417.48,858.76 417.69,859.01 417.89,859.26 418.10,859.52 418.31,859.77 418.52,860.02 418.73,860.27 418.94,860.52 419.15,860.77 419.36,861.03 419.57,861.28 419.78,861.53 419.99,861.78 420.20,862.03 420.41,862.28 420.62,862.53 420.83,862.78 421.05,863.03 421.26,863.27 421.47,863.52 421.68,863.77 421.90,864.02 422.11,864.27 422.32,864.52 422.53,864.76 422.75,865.01 422.96,865.26 423.18,865.50 423.39,865.75 423.61,866.00 423.82,866.24 424.04,866.49 424.25,866.73 424.47,866.98 424.68,867.23 424.90,867.47 425.11,867.71 425.33,867.96 425.55,868.20 425.76,868.45 425.98,868.69 426.20,868.94 426.42,869.18 426.63,869.42 426.85,869.66 427.07,869.91 427.29,870.15 427.51,870.39 427.73,870.63 427.95,870.88 428.17,871.12 428.38,871.36 428.60,871.60 428.82,871.84 429.05,872.08 429.27,872.32 429.49,872.56 429.71,872.80 429.93,873.04 430.15,873.28 430.37,873.52 430.59,873.76 430.82,874.00 431.04,874.23 431.26,874.47 431.48,874.71 431.71,874.95 431.93,875.19 432.15,875.42 432.38,875.66 432.60,875.90 432.83,876.13 433.05,876.37 433.28,876.61 433.50,876.84 433.73,877.08 433.95,877.31 434.18,877.55 434.40,877.78 434.63,878.02 434.86,878.25 435.08,878.49 435.31,878.72 435.54,878.96 435.76,879.19 435.99,879.42 436.22,879.66 436.45,879.89 436.68,880.12 436.90,880.35 437.13,880.59 437.36,880.82 437.59,881.05 437.82,881.28 438.05,881.51 438.28,881.74 438.51,881.97 438.74,882.20 438.97,882.44 439.20,882.67 439.43,882.90 439.66,883.12 439.90,883.35 440.13,883.58 440.36,883.81 440.59,884.04 440.82,884.27 441.06,884.50 441.29,884.73 441.52,884.95 441.76,885.18 441.99,885.41 442.22,885.64 442.46,885.86 442.69,886.09 442.93,886.32 443.16,886.54 443.40,886.77 443.63,886.99 443.87,887.22 444.10,887.44 444.34,887.67 444.57,887.89 444.81,888.12 445.05,888.34 445.28,888.57 445.52,888.79 445.76,889.02 445.99,889.24 446.23,889.46 446.47,889.68 446.71,889.91 446.95,890.13 447.19,890.35 447.42,890.57 447.66,890.80 447.90,891.02 448.14,891.24 448.38,891.46 448.62,891.68 448.86,891.90 449.10,892.12 449.34,892.34 449.58,892.56 449.83,892.78 450.07,893.00 450.31,893.22 450.55,893.44 450.79,893.66 451.04,893.88 451.28,894.10 451.52,894.31 451.76,894.53 452.01,894.75 452.25,894.97 452.49,895.18 452.74,895.40 452.98,895.62 453.23,895.83 453.47,896.05 453.72,896.27 453.96,896.48 454.21,896.70 454.45,896.91 454.70,897.13 454.94,897.34 455.19,897.56 455.44,897.77 455.68,897.99 455.93,898.20 456.18,898.41 456.43,898.63 456.67,898.84 456.92,899.05 457.17,899.27 457.42,899.48 457.67,899.69 457.92,899.90 458.16,900.11 458.41,900.33 458.66,900.54 458.91,900.75 459.16,900.96 459.41,901.17 459.66,901.38 459.91,901.59 460.17,901.80 460.42,902.01 460.67,902.22 460.92,902.43 461.17,902.64 461.42,902.85 461.68,903.05 461.93,903.26 462.18,903.47 462.43,903.68 462.69,903.89 462.94,904.09 463.19,904.30 463.45,904.51 463.70,904.71 463.96,904.92 464.21,905.13 464.47,905.33 464.72,905.54 464.98,905.74 465.23,905.95 465.49,906.15 465.75,906.36 466.00,906.56 466.26,906.77 466.52,906.97 466.77,907.18 467.03,907.38 467.29,907.58 467.54,907.79 467.80,907.99 512.66,952.90 367.90,807.96" fill="#5302a3"/>
<polygon points="421.72,861.85 421.86,862.02 422.00,862.20 422.14,862.37 422.28,862.54 422.42,862.71 422.56,862.88 422.70,863.05 422.84,863.22 422.98,863.39 423.12,863.56 423.26,863.73 423.40,863.90 423.54,864.07 423.68,864.24 423.83,864.41 423.97,864.58 424.11,864.75 424.25,864.92 424.39,865.09 424.53,865.26 424.67,865.43 424.82,865.60 424.96,865.77 425.10,865.93 425.24,866.10 425.39,866.27 425.53,866.44 425.67,866.61 425.81,866.77 425.96,866.94 426.10,867.11 426.24,867.28 426.39,867.44 426.53,867.61 426.68,867.78 426.82,867.95 426.96,868.11 427.11,868.28 427.25,868.45 427.40,868.61 427.54,868.78 427.69,868.94 427.83,869.11 427.98,869.28 428.12,869.44 428.27,869.61 428.41,869.77 428.56,869.94 428.70,870.10 428.85,870.27 428.99,870.43 429.14,870.60 429.29,870.76 429.43,870.93 429.58,871.09 429.73,871.25 429.87,871.42 430.02,871.58 430.17,871.75 430.31,871.91 430.46,872.07 430.61,872.24 430.76,872.40 430.90,872.56 431.05,872.72 431.20,872.89 431.35,873.05 431.50,873.21 431.65,873.38 431.79,873.54 431.94,873.70 432.09,873.86 432.24,874.02 432.39,874.18 432.54,874.35 432.69,874.51 432.84,874.67 432.99,874.83 433.14,874.99 433.29,875.15 433.44,875.31 433.59,875.47 433.74,875.63 433.89,875.79 434.04,875.95 434.19,876.11 434.34,876.27 434.49,876.43 434.64,876.59 434.79,876.75 434.94,876.91 435.10,877.07 435.25,877.23 435.40,877.39 435.55,877.55 435.70,877.71 435.86,877.87 436.01,878.02 436.16,878.18 436.31,878.34 436.47,878.50 436.62,878.66 436.77,878.82 436.92,878.97 437.08,879.13 437.23,879.29 437.38,879.44 437.54,879.60 437.69,879.76 437.85,879.92 438.00,880.07 438.15,880.23 438.31,880.39 438.46,880.54 438.62,880.70 438.77,880.85 438.93,881.01 439.08,881.17 439.24,881.32 439.39,881.48 439.55,881.63 439.70,881.79 439.86,881.94 440.02,882.10 440.17,882.25 440.33,882.41 440.48,882.56 440.64,882.72 440.80,882.87 440.95,883.02 441.11,883.18 441.27,883.33 441.42,883.49 441.58,883.64 441.74,883.79 441.90,883.95 442.05,884.10 442.21,884.25 442.37,884.40 442.53,884.56 442.68,884.71 442.84,884.86 443.00,885.02 443.16,885.17 443.32,885.32 443.48,885.47 443.64,885.62 443.80,885.77 443.95,885.93 444.11,886.08 444.27,886.23 444.43,886.38 444.59,886.53 444.75,886.68 444.91,886.83 445.07,886.98 445.23,887.13 445.39,887.28 445.55,887.43 445.71,887.58 445.88,887.73 446.04,887.88 446.20,888.03 446.36,888.18 446.52,888.33 446.68,888.48 446.84,888.63 447.01,888.78 447.17,888.93 447.33,889.08 447.49,889.23 447.65,889.37 447.82,889.52 447.98,889.67 448.14,889.82 448.30,889.97 448.47,890.12 448.63,890.26 448.79,890.41 448.96,890.56 449.12,890.70 449.28,890.85 449.45,891.00 449.61,891.15 449.78,891.29 449.94,891.44 450.10,891.59 450.27,891.73 450.43,891.88 450.60,892.02 450.76,892.17 450.93,892.32 451.09,892.46 451.26,892.61 451.42,892.75 451.59,892.90 451.76,893.04 451.92,893.19 452.09,893.33 452.25,893.48 452.42,893.62 452.59,893.77 452.75,893.91 452.92,894.05 453.09,894.20 453.25,894.34 453.42,894.49 453.59,894.63 453.75,894.77 453.92,894.92 454.09,895.06 454.26,895.20 454.42,895.34 454.59,895.49 454.76,895.63 454.93,895.77 455.10,895.91 455.27,896.06 455.43,896.20 455.60,896.34 455.77,896.48 455.94,896.62 456.11,896.77 456.28,896.91 456.45,897.05 456.62,897.19 456.79,897.33 456.96,897.47 457.13,897.61 457.30,897.75 457.47,897.89 457.64,898.03 457.81,898.17 457.98,898.31 458.15,898.45 458.32,898.59 458.49,898.73 458.67,898.87 458.84,899.01 512.66,952.90 367.90,807.96" fill="#350498"/>
<line x1="367.90" y1="807.96" x2="512.66" y2="952.90" stroke="#f6bf3b" stroke-width="1.15" stroke-opacity="0.95" transform="translate(0.25 -0.25)"/>
</g>
<path d="M616.3 704.2V952.9" stroke="#9c9c9c" stroke-width="1.15" fill="none"/>
<path d="M363.4 952.9H616.3" stroke="#9c9c9c" stroke-width="1.15" fill="none"/>
<path d="M616.3 952.90h4M367.90 952.9v4M616.3 939.08h4M381.70 952.9v4M616.3 925.27h4M395.50 952.9v4M616.3 911.45h4M409.30 952.9v4M616.3 897.63h4M423.10 952.9v4M616.3 883.82h4M436.90 952.9v4M616.3 870.00h4M450.70 952.9v4M616.3 856.18h4M464.50 952.9v4M616.3 842.37h4M478.30 952.9v4M616.3 828.55h4M492.10 952.9v4M616.3 814.73h4M505.90 952.9v4M616.3 800.92h4M519.70 952.9v4M616.3 787.10h4M533.50 952.9v4M616.3 773.28h4M547.30 952.9v4M616.3 759.47h4M561.10 952.9v4M616.3 745.65h4M574.90 952.9v4M616.3 731.83h4M588.70 952.9v4M616.3 718.02h4M602.50 952.9v4M616.3 704.20h4M616.30 952.9v4" stroke="#9c9c9c" stroke-width="1.15" fill="none"/>
<path d="M367.9 952.9V704.2H616.3" stroke="#7f7f7f" stroke-width="1.4" fill="none"/>
<text x="623.3" y="957.50" class="t r">0</text>
<text x="623.3" y="943.74" class="t r">100</text>
<text x="623.3" y="929.98" class="t r">200</text>
<text x="623.3" y="916.22" class="t r">300</text>
<text x="623.3" y="902.46" class="t r">400</text>
<text x="623.3" y="888.69" class="t r">500</text>
<text x="623.3" y="874.93" class="t r">600</text>
<text x="623.3" y="861.17" class="t r">700</text>
<text x="623.3" y="847.41" class="t r">800</text>
<text x="623.3" y="833.65" class="t r">900</text>
<text x="623.3" y="819.89" class="t r">1000</text>
<text x="623.3" y="806.13" class="t r">1100</text>
<text x="623.3" y="792.37" class="t r">1200</text>
<text x="623.3" y="778.61" class="t r">1300</text>
<text x="623.3" y="764.84" class="t r">1400</text>
<text x="623.3" y="751.08" class="t r">1500</text>
<text x="623.3" y="737.32" class="t r">1600</text>
<text x="623.3" y="723.56" class="t r">1700</text>
<text x="623.3" y="709.80" class="t r">1800</text>
<text transform="translate(371.80 960.2) rotate(-90)" text-anchor="end" class="t">0</text>
<text transform="translate(385.60 960.2) rotate(-90)" text-anchor="end" class="t">100</text>
<text transform="translate(399.40 960.2) rotate(-90)" text-anchor="end" class="t">200</text>
<text transform="translate(413.20 960.2) rotate(-90)" text-anchor="end" class="t">300</text>
<text transform="translate(427.00 960.2) rotate(-90)" text-anchor="end" class="t">400</text>
<text transform="translate(440.80 960.2) rotate(-90)" text-anchor="end" class="t">500</text>
<text transform="translate(454.60 960.2) rotate(-90)" text-anchor="end" class="t">600</text>
<text transform="translate(468.40 960.2) rotate(-90)" text-anchor="end" class="t">700</text>
<text transform="translate(482.20 960.2) rotate(-90)" text-anchor="end" class="t">800</text>
<text transform="translate(496.00 960.2) rotate(-90)" text-anchor="end" class="t">900</text>
<text transform="translate(509.80 960.2) rotate(-90)" text-anchor="end" class="t">1 000</text>
<text transform="translate(523.60 960.2) rotate(-90)" text-anchor="end" class="t">1 100</text>
<text transform="translate(537.40 960.2) rotate(-90)" text-anchor="end" class="t">1 200</text>
<text transform="translate(551.20 960.2) rotate(-90)" text-anchor="end" class="t">1 300</text>
<text transform="translate(565.00 960.2) rotate(-90)" text-anchor="end" class="t">1 400</text>
<text transform="translate(578.80 960.2) rotate(-90)" text-anchor="end" class="t">1 500</text>
<text transform="translate(592.60 960.2) rotate(-90)" text-anchor="end" class="t">1 600</text>
<text transform="translate(606.40 960.2) rotate(-90)" text-anchor="end" class="t">1 700</text>
<text transform="translate(620.20 960.2) rotate(-90)" text-anchor="end" class="t">1 800</text>
<text x="490.1" y="1001.4" text-anchor="middle" class="a" textLength="146.6" lengthAdjust="spacingAndGlyphs">TF INTENSITY DIR. A [VEH/H]</text>
<text transform="translate(664.9 828.8) rotate(-90)" text-anchor="middle" class="a yb" textLength="144.5" lengthAdjust="spacingAndGlyphs">TF INTENSITY DIR. B [VEH/H]</text>
<text x="516.8" y="1022.3" text-anchor="middle" class="c">f)</text>
</svg>
</body></html>
